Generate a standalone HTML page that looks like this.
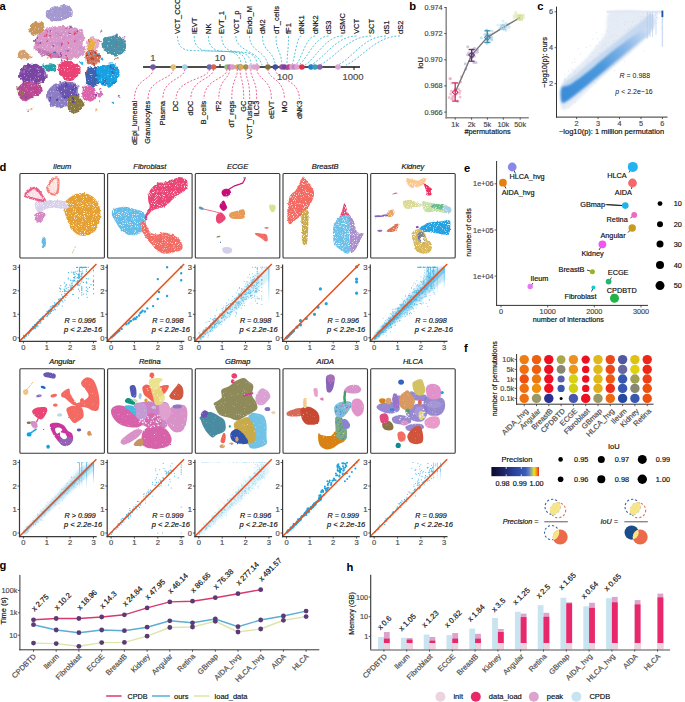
<!DOCTYPE html>
<html><head><meta charset="utf-8"><style>
html,body{margin:0;padding:0;background:#fff;}
svg{display:block;font-family:"Liberation Sans",sans-serif;}
</style></head><body>
<svg width="685" height="702" viewBox="0 0 685 702">
<rect width="685" height="702" fill="#fff"/>
<text x="-0.6" y="9.9" font-size="11.2" fill="#000" style="font-weight:bold;">a</text>
<text x="409.2" y="9.9" font-size="11.2" fill="#000" style="font-weight:bold;">b</text>
<text x="537.2" y="9.9" font-size="11.2" fill="#000" style="font-weight:bold;">c</text>
<text x="-0.4" y="170.5" font-size="11.2" fill="#000" style="font-weight:bold;">d</text>
<text x="463.9" y="171.6" font-size="11.2" fill="#000" style="font-weight:bold;">e</text>
<text x="464" y="351.8" font-size="11.2" fill="#000" style="font-weight:bold;">f</text>
<text x="-0.4" y="568.8" font-size="11.2" fill="#000" style="font-weight:bold;">g</text>
<text x="346.6" y="570.8" font-size="11.2" fill="#000" style="font-weight:bold;">h</text>
<g filter="url(#umapa)">
<path d="M46.1 12.3C47 10.4 50.8 8.9 53.6 7.6C56.5 6.3 60.3 4.7 63.1 4.7C66 4.7 69.1 6 70.7 7.6C72.3 9.2 73.3 12.3 72.6 14.2C72 16.1 69.5 17.8 66.9 19C64.4 20.1 60.6 21.3 57.4 21.3C54.3 21.3 49.9 20.5 48 19C46.1 17.5 45.1 14.2 46.1 12.3Z" fill="#a498d0"/>
<path d="M29.9 26.6C30.8 24.9 32.8 21.9 34.7 21.3C36.6 20.6 39.7 21.6 41.3 22.8C43 23.9 44.7 26.3 44.5 28.1C44.4 29.8 42.3 32 40.4 33.2C38.4 34.4 34.6 35.8 32.8 35.5C31 35.2 30 32.8 29.5 31.3C29.1 29.8 29.1 28.2 29.9 26.6Z" fill="#c8955a"/>
<path d="M18.5 52.2C19.3 51 21.4 49.4 23.3 49.7C25.2 50 28.7 52.7 29.9 54.1C31.2 55.4 32 57 30.9 57.9C29.8 58.7 25.3 59.4 23.3 59.2C21.2 59.1 19.3 58.1 18.5 56.9C17.7 55.8 17.7 53.4 18.5 52.2Z" fill="#d4a070"/>
<path d="M34.7 43.6C35.4 40.4 37.5 35 40.4 32.3C43.2 29.5 47.3 28 51.8 26.9C56.2 25.9 62.2 25.8 66.9 26.2C71.7 26.6 77.3 27.5 80.2 29.4C83.1 31.4 84 35.3 84.4 38C84.8 40.6 82.2 43.6 82.5 45.5C82.8 47.5 86.7 47.8 86.3 49.7C85.9 51.6 83.4 55.4 80.2 56.9C77 58.5 71 59.1 66.9 59.2C62.8 59.3 59.3 57.9 55.5 57.3C51.8 56.7 47.4 56.4 44.2 55.4C40.9 54.5 37.8 53.6 36.2 51.6C34.6 49.7 34 46.9 34.7 43.6Z" fill="#d898c8"/>
<path d="M36.6 48.4C38.2 47.9 44.5 50.5 48 51.2C51.4 52 55.5 52 57.4 53.1C59.3 54.2 60.9 57.3 59.3 57.9C57.8 58.5 51.4 57.6 48 56.9C44.5 56.3 40.4 55.5 38.5 54.1C36.6 52.7 35 48.9 36.6 48.4Z" fill="#c27cb6"/>
<path d="M87.8 38.9C89.2 37.6 92.6 36.9 94.5 37.6C96.4 38.2 98.7 40.7 99.2 42.7C99.7 44.7 98.9 48.4 97.3 49.7C95.7 51.1 91.6 51.6 89.7 50.9C87.8 50.2 86.2 47.5 85.9 45.5C85.6 43.6 86.4 40.2 87.8 38.9Z" fill="#e6a8cc"/>
<path d="M88.8 40.8C89.9 39 92.5 39.4 93.5 40.2C94.5 41 95.5 43.6 95 45.5C94.5 47.5 92 51.3 90.7 52.2C89.3 53.1 87.2 52.8 86.9 50.9C86.5 49 87.7 42.6 88.8 40.8Z" fill="#e8b040"/>
<path d="M85.5 53.1C86.3 51 89.3 49.7 91.6 49.7C93.9 49.7 97.8 51.3 99.2 53.1C100.6 55 101.1 58.8 100.1 60.7C99.2 62.7 95.7 64.6 93.5 64.9C91.3 65.2 88.2 64.6 86.9 62.6C85.5 60.7 84.7 55.3 85.5 53.1Z" fill="#cc7058"/>
<path d="M103 39.9C104.3 37.2 109.3 36.1 112.5 35.7C115.6 35.3 119.7 35.9 122 37.6C124.2 39.2 126.1 42.9 126.1 45.5C126.2 48.2 124.3 51.9 122.4 53.5C120.4 55.2 117.3 55.7 114.4 55.4C111.5 55.1 106.8 54.2 104.9 51.6C103 49 101.7 42.5 103 39.9Z" fill="#4a92a8"/>
<path d="M19.5 72.5C20.3 70.1 22.3 66.9 25.2 65.5C28 64.1 33.3 63.4 36.6 64.1C39.8 64.9 42.9 67.9 44.5 70.2C46.2 72.5 47.1 75.5 46.4 77.8C45.7 80.1 43.3 82.9 40.4 83.9C37.5 84.9 32.3 84.6 29 83.9C25.7 83.2 22 81.6 20.4 79.7C18.9 77.8 18.7 74.9 19.5 72.5Z" fill="#7a44a2"/>
<path d="M18 85.8C19 83.3 21.8 82 25.2 81.6C28.6 81.2 35.6 81.9 38.5 83.5C41.4 85.1 43.2 88.8 42.6 91.1C42.1 93.4 38 95.5 35.1 97.2C32.1 98.8 27.8 101 25.2 101C22.5 100.9 20.3 99.3 19.1 96.8C17.9 94.3 17 88.3 18 85.8Z" fill="#b44892"/>
<path d="M43.8 64.9C44.8 64 47.8 63.1 49.9 63.2C51.9 63.3 55 64.2 55.9 65.5C56.8 66.7 56.5 69.6 55.2 70.6C53.8 71.5 49.9 71.5 48 71.2C46.1 70.9 44.5 69.7 43.8 68.7C43.1 67.7 42.8 65.8 43.8 64.9Z" fill="#22a2a8"/>
<path d="M59 64.5C60.3 62.5 64 60.4 66.9 60.4C69.9 60.3 74.5 62.2 76.8 64.1C79.1 66.1 81.2 69.5 80.6 72.1C80 74.8 75.6 78.8 73 80.1C70.4 81.4 67.4 81.4 65 80.1C62.7 78.8 60 75.1 59 72.5C58 69.9 57.6 66.5 59 64.5Z" fill="#ea4274"/>
<path d="M85.5 70.6C86.9 69 90.8 66.5 93.5 66.4C96.2 66.4 100.1 68 101.5 70.2C102.8 72.4 102.4 77.1 101.5 79.7C100.5 82.3 98.1 85.1 95.8 85.8C93.5 86.5 89.5 85.5 87.8 83.9C86.1 82.3 85.9 78.5 85.5 76.3C85.2 74.1 84.2 72.2 85.5 70.6Z" fill="#3c62b2"/>
<path d="M96.9 68.7C98.2 66.7 101.9 65.3 104.9 64.5C107.9 63.8 112.3 62.9 114.8 64.1C117.2 65.4 119.4 69.1 119.7 72.1C120 75.1 118.5 79.5 116.7 82C114.8 84.4 111.3 86.4 108.7 86.7C106.1 87 103.1 85.6 101.1 83.9C99.1 82.1 97.6 78.8 96.9 76.3C96.2 73.8 95.6 70.7 96.9 68.7Z" fill="#12a2e2"/>
<path d="M47.6 89.6C49.1 87 52.3 84.8 55.5 83.5C58.8 82.2 63.4 81.3 66.9 81.6C70.5 81.9 74.8 83.2 76.8 85.4C78.8 87.6 79.3 92 78.7 94.9C78.1 97.8 75.6 100.9 73 102.9C70.4 104.8 66.4 106 63.1 106.7C59.9 107.3 56.4 107.9 53.6 106.7C50.9 105.4 47.6 101.9 46.6 99.1C45.6 96.2 46.1 92.2 47.6 89.6Z" fill="#8c7cc4"/>
<path d="M59.3 85.4C60.5 83.5 64.4 83.2 66.9 83.5C69.5 83.8 73.1 85.4 74.5 87.3C75.9 89.2 76.7 93 75.5 94.9C74.2 96.8 69.5 98.7 66.9 98.7C64.4 98.7 61.6 97.1 60.3 94.9C59 92.7 58.2 87.3 59.3 85.4Z" fill="#6a54b0"/>
<path d="M68.5 97.2C69.9 95.4 73.9 95 76.4 95.8C78.9 96.7 82.7 100 83.4 102.5C84.1 104.9 82.4 108.6 80.6 110.5C78.8 112.3 74.8 113.9 72.6 113.3C70.4 112.7 68.2 109.3 67.5 106.7C66.8 104 67 99 68.5 97.2Z" fill="#8a7a42"/>
<path d="M83.6 87.3C85.1 85.3 89.6 84.8 91.6 85.4C93.6 86 95.2 88.8 95.8 91.1C96.3 93.4 96.2 97.3 94.8 99.1C93.5 100.9 89.8 102.2 87.8 101.9C85.8 101.6 83.4 99.6 82.7 97.2C82 94.7 82.1 89.3 83.6 87.3Z" fill="#da64aa"/>
<path d="M97.3 92.6C97.9 91.9 100.5 91.5 101.5 91.9C102.5 92.2 103.4 93.9 103.4 94.9C103.3 95.8 102 97.3 101.1 97.5C100.1 97.8 98.3 97.2 97.7 96.4C97 95.6 96.7 93.4 97.3 92.6Z" fill="#d474b4"/>
<path d="M66.9 55.8h0M74.7 33.6h0M50.2 55h0M75.8 41.6h0M50.3 35.4h0M47.8 40.9h0M60.7 44.5h0M66.8 58.8h0M45.8 31.5h0M66.3 27.6h0M36.5 43.2h0M58.7 56.5h0M67.2 43.2h0M60.3 34.4h0" stroke="#e84070" stroke-width="2.2" stroke-linecap="round" stroke-opacity="0.95"/>
<path d="M70.4 32.8h0M77.5 31.3h0M48.5 55.3h0M61 54.2h0M67.7 50.7h0M39.4 44.1h0M60.9 55h0M53.3 45.9h0M37.7 39h0M51.3 31.1h0" stroke="#9a4aa8" stroke-width="2.2" stroke-linecap="round" stroke-opacity="0.9"/>
<path d="M76.8 38.7h0M65.9 47.3h0M69.6 31.2h0M57.4 34.1h0M55.4 29.4h0M69.3 36.1h0M79.8 48.1h0M41.5 54.1h0M64.1 31h0M63.2 32.2h0M80.3 47.4h0M64.1 38.6h0M55.9 34.1h0M58.8 44.3h0M51.3 51h0M84.6 47.9h0M56.8 43.5h0M79.7 37.6h0M65.1 48.8h0M53 43.3h0" stroke="#c890d0" stroke-width="2.8" stroke-linecap="round" stroke-opacity="0.9"/>
<path d="M40.1 82.1h0M30.8 80.2h0M40.9 74.3h0M39 68.6h0M24.8 71.3h0M24.3 71h0M45 75.5h0M28.7 69.5h0M45.1 72.9h0M33.5 81.8h0M39.5 75.6h0M31 81.5h0M30.6 82.4h0M21.3 72.6h0" stroke="#9a70c0" stroke-width="2.4" stroke-linecap="round" stroke-opacity="0.9"/>
<path d="M24.2 97.2h0M34.7 95.5h0M26.2 89.3h0M23.2 99.3h0M32.9 90.9h0M32.6 94.4h0M25.5 100.2h0M29.5 93.8h0M33.6 85.2h0M19.5 89.6h0M36 83.8h0M39.6 91.7h0" stroke="#d050a0" stroke-width="2.4" stroke-linecap="round" stroke-opacity="0.9"/>
<path d="M24.2 86.4h0M22.6 92.6h0M18.9 93h0M22.1 94.7h0M18.5 87.6h0" stroke="#8a7a40" stroke-width="2.2" stroke-linecap="round" stroke-opacity="0.9"/>
<path d="M76.7 95.1h0M72.7 98.1h0M66.2 86.4h0M65.1 82.6h0M57.5 89.6h0M50.2 97.3h0M72.2 89.5h0M50.8 100.8h0M74.9 86.5h0M65 97.6h0M66.2 84h0M67.8 97.4h0M73.1 101.7h0M57.1 99.7h0" stroke="#5040a0" stroke-width="2.4" stroke-linecap="round" stroke-opacity="0.9"/>
<path d="M95 53h0M93.8 64.1h0M91.1 53.6h0M92.2 59.7h0M87 55.5h0M87.5 59.8h0M97.7 55.4h0M91 57.9h0" stroke="#c83020" stroke-width="2.2" stroke-linecap="round" stroke-opacity="0.9"/>
<path d="M88.7 53.5h0M90.4 56.7h0M86.7 61.2h0M94 54.3h0M98.8 53.8h0" stroke="#70b8e0" stroke-width="2.2" stroke-linecap="round" stroke-opacity="0.9"/>
<path d="M103.9 83h0M111 68.4h0M106.8 84.1h0M105.5 80.2h0M114.6 82.8h0M112.3 72.5h0M98.4 75.9h0M114.2 68.5h0" stroke="#3c62b2" stroke-width="2.4" stroke-linecap="round" stroke-opacity="0.9"/>
<circle cx="49.4" cy="70.6" r="1.1" fill="#e83870" fill-opacity="0.85"/>
<circle cx="99.1" cy="101.2" r="1.1" fill="#c070b0" fill-opacity="0.85"/>
<circle cx="35" cy="40.7" r="1.1" fill="#7a44a2" fill-opacity="0.85"/>
<circle cx="104.4" cy="79.8" r="1.1" fill="#3c62b2" fill-opacity="0.85"/>
<circle cx="96.3" cy="109.7" r="1.1" fill="#e8a040" fill-opacity="0.85"/>
<circle cx="118.7" cy="96.7" r="1.1" fill="#6a54b0" fill-opacity="0.85"/>
<circle cx="102" cy="58.6" r="1.1" fill="#12a2e2" fill-opacity="0.85"/>
<circle cx="88" cy="40.7" r="1.1" fill="#e06030" fill-opacity="0.85"/>
<circle cx="100.2" cy="89.4" r="1.1" fill="#e83870" fill-opacity="0.85"/>
<circle cx="96.3" cy="62.8" r="1.1" fill="#c070b0" fill-opacity="0.85"/>
<circle cx="61" cy="60.7" r="1.1" fill="#7a44a2" fill-opacity="0.85"/>
<circle cx="25.4" cy="96.8" r="1.1" fill="#3c62b2" fill-opacity="0.85"/>
<circle cx="77.9" cy="57.9" r="1.1" fill="#e8a040" fill-opacity="0.85"/>
<circle cx="78.4" cy="86.3" r="1.1" fill="#6a54b0" fill-opacity="0.85"/>
<circle cx="61.3" cy="95.6" r="1.1" fill="#12a2e2" fill-opacity="0.85"/>
<circle cx="116.7" cy="57.9" r="1.1" fill="#e06030" fill-opacity="0.85"/>
<circle cx="36.2" cy="89.6" r="1.1" fill="#e83870" fill-opacity="0.85"/>
<circle cx="124.3" cy="37.6" r="1.1" fill="#c070b0" fill-opacity="0.85"/>
<circle cx="95.4" cy="95.2" r="1.1" fill="#7a44a2" fill-opacity="0.85"/>
<circle cx="116.8" cy="35.5" r="1.1" fill="#3c62b2" fill-opacity="0.85"/>
<circle cx="31.5" cy="109" r="1.1" fill="#e8a040" fill-opacity="0.85"/>
<circle cx="34" cy="40" r="1.1" fill="#6a54b0" fill-opacity="0.85"/>
<circle cx="81.2" cy="62.9" r="1.1" fill="#12a2e2" fill-opacity="0.85"/>
<circle cx="99.3" cy="41.2" r="1.1" fill="#e06030" fill-opacity="0.85"/>
<circle cx="116.2" cy="43.5" r="1.1" fill="#e83870" fill-opacity="0.85"/>
<circle cx="101.2" cy="30.7" r="1.1" fill="#c070b0" fill-opacity="0.85"/>
<circle cx="70.8" cy="27.8" r="1.1" fill="#7a44a2" fill-opacity="0.85"/>
<circle cx="54.3" cy="51.5" r="1.1" fill="#3c62b2" fill-opacity="0.85"/>
<circle cx="96.1" cy="63.7" r="1.1" fill="#e8a040" fill-opacity="0.85"/>
<circle cx="27.8" cy="109.6" r="1.1" fill="#6a54b0" fill-opacity="0.85"/>
<circle cx="113.5" cy="102.9" r="1.1" fill="#12a2e2" fill-opacity="0.85"/>
<circle cx="47.4" cy="58.5" r="1.1" fill="#e06030" fill-opacity="0.85"/>
<circle cx="45.4" cy="35.6" r="1.1" fill="#e83870" fill-opacity="0.85"/>
<circle cx="25.4" cy="67.8" r="1.1" fill="#c070b0" fill-opacity="0.85"/>
<circle cx="34.7" cy="40" r="1.1" fill="#7a44a2" fill-opacity="0.85"/>
<circle cx="110.6" cy="66.2" r="1.1" fill="#3c62b2" fill-opacity="0.85"/>
<circle cx="40.9" cy="81.9" r="1.1" fill="#e8a040" fill-opacity="0.85"/>
<circle cx="49.4" cy="69.8" r="1.1" fill="#6a54b0" fill-opacity="0.85"/>
<circle cx="51.1" cy="68.9" r="1.1" fill="#12a2e2" fill-opacity="0.85"/>
<circle cx="86.7" cy="70.6" r="1.1" fill="#e06030" fill-opacity="0.85"/>
</g>
<defs><filter id="umapa" x="-5%" y="-5%" width="110%" height="110%"><feTurbulence type="fractalNoise" baseFrequency="0.22" numOctaves="2" seed="4" result="n1"/><feDisplacementMap in="SourceGraphic" in2="n1" scale="5" xChannelSelector="R" yChannelSelector="G" result="d"/><feTurbulence type="fractalNoise" baseFrequency="0.7" numOctaves="1" seed="9" result="n2"/><feColorMatrix in="n2" type="matrix" values="0 0 0 0 0  0 0 0 0 0  0 0 0 0 0  5 0 0 0 -0.8" result="m"/><feComposite in="d" in2="m" operator="in"/></filter></defs>
<line x1="143" y1="67" x2="360" y2="67" stroke="#111" stroke-width="1.3"/>
<line x1="220" y1="67" x2="220" y2="64" stroke="#111" stroke-width="1"/>
<line x1="287" y1="67" x2="287" y2="70" stroke="#111" stroke-width="1"/>
<line x1="354" y1="67" x2="354" y2="70" stroke="#111" stroke-width="1"/>
<text x="153" y="61" font-size="9.5" fill="#4d4d4d" stroke="#4d4d4d" stroke-width="0.18" text-anchor="middle">1</text>
<text x="220" y="61" font-size="9.5" fill="#4d4d4d" stroke="#4d4d4d" stroke-width="0.18" text-anchor="middle">10</text>
<text x="285" y="80" font-size="9.5" fill="#4d4d4d" stroke="#4d4d4d" stroke-width="0.18" text-anchor="middle">100</text>
<text x="353" y="80" font-size="9.5" fill="#4d4d4d" stroke="#4d4d4d" stroke-width="0.18" text-anchor="middle">1000</text>
<path d="M177.5 36C177.5 46 182.5 50.5 191.5 50.5L227 51.5C236 51.5 241 57 241 65" fill="none" stroke="#2eb4d0" stroke-width="0.8" stroke-dasharray="2 1.6"/>
<path d="M194.2 36C194.2 46 199.2 50.8 208.2 50.8L232 51.8C241 51.8 246 57 246 65" fill="none" stroke="#2eb4d0" stroke-width="0.8" stroke-dasharray="2 1.6"/>
<path d="M208.4 36C208.4 46 213.4 51.1 222.4 51.1L237 52.1C246 52.1 251 57 251 65" fill="none" stroke="#2eb4d0" stroke-width="0.8" stroke-dasharray="2 1.6"/>
<path d="M221.7 36C221.7 46 226.7 51.4 235.7 51.4L243 52.4C252 52.4 257 57 257 65" fill="none" stroke="#2eb4d0" stroke-width="0.8" stroke-dasharray="2 1.6"/>
<path d="M235.9 36C235.9 52 258.1 50 262 65" fill="none" stroke="#2eb4d0" stroke-width="0.8" stroke-dasharray="2 1.6"/>
<path d="M249.6 36C249.6 52 265.2 50 268 65" fill="none" stroke="#2eb4d0" stroke-width="0.8" stroke-dasharray="2 1.6"/>
<path d="M262.5 36C262.5 52 273.4 50 275.3 65" fill="none" stroke="#2eb4d0" stroke-width="0.8" stroke-dasharray="2 1.6"/>
<path d="M276 36C276 52 281.1 50 282 65" fill="none" stroke="#2eb4d0" stroke-width="0.8" stroke-dasharray="2 1.6"/>
<path d="M288.5 36C288.5 52 287.2 50 287 65" fill="none" stroke="#2eb4d0" stroke-width="0.8" stroke-dasharray="2 1.6"/>
<path d="M301.2 36C297.1 36 294.8 58 292 65" fill="none" stroke="#2eb4d0" stroke-width="0.8" stroke-dasharray="2 1.6"/>
<path d="M315.2 36C306.6 36 301.8 58 296 65" fill="none" stroke="#2eb4d0" stroke-width="0.8" stroke-dasharray="2 1.6"/>
<path d="M328.5 36C315.2 36 307.9 58 299 65" fill="none" stroke="#2eb4d0" stroke-width="0.8" stroke-dasharray="2 1.6"/>
<path d="M342.5 36C325.6 36 316.2 58 305 65" fill="none" stroke="#2eb4d0" stroke-width="0.8" stroke-dasharray="2 1.6"/>
<path d="M356.5 36C336 36 324.6 58 311 65" fill="none" stroke="#2eb4d0" stroke-width="0.8" stroke-dasharray="2 1.6"/>
<path d="M371.3 36C348.1 36 335.2 58 319.7 65" fill="none" stroke="#2eb4d0" stroke-width="0.8" stroke-dasharray="2 1.6"/>
<path d="M386 36C364.4 36 352.4 58 338 65" fill="none" stroke="#2eb4d0" stroke-width="0.8" stroke-dasharray="2 1.6"/>
<path d="M400 36C375.7 36 362.2 58 346 65" fill="none" stroke="#2eb4d0" stroke-width="0.8" stroke-dasharray="2 1.6"/>
<text x="180.1" y="34" font-size="7.5" fill="#111" stroke="#111" stroke-width="0.18" transform="rotate(-90 180.1 34)">VCT_CCC</text>
<text x="196.8" y="34" font-size="7.5" fill="#111" stroke="#111" stroke-width="0.18" transform="rotate(-90 196.8 34)">lEVT</text>
<text x="211" y="34" font-size="7.5" fill="#111" stroke="#111" stroke-width="0.18" transform="rotate(-90 211 34)">NK</text>
<text x="224.3" y="34" font-size="7.5" fill="#111" stroke="#111" stroke-width="0.18" transform="rotate(-90 224.3 34)">EVT_1</text>
<text x="238.5" y="34" font-size="7.5" fill="#111" stroke="#111" stroke-width="0.18" transform="rotate(-90 238.5 34)">VCT_p</text>
<text x="252.2" y="34" font-size="7.5" fill="#111" stroke="#111" stroke-width="0.18" transform="rotate(-90 252.2 34)">Endo_M</text>
<text x="265.1" y="34" font-size="7.5" fill="#111" stroke="#111" stroke-width="0.18" transform="rotate(-90 265.1 34)">dM2</text>
<text x="278.6" y="34" font-size="7.5" fill="#111" stroke="#111" stroke-width="0.18" transform="rotate(-90 278.6 34)">dT_cells</text>
<text x="291.1" y="34" font-size="7.5" fill="#111" stroke="#111" stroke-width="0.18" transform="rotate(-90 291.1 34)">fF1</text>
<text x="303.8" y="34" font-size="7.5" fill="#111" stroke="#111" stroke-width="0.18" transform="rotate(-90 303.8 34)">dNK1</text>
<text x="317.8" y="34" font-size="7.5" fill="#111" stroke="#111" stroke-width="0.18" transform="rotate(-90 317.8 34)">dNK2</text>
<text x="331.1" y="34" font-size="7.5" fill="#111" stroke="#111" stroke-width="0.18" transform="rotate(-90 331.1 34)">dS3</text>
<text x="345.1" y="34" font-size="7.5" fill="#111" stroke="#111" stroke-width="0.18" transform="rotate(-90 345.1 34)">uSMC</text>
<text x="359.1" y="34" font-size="7.5" fill="#111" stroke="#111" stroke-width="0.18" transform="rotate(-90 359.1 34)">VCT</text>
<text x="373.9" y="34" font-size="7.5" fill="#111" stroke="#111" stroke-width="0.18" transform="rotate(-90 373.9 34)">SCT</text>
<text x="388.6" y="34" font-size="7.5" fill="#111" stroke="#111" stroke-width="0.18" transform="rotate(-90 388.6 34)">dS1</text>
<text x="402.6" y="34" font-size="7.5" fill="#111" stroke="#111" stroke-width="0.18" transform="rotate(-90 402.6 34)">dS2</text>
<path d="M153 69C153 80 134.5 78 134.5 99" fill="none" stroke="#e8407a" stroke-width="0.8" stroke-dasharray="2 1.6"/>
<path d="M173.3 69C173.3 80 148 78 148 99" fill="none" stroke="#e8407a" stroke-width="0.8" stroke-dasharray="2 1.6"/>
<path d="M184.8 69C184.8 80 162.8 78 162.8 99" fill="none" stroke="#e8407a" stroke-width="0.8" stroke-dasharray="2 1.6"/>
<path d="M209.4 69C209.4 80 176 78 176 99" fill="none" stroke="#e8407a" stroke-width="0.8" stroke-dasharray="2 1.6"/>
<path d="M213.6 69C213.6 80 190.8 78 190.8 99" fill="none" stroke="#e8407a" stroke-width="0.8" stroke-dasharray="2 1.6"/>
<path d="M227 69C227 80 204 78 204 99" fill="none" stroke="#e8407a" stroke-width="0.8" stroke-dasharray="2 1.6"/>
<path d="M229.7 69C229.7 80 218.8 78 218.8 99" fill="none" stroke="#e8407a" stroke-width="0.8" stroke-dasharray="2 1.6"/>
<path d="M237.4 69C237.4 80 231.8 78 231.8 99" fill="none" stroke="#e8407a" stroke-width="0.8" stroke-dasharray="2 1.6"/>
<path d="M240 69C240 80 243.7 78 243.7 99" fill="none" stroke="#e8407a" stroke-width="0.8" stroke-dasharray="2 1.6"/>
<path d="M245.8 69C245.8 80 249.7 78 249.7 99" fill="none" stroke="#e8407a" stroke-width="0.8" stroke-dasharray="2 1.6"/>
<path d="M250.7 69C250.7 80 256.7 78 256.7 99" fill="none" stroke="#e8407a" stroke-width="0.8" stroke-dasharray="2 1.6"/>
<path d="M257 69C257 80 271.4 78 271.4 99" fill="none" stroke="#e8407a" stroke-width="0.8" stroke-dasharray="2 1.6"/>
<path d="M267.9 69C267.9 80 284.4 78 284.4 99" fill="none" stroke="#e8407a" stroke-width="0.8" stroke-dasharray="2 1.6"/>
<path d="M275.3 69C275.3 80 299.4 78 299.4 99" fill="none" stroke="#e8407a" stroke-width="0.8" stroke-dasharray="2 1.6"/>
<text x="136.9" y="100.8" font-size="7.3" fill="#111" stroke="#111" stroke-width="0.18" text-anchor="end" transform="rotate(-90 136.9 100.8)">dEpi_lumenal</text>
<text x="150.4" y="100.8" font-size="7.3" fill="#111" stroke="#111" stroke-width="0.18" text-anchor="end" transform="rotate(-90 150.4 100.8)">Granulocytes</text>
<text x="165.2" y="100.8" font-size="7.3" fill="#111" stroke="#111" stroke-width="0.18" text-anchor="end" transform="rotate(-90 165.2 100.8)">Plasma</text>
<text x="178.4" y="100.8" font-size="7.3" fill="#111" stroke="#111" stroke-width="0.18" text-anchor="end" transform="rotate(-90 178.4 100.8)">DC</text>
<text x="193.2" y="100.8" font-size="7.3" fill="#111" stroke="#111" stroke-width="0.18" text-anchor="end" transform="rotate(-90 193.2 100.8)">dDC</text>
<text x="206.4" y="100.8" font-size="7.3" fill="#111" stroke="#111" stroke-width="0.18" text-anchor="end" transform="rotate(-90 206.4 100.8)">B_cells</text>
<text x="221.2" y="100.8" font-size="7.3" fill="#111" stroke="#111" stroke-width="0.18" text-anchor="end" transform="rotate(-90 221.2 100.8)">fF2</text>
<text x="234.2" y="100.8" font-size="7.3" fill="#111" stroke="#111" stroke-width="0.18" text-anchor="end" transform="rotate(-90 234.2 100.8)">dT_regs</text>
<text x="246.1" y="100.8" font-size="7.3" fill="#111" stroke="#111" stroke-width="0.18" text-anchor="end" transform="rotate(-90 246.1 100.8)">GC</text>
<text x="252.1" y="100.8" font-size="7.3" fill="#111" stroke="#111" stroke-width="0.18" text-anchor="end" transform="rotate(-90 252.1 100.8)">VCT_fusing</text>
<text x="259.1" y="100.8" font-size="7.3" fill="#111" stroke="#111" stroke-width="0.18" text-anchor="end" transform="rotate(-90 259.1 100.8)">ILC3</text>
<text x="273.8" y="100.8" font-size="7.3" fill="#111" stroke="#111" stroke-width="0.18" text-anchor="end" transform="rotate(-90 273.8 100.8)">eEVT</text>
<text x="286.8" y="100.8" font-size="7.3" fill="#111" stroke="#111" stroke-width="0.18" text-anchor="end" transform="rotate(-90 286.8 100.8)">MO</text>
<text x="301.8" y="100.8" font-size="7.3" fill="#111" stroke="#111" stroke-width="0.18" text-anchor="end" transform="rotate(-90 301.8 100.8)">dNK3</text>
<circle cx="153" cy="67" r="2.8" fill="#6a5aa6"/>
<circle cx="173.3" cy="67" r="2.8" fill="#e2c070"/>
<circle cx="184.8" cy="67" r="2.8" fill="#a8d2e4"/>
<circle cx="209.4" cy="67" r="2.8" fill="#6a68b2"/>
<circle cx="213.6" cy="67" r="2.8" fill="#e06050"/>
<circle cx="227" cy="67" r="2.8" fill="#90c080"/>
<circle cx="229.7" cy="67" r="2.8" fill="#c070b0"/>
<circle cx="232.5" cy="67" r="2.8" fill="#d89ac8"/>
<circle cx="237.4" cy="67" r="2.8" fill="#e0a850"/>
<circle cx="240" cy="67" r="2.8" fill="#4a90d0"/>
<circle cx="241" cy="67" r="2.8" fill="#e0a850"/>
<circle cx="245.8" cy="67" r="2.8" fill="#a09050"/>
<circle cx="250.7" cy="67" r="2.8" fill="#e0c0d8"/>
<circle cx="254" cy="67" r="2.8" fill="#d8a8d0"/>
<circle cx="257" cy="67" r="2.8" fill="#e0a0c8"/>
<circle cx="267.9" cy="67" r="2.8" fill="#807040"/>
<circle cx="275.3" cy="67" r="2.8" fill="#4050a0"/>
<circle cx="282" cy="67" r="2.8" fill="#a050a0"/>
<circle cx="284.4" cy="67" r="2.8" fill="#8040a0"/>
<circle cx="289" cy="67" r="2.8" fill="#c04090"/>
<circle cx="292" cy="67" r="2.8" fill="#d8a0d0"/>
<circle cx="294.5" cy="67" r="2.8" fill="#c880c0"/>
<circle cx="297" cy="67" r="2.8" fill="#e0a0d0"/>
<circle cx="301.9" cy="67" r="2.8" fill="#e03050"/>
<circle cx="311" cy="67" r="2.8" fill="#2080d0"/>
<circle cx="315" cy="67" r="2.8" fill="#3aa0b0"/>
<circle cx="319.7" cy="67" r="2.8" fill="#9060b0"/>
<circle cx="338" cy="67" r="2.8" fill="#d8a8d8"/>
<line x1="446.2" y1="7" x2="446.2" y2="118.4" stroke="#8a8a8a" stroke-width="1.5"/>
<line x1="445.5" y1="117.7" x2="528.8" y2="117.7" stroke="#8a8a8a" stroke-width="1.5"/>
<line x1="444.2" y1="112.1" x2="446.2" y2="112.1" stroke="#333" stroke-width="0.8"/>
<text x="442.7" y="114.6" font-size="7.3" fill="#4d4d4d" stroke="#4d4d4d" stroke-width="0.18" text-anchor="end">0.966</text>
<line x1="444.2" y1="85.9" x2="446.2" y2="85.9" stroke="#333" stroke-width="0.8"/>
<text x="442.7" y="88.4" font-size="7.3" fill="#4d4d4d" stroke="#4d4d4d" stroke-width="0.18" text-anchor="end">0.968</text>
<line x1="444.2" y1="59.8" x2="446.2" y2="59.8" stroke="#333" stroke-width="0.8"/>
<text x="442.7" y="62.3" font-size="7.3" fill="#4d4d4d" stroke="#4d4d4d" stroke-width="0.18" text-anchor="end">0.970</text>
<line x1="444.2" y1="33.6" x2="446.2" y2="33.6" stroke="#333" stroke-width="0.8"/>
<text x="442.7" y="36.1" font-size="7.3" fill="#4d4d4d" stroke="#4d4d4d" stroke-width="0.18" text-anchor="end">0.972</text>
<line x1="444.2" y1="7.5" x2="446.2" y2="7.5" stroke="#333" stroke-width="0.8"/>
<text x="442.7" y="10" font-size="7.3" fill="#4d4d4d" stroke="#4d4d4d" stroke-width="0.18" text-anchor="end">0.974</text>
<line x1="455.2" y1="117.7" x2="455.2" y2="119.7" stroke="#333" stroke-width="0.8"/>
<text x="455.2" y="127.2" font-size="7.3" fill="#4d4d4d" stroke="#4d4d4d" stroke-width="0.18" text-anchor="middle">1k</text>
<line x1="471.6" y1="117.7" x2="471.6" y2="119.7" stroke="#333" stroke-width="0.8"/>
<text x="471.6" y="127.2" font-size="7.3" fill="#4d4d4d" stroke="#4d4d4d" stroke-width="0.18" text-anchor="middle">2k</text>
<line x1="487.4" y1="117.7" x2="487.4" y2="119.7" stroke="#333" stroke-width="0.8"/>
<text x="487.4" y="127.2" font-size="7.3" fill="#4d4d4d" stroke="#4d4d4d" stroke-width="0.18" text-anchor="middle">5k</text>
<line x1="503.3" y1="117.7" x2="503.3" y2="119.7" stroke="#333" stroke-width="0.8"/>
<text x="503.3" y="127.2" font-size="7.3" fill="#4d4d4d" stroke="#4d4d4d" stroke-width="0.18" text-anchor="middle">10k</text>
<line x1="520.2" y1="117.7" x2="520.2" y2="119.7" stroke="#333" stroke-width="0.8"/>
<text x="520.2" y="127.2" font-size="7.3" fill="#4d4d4d" stroke="#4d4d4d" stroke-width="0.18" text-anchor="middle">50k</text>
<text x="487.5" y="134" font-size="7.3" fill="#111" stroke="#111" stroke-width="0.18" text-anchor="middle">#permutations</text>
<text x="422.5" y="63" font-size="7.5" fill="#111" stroke="#111" stroke-width="0.18" text-anchor="middle" transform="rotate(-90 422.5 63)">IoU</text>
<circle cx="453.8" cy="96.3" r="1.5" fill="#e8a0b8" fill-opacity="0.6"/>
<circle cx="460.1" cy="97" r="1.5" fill="#e8a0b8" fill-opacity="0.6"/>
<circle cx="450.5" cy="78.8" r="1.5" fill="#e8a0b8" fill-opacity="0.6"/>
<circle cx="461.4" cy="76.7" r="1.5" fill="#e8a0b8" fill-opacity="0.6"/>
<circle cx="451.7" cy="99.1" r="1.5" fill="#e8a0b8" fill-opacity="0.6"/>
<circle cx="451.4" cy="91.1" r="1.5" fill="#e8a0b8" fill-opacity="0.6"/>
<circle cx="455.2" cy="89.3" r="1.5" fill="#e8a0b8" fill-opacity="0.6"/>
<circle cx="449.2" cy="97.4" r="1.5" fill="#e8a0b8" fill-opacity="0.6"/>
<circle cx="456.5" cy="94" r="1.5" fill="#e8a0b8" fill-opacity="0.6"/>
<circle cx="451.8" cy="82.9" r="1.5" fill="#e8a0b8" fill-opacity="0.6"/>
<circle cx="460.2" cy="90.9" r="1.5" fill="#e8a0b8" fill-opacity="0.6"/>
<circle cx="459.5" cy="93.2" r="1.5" fill="#e8a0b8" fill-opacity="0.6"/>
<circle cx="457.9" cy="101.2" r="1.5" fill="#e8a0b8" fill-opacity="0.6"/>
<circle cx="457.6" cy="101" r="1.5" fill="#e8a0b8" fill-opacity="0.6"/>
<circle cx="452.6" cy="96.4" r="1.5" fill="#e8a0b8" fill-opacity="0.6"/>
<circle cx="458.5" cy="89.2" r="1.5" fill="#e8a0b8" fill-opacity="0.6"/>
<circle cx="460.7" cy="81.9" r="1.5" fill="#e8a0b8" fill-opacity="0.6"/>
<circle cx="453" cy="98.7" r="1.5" fill="#e8a0b8" fill-opacity="0.6"/>
<circle cx="450.7" cy="94" r="1.5" fill="#e8a0b8" fill-opacity="0.6"/>
<circle cx="449.9" cy="78.4" r="1.5" fill="#e8a0b8" fill-opacity="0.6"/>
<circle cx="472.6" cy="56.1" r="1.5" fill="#b8a0c8" fill-opacity="0.6"/>
<circle cx="468.8" cy="53" r="1.5" fill="#b8a0c8" fill-opacity="0.6"/>
<circle cx="474.2" cy="56.3" r="1.5" fill="#b8a0c8" fill-opacity="0.6"/>
<circle cx="477.5" cy="50" r="1.5" fill="#b8a0c8" fill-opacity="0.6"/>
<circle cx="470.5" cy="57.7" r="1.5" fill="#b8a0c8" fill-opacity="0.6"/>
<circle cx="476" cy="62.5" r="1.5" fill="#b8a0c8" fill-opacity="0.6"/>
<circle cx="473.8" cy="62.5" r="1.5" fill="#b8a0c8" fill-opacity="0.6"/>
<circle cx="472.3" cy="53.5" r="1.5" fill="#b8a0c8" fill-opacity="0.6"/>
<circle cx="465.9" cy="69.1" r="1.5" fill="#b8a0c8" fill-opacity="0.6"/>
<circle cx="465.3" cy="63.8" r="1.5" fill="#b8a0c8" fill-opacity="0.6"/>
<circle cx="471.2" cy="56" r="1.5" fill="#b8a0c8" fill-opacity="0.6"/>
<circle cx="474.5" cy="53" r="1.5" fill="#b8a0c8" fill-opacity="0.6"/>
<circle cx="474.6" cy="48.2" r="1.5" fill="#b8a0c8" fill-opacity="0.6"/>
<circle cx="472.4" cy="57" r="1.5" fill="#b8a0c8" fill-opacity="0.6"/>
<circle cx="477.2" cy="52.3" r="1.5" fill="#b8a0c8" fill-opacity="0.6"/>
<circle cx="471" cy="54.8" r="1.5" fill="#b8a0c8" fill-opacity="0.6"/>
<circle cx="472.3" cy="50.5" r="1.5" fill="#b8a0c8" fill-opacity="0.6"/>
<circle cx="472.8" cy="49.5" r="1.5" fill="#b8a0c8" fill-opacity="0.6"/>
<circle cx="467.6" cy="54.8" r="1.5" fill="#b8a0c8" fill-opacity="0.6"/>
<circle cx="467.7" cy="46.7" r="1.5" fill="#b8a0c8" fill-opacity="0.6"/>
<circle cx="490.7" cy="34.8" r="1.5" fill="#a8d0e0" fill-opacity="0.6"/>
<circle cx="488.1" cy="40.8" r="1.5" fill="#a8d0e0" fill-opacity="0.6"/>
<circle cx="487" cy="43.4" r="1.5" fill="#a8d0e0" fill-opacity="0.6"/>
<circle cx="491.5" cy="38.9" r="1.5" fill="#a8d0e0" fill-opacity="0.6"/>
<circle cx="489.2" cy="34.4" r="1.5" fill="#a8d0e0" fill-opacity="0.6"/>
<circle cx="488.2" cy="36.8" r="1.5" fill="#a8d0e0" fill-opacity="0.6"/>
<circle cx="490.6" cy="37.2" r="1.5" fill="#a8d0e0" fill-opacity="0.6"/>
<circle cx="487" cy="37" r="1.5" fill="#a8d0e0" fill-opacity="0.6"/>
<circle cx="487.4" cy="41.2" r="1.5" fill="#a8d0e0" fill-opacity="0.6"/>
<circle cx="491.6" cy="37.2" r="1.5" fill="#a8d0e0" fill-opacity="0.6"/>
<circle cx="491.9" cy="40" r="1.5" fill="#a8d0e0" fill-opacity="0.6"/>
<circle cx="486.7" cy="30.2" r="1.5" fill="#a8d0e0" fill-opacity="0.6"/>
<circle cx="481.3" cy="37.7" r="1.5" fill="#a8d0e0" fill-opacity="0.6"/>
<circle cx="492.1" cy="31.3" r="1.5" fill="#a8d0e0" fill-opacity="0.6"/>
<circle cx="488.2" cy="34.4" r="1.5" fill="#a8d0e0" fill-opacity="0.6"/>
<circle cx="489.7" cy="38.9" r="1.5" fill="#a8d0e0" fill-opacity="0.6"/>
<circle cx="486.4" cy="34.5" r="1.5" fill="#a8d0e0" fill-opacity="0.6"/>
<circle cx="484.7" cy="34.4" r="1.5" fill="#a8d0e0" fill-opacity="0.6"/>
<circle cx="486.5" cy="33.5" r="1.5" fill="#a8d0e0" fill-opacity="0.6"/>
<circle cx="486.7" cy="30.1" r="1.5" fill="#a8d0e0" fill-opacity="0.6"/>
<circle cx="504.4" cy="26.6" r="1.5" fill="#c8e6f2" fill-opacity="0.6"/>
<circle cx="508.4" cy="27.2" r="1.5" fill="#c8e6f2" fill-opacity="0.6"/>
<circle cx="500.3" cy="27.4" r="1.5" fill="#c8e6f2" fill-opacity="0.6"/>
<circle cx="503.2" cy="25" r="1.5" fill="#c8e6f2" fill-opacity="0.6"/>
<circle cx="497.8" cy="25.1" r="1.5" fill="#c8e6f2" fill-opacity="0.6"/>
<circle cx="499.4" cy="28.9" r="1.5" fill="#c8e6f2" fill-opacity="0.6"/>
<circle cx="507.6" cy="25.2" r="1.5" fill="#c8e6f2" fill-opacity="0.6"/>
<circle cx="503" cy="26.5" r="1.5" fill="#c8e6f2" fill-opacity="0.6"/>
<circle cx="502.8" cy="21.1" r="1.5" fill="#c8e6f2" fill-opacity="0.6"/>
<circle cx="503.9" cy="24.9" r="1.5" fill="#c8e6f2" fill-opacity="0.6"/>
<circle cx="500.9" cy="24.9" r="1.5" fill="#c8e6f2" fill-opacity="0.6"/>
<circle cx="506.8" cy="24" r="1.5" fill="#c8e6f2" fill-opacity="0.6"/>
<circle cx="506.3" cy="30.3" r="1.5" fill="#c8e6f2" fill-opacity="0.6"/>
<circle cx="502.6" cy="26.4" r="1.5" fill="#c8e6f2" fill-opacity="0.6"/>
<circle cx="505.7" cy="23.1" r="1.5" fill="#c8e6f2" fill-opacity="0.6"/>
<circle cx="505.2" cy="27.2" r="1.5" fill="#c8e6f2" fill-opacity="0.6"/>
<circle cx="505.1" cy="27.1" r="1.5" fill="#c8e6f2" fill-opacity="0.6"/>
<circle cx="503" cy="27.2" r="1.5" fill="#c8e6f2" fill-opacity="0.6"/>
<circle cx="505" cy="30.1" r="1.5" fill="#c8e6f2" fill-opacity="0.6"/>
<circle cx="509.3" cy="27" r="1.5" fill="#c8e6f2" fill-opacity="0.6"/>
<circle cx="517.7" cy="17.3" r="1.5" fill="#e4ecc4" fill-opacity="0.6"/>
<circle cx="514.6" cy="15.6" r="1.5" fill="#e4ecc4" fill-opacity="0.6"/>
<circle cx="523.7" cy="14.9" r="1.5" fill="#e4ecc4" fill-opacity="0.6"/>
<circle cx="516.2" cy="17.2" r="1.5" fill="#e4ecc4" fill-opacity="0.6"/>
<circle cx="517.9" cy="17" r="1.5" fill="#e4ecc4" fill-opacity="0.6"/>
<circle cx="520" cy="15.1" r="1.5" fill="#e4ecc4" fill-opacity="0.6"/>
<circle cx="522.2" cy="16.1" r="1.5" fill="#e4ecc4" fill-opacity="0.6"/>
<circle cx="523.7" cy="17.5" r="1.5" fill="#e4ecc4" fill-opacity="0.6"/>
<circle cx="518.2" cy="17.7" r="1.5" fill="#e4ecc4" fill-opacity="0.6"/>
<circle cx="519.4" cy="16" r="1.5" fill="#e4ecc4" fill-opacity="0.6"/>
<circle cx="515.5" cy="12.3" r="1.5" fill="#e4ecc4" fill-opacity="0.6"/>
<circle cx="522" cy="17.9" r="1.5" fill="#e4ecc4" fill-opacity="0.6"/>
<circle cx="515.5" cy="16.4" r="1.5" fill="#e4ecc4" fill-opacity="0.6"/>
<circle cx="517.4" cy="15.1" r="1.5" fill="#e4ecc4" fill-opacity="0.6"/>
<circle cx="514" cy="16.1" r="1.5" fill="#e4ecc4" fill-opacity="0.6"/>
<circle cx="515.8" cy="14.5" r="1.5" fill="#e4ecc4" fill-opacity="0.6"/>
<circle cx="513.9" cy="17.9" r="1.5" fill="#e4ecc4" fill-opacity="0.6"/>
<circle cx="517.2" cy="16.4" r="1.5" fill="#e4ecc4" fill-opacity="0.6"/>
<circle cx="516.1" cy="13.3" r="1.5" fill="#e4ecc4" fill-opacity="0.6"/>
<circle cx="519" cy="18.1" r="1.5" fill="#e4ecc4" fill-opacity="0.6"/>
<path d="M455.2 92.3 L471.6 55.1 L487.4 37.4 L503.3 27.3 L520.2 17.5" fill="none" stroke="#777" stroke-width="1.4"/>
<line x1="455.2" y1="82.9" x2="455.2" y2="101.1" stroke="#d02a64" stroke-width="1.3"/>
<line x1="452.2" y1="82.9" x2="458.2" y2="82.9" stroke="#d02a64" stroke-width="1.3"/>
<line x1="452.2" y1="101.1" x2="458.2" y2="101.1" stroke="#d02a64" stroke-width="1.3"/>
<rect x="453.2" y="90.3" width="4" height="4" transform="rotate(45 455.2 92.3)" fill="none" stroke="#d02a64" stroke-width="1"/>
<line x1="471.6" y1="49.5" x2="471.6" y2="61.2" stroke="#5c3474" stroke-width="1.3"/>
<line x1="468.6" y1="49.5" x2="474.6" y2="49.5" stroke="#5c3474" stroke-width="1.3"/>
<line x1="468.6" y1="61.2" x2="474.6" y2="61.2" stroke="#5c3474" stroke-width="1.3"/>
<rect x="469.6" y="53.1" width="4" height="4" transform="rotate(45 471.6 55.1)" fill="none" stroke="#5c3474" stroke-width="1"/>
<line x1="487.4" y1="30.8" x2="487.4" y2="42.5" stroke="#3a92b8" stroke-width="1.3"/>
<line x1="484.4" y1="30.8" x2="490.4" y2="30.8" stroke="#3a92b8" stroke-width="1.3"/>
<line x1="484.4" y1="42.5" x2="490.4" y2="42.5" stroke="#3a92b8" stroke-width="1.3"/>
<rect x="485.4" y="35.4" width="4" height="4" transform="rotate(45 487.4 37.4)" fill="none" stroke="#3a92b8" stroke-width="1"/>
<line x1="503.3" y1="25.2" x2="503.3" y2="29.2" stroke="#9ed4ea" stroke-width="1.3"/>
<line x1="500.3" y1="25.2" x2="506.3" y2="25.2" stroke="#9ed4ea" stroke-width="1.3"/>
<line x1="500.3" y1="29.2" x2="506.3" y2="29.2" stroke="#9ed4ea" stroke-width="1.3"/>
<rect x="501.3" y="25.3" width="4" height="4" transform="rotate(45 503.3 27.3)" fill="none" stroke="#9ed4ea" stroke-width="1"/>
<line x1="520.2" y1="15.2" x2="520.2" y2="19.9" stroke="#d4e0a0" stroke-width="1.3"/>
<line x1="517.2" y1="15.2" x2="523.2" y2="15.2" stroke="#d4e0a0" stroke-width="1.3"/>
<line x1="517.2" y1="19.9" x2="523.2" y2="19.9" stroke="#d4e0a0" stroke-width="1.3"/>
<rect x="518.2" y="15.5" width="4" height="4" transform="rotate(45 520.2 17.5)" fill="none" stroke="#d4e0a0" stroke-width="1"/>
<defs><filter id="bl1" x="-20%" y="-20%" width="140%" height="140%"><feGaussianBlur stdDeviation="1.2"/></filter><filter id="bl2" x="-20%" y="-20%" width="140%" height="140%"><feGaussianBlur stdDeviation="2.5"/></filter><filter id="bl05"><feGaussianBlur stdDeviation="0.5"/></filter><filter id="bl08" x="-10%" y="-10%" width="120%" height="120%"><feGaussianBlur stdDeviation="0.9"/></filter></defs>
<defs><linearGradient id="cg" gradientUnits="userSpaceOnUse" x1="561.6" y1="96.2" x2="649.5" y2="29.8"><stop offset="0" stop-color="#3a8cd8"/><stop offset="0.45" stop-color="#4c98dc"/><stop offset="0.75" stop-color="#8cb8e8"/><stop offset="1" stop-color="#d0e0f4"/></linearGradient></defs>
<path d="M561.6 108.7C559.8 105.4 559.9 91.5 561.6 85.4C563.3 79.3 567.4 77.1 571.9 72.1C576.4 67.1 583 61.9 588.6 55.4C594.2 49 601.7 40.8 605.3 33.5C609 26.2 603.5 15.4 610.5 11.8C617.5 8.2 640.2 10.6 647.4 11.8C654.6 13 653.1 15.7 653.8 19C654.5 22.3 655.6 25.9 651.7 31.5C647.7 37.2 637.4 46.5 630.2 53.1C623.1 59.7 615.9 64.8 608.8 71C601.6 77.3 593.4 85.1 587.3 90.8C581.2 96.5 576.6 102.1 572.3 105.1C568 108.1 563.4 112 561.6 108.7Z" fill="#e6ecf5" filter="url(#bl1)"/>
<path d="M643.9 16.8h0M654.7 14.7h0M629 28.9h0M628.5 50.2h0M639.4 12.1h0M657.7 11.8h0M573.1 70.1h0M653.8 28.8h0M623.3 45.1h0M630 36.6h0M657.6 11.8h0M595.4 62.7h0M563.5 101.9h0M631.5 26.8h0M647.4 16.9h0M595.5 69.8h0M574.9 70.9h0M592.2 52.7h0M655.1 14.9h0M652.2 24.9h0M647.6 11.8h0M561.9 86.3h0M586.3 73.1h0M642.2 31.7h0M583 75.6h0M656.3 11.8h0M632.4 30.8h0M643.8 50.9h0M613.6 40.5h0M617 25.2h0M570.1 79.4h0M638.7 16.9h0M593.1 63.9h0M607.4 30.4h0M591.1 65.7h0M625.7 21.8h0M599.7 42.1h0M632 33h0M564.3 79.2h0M633.5 45.9h0M635.3 24.6h0M608.9 66.7h0M606.8 46.8h0M592.4 69.2h0M583.7 73.9h0M579 85.1h0M608.5 48.4h0M636.1 20.3h0M589.1 76.8h0M612.7 50.9h0M574.2 77h0M609.4 56.7h0M568.3 71.2h0M648.8 11.8h0M562.2 87h0M598.8 60.1h0M569 82.4h0M643.5 30.3h0M607.3 67.1h0M593.8 71.1h0M601.1 54.5h0M569.8 86.6h0M657.7 19h0M626.8 46.3h0M619.2 42h0M621 44h0M617.1 35.9h0M620.3 51.9h0M578.3 48.6h0M643.9 22.2h0M616.5 21.7h0M602.2 59.8h0M599.1 53.2h0M630.8 37.4h0M572.4 62.4h0M654.7 11.8h0M586.7 76.6h0M647.2 20.3h0M566 78.8h0M581 91.8h0M654.5 20.1h0M578.9 81.9h0M614.4 70.5h0M605.7 50.2h0M597.2 38.7h0M637.3 46h0M643.1 34.7h0M640.4 23.1h0M649.4 12.7h0M607.5 48.2h0M612.8 50.4h0M575.6 84h0M566.9 103.6h0M574.7 59h0M597.5 45.6h0M589.9 73.5h0M595 62.6h0M587.4 71.4h0M637.7 30.9h0M651 26.7h0M592.9 39.1h0M587.1 71.1h0M605.7 45.3h0M655.9 13.2h0M633.4 26.9h0M574.9 62h0M631.7 30.3h0M652.9 11.8h0M570.9 89.3h0M656.1 11.8h0M654.2 11.8h0M568.3 76.1h0M607.8 58.3h0M635.9 37.6h0M662.1 11.8h0M643.5 28.3h0M640.6 20.4h0M661.6 11.8h0M607.2 59.8h0M656.9 23.2h0M656.4 17.5h0M599.4 58.8h0M609.1 42.6h0M600.5 53.5h0M575.7 71.3h0M637.6 13h0M629.3 29h0M584.8 86.2h0M589.6 69.2h0M638.3 40.3h0M594.2 61.5h0M580.4 92.5h0M631.9 32h0M591.5 63.9h0M565 81.1h0M619.9 41.5h0M596.7 32.8h0M621.1 45.1h0M632.8 21.8h0M659.3 13.3h0M587.1 79h0M661.5 11.8h0M622.6 54.4h0M657.4 11.8h0M614.1 65h0M632.4 22h0M594.6 63.1h0M565.1 80.1h0M569.2 96.1h0M595.2 46.2h0M564.7 74.8h0M605.5 43.1h0M633 31.8h0M586.3 60.9h0M652.1 15.1h0M571 69h0M564.4 106.3h0M564.1 87.6h0M625.4 22.3h0M577.3 68h0M595.4 52.2h0M570.3 74.3h0M629.8 31.2h0M623.9 47.7h0M587.8 63h0M657.6 14.3h0M626.2 38.8h0M563.1 90h0M568.3 84.5h0M631.5 41.8h0M640.9 16.4h0M579.4 73h0M647.4 11.8h0M586.2 47.5h0M602.2 48h0M612.5 46.2h0M606.2 66.7h0M633.4 30.3h0M649.2 14.6h0M593.5 60.2h0M656.3 11.8h0M571.3 87.4h0M661.4 11.8h0M567.1 83.7h0M612.4 36.2h0M657.5 17.2h0M574.2 76h0M602.7 42.7h0M624.5 24.4h0M619.7 53.1h0M644 21.9h0M632 34.8h0M609.1 37.3h0M615.9 40h0M604.8 60.7h0M567.3 85.4h0M563.4 93.6h0M600 57.4h0M591.4 69.5h0M579 73h0M658.4 11.8h0M608.5 26.2h0M590.8 56.7h0M590.5 45.7h0M595.3 82.8h0M654.9 11.8h0M643 13.8h0M599.8 53h0M568.6 84.9h0M624.4 61.6h0M629.1 44.5h0M660.5 11.8h0M642.9 17.8h0M659.4 17.9h0M649.2 16.9h0M624.3 39.1h0M581.8 74.5h0M590.9 65.2h0M574.5 72.9h0M654.6 15.7h0M562.9 90.5h0M575.1 88.2h0M620.4 45h0M604.9 62.6h0M628.6 29.6h0M601.8 34.4h0M652.8 11.8h0M634 36.4h0M651.8 11.8h0M612.5 46.7h0M629.4 52.6h0M575.4 102.2h0M564.5 95.2h0M658.3 11.8h0M577.9 91.7h0M570.3 94.1h0M621.3 50.3h0M572.5 92.1h0M642.7 36.8h0M575.5 81.7h0M625.1 30.6h0M648.7 14.9h0M613.1 57.3h0M618.4 45h0M635.3 28.7h0M661.6 27.6h0M604.3 44.6h0M640.2 32.7h0M626.1 50.8h0M613.6 20h0M608.8 62.3h0M590.3 70.2h0M593.5 72h0M602.9 45.8h0M657.2 13.9h0M661.8 22.7h0M569 107.7h0M566.6 92.5h0M580.3 54.1h0" stroke="#d0dcec" stroke-width="0.9" stroke-linecap="round"/>
<path d="M561.6 103.3C560.9 100.7 559.1 91.2 561.6 86.3C564.1 81.4 570.5 78.8 576.6 73.7C582.7 68.6 590.9 61.6 598.1 55.8C605.2 49.9 612.4 44.4 619.5 38.7C626.6 33 635.6 25.9 641 21.7C646.3 17.5 649.5 12.8 651.7 13.6C653.8 14.3 655.6 21.7 653.8 26.2C652 30.6 646.7 34.8 641 40.5C635.2 46.2 626.6 54 619.5 60.3C612.4 66.5 605.2 72.4 598.1 78.2C590.9 84 582 91.2 576.6 95.3C571.2 99.3 568.4 101.1 565.9 102.4C563.4 103.8 562.3 106 561.6 103.3Z" fill="#c6d9f0" filter="url(#bl1)"/>
<path d="M561.6 101.5C560.9 99.3 560.2 90.9 561.6 88.1C563 85.2 565.7 87.3 570.2 84.5C574.7 81.7 581.4 76.9 588.6 71.2C595.9 65.5 605.3 56.8 613.7 50.2C622.1 43.7 633.2 35.6 638.8 31.9C644.4 28.2 645.8 27.4 647.4 28C649 28.5 649.9 32.8 648.5 35.1C647 37.5 644.6 37.3 638.8 42C633 46.6 622.1 56 613.7 63C605.3 70 595.5 78.3 588.6 84C581.7 89.6 576.1 94.1 572.3 97.1C568.5 100 567.7 100.8 565.9 101.5C564.1 102.3 562.3 103.8 561.6 101.5Z" fill="url(#cg)" filter="url(#bl08)"/>
<rect x="606.6" y="10.6" width="55.8" height="2.4" fill="#e2e9f4"/>
<rect x="646.9" y="11.8" width="1" height="26.9" fill="#b4cbea" fill-opacity="0.6"/>
<rect x="649.5" y="11.8" width="1" height="25.1" fill="#b4cbea" fill-opacity="0.6"/>
<rect x="652" y="11.8" width="1" height="25.1" fill="#b4cbea" fill-opacity="0.6"/>
<rect x="655.5" y="11.8" width="1" height="23.3" fill="#b4cbea" fill-opacity="0.6"/>
<rect x="661.7" y="10.8" width="1.4" height="35.9" fill="#cddcf0"/>
<rect x="661.5" y="10.6" width="1.8" height="6.5" fill="#1a54a0"/>
<line x1="556.5" y1="6.6" x2="556.5" y2="117.6" stroke="#333" stroke-width="1"/>
<line x1="556" y1="117.1" x2="667.5" y2="117.1" stroke="#333" stroke-width="1"/>
<line x1="554.5" y1="83.6" x2="556.5" y2="83.6" stroke="#333" stroke-width="0.8"/>
<text x="553" y="86.2" font-size="7.3" fill="#4d4d4d" stroke="#4d4d4d" stroke-width="0.18" text-anchor="end">2</text>
<line x1="554.5" y1="47.7" x2="556.5" y2="47.7" stroke="#333" stroke-width="0.8"/>
<text x="553" y="50.3" font-size="7.3" fill="#4d4d4d" stroke="#4d4d4d" stroke-width="0.18" text-anchor="end">4</text>
<line x1="554.5" y1="11.8" x2="556.5" y2="11.8" stroke="#333" stroke-width="0.8"/>
<text x="553" y="14.4" font-size="7.3" fill="#4d4d4d" stroke="#4d4d4d" stroke-width="0.18" text-anchor="end">6</text>
<line x1="576.6" y1="117.1" x2="576.6" y2="119.1" stroke="#333" stroke-width="0.8"/>
<text x="576.6" y="126.4" font-size="7.3" fill="#4d4d4d" stroke="#4d4d4d" stroke-width="0.18" text-anchor="middle">2</text>
<line x1="598.1" y1="117.1" x2="598.1" y2="119.1" stroke="#333" stroke-width="0.8"/>
<text x="598.1" y="126.4" font-size="7.3" fill="#4d4d4d" stroke="#4d4d4d" stroke-width="0.18" text-anchor="middle">3</text>
<line x1="619.5" y1="117.1" x2="619.5" y2="119.1" stroke="#333" stroke-width="0.8"/>
<text x="619.5" y="126.4" font-size="7.3" fill="#4d4d4d" stroke="#4d4d4d" stroke-width="0.18" text-anchor="middle">4</text>
<line x1="641" y1="117.1" x2="641" y2="119.1" stroke="#333" stroke-width="0.8"/>
<text x="641" y="126.4" font-size="7.3" fill="#4d4d4d" stroke="#4d4d4d" stroke-width="0.18" text-anchor="middle">5</text>
<line x1="662.4" y1="117.1" x2="662.4" y2="119.1" stroke="#333" stroke-width="0.8"/>
<text x="662.4" y="126.4" font-size="7.3" fill="#4d4d4d" stroke="#4d4d4d" stroke-width="0.18" text-anchor="middle">6</text>
<text x="611.6" y="134" font-size="7.5" fill="#111" stroke="#111" stroke-width="0.18" text-anchor="middle">−log10(p): 1 million permutation</text>
<text x="547.5" y="62.4" font-size="7.5" fill="#111" stroke="#111" stroke-width="0.18" text-anchor="middle" transform="rotate(-90 547.5 62.4)">−log10(p): ours</text>
<text x="619.5" y="78" font-size="7" fill="#111"><tspan font-style="italic">R</tspan> = 0.988</text>
<text x="615.3" y="94" font-size="7" fill="#111"><tspan font-style="italic">p</tspan> &lt; 2.2e−16</text>
<defs><clipPath id="cb00"><rect x="19.9" y="173.5" width="84.5" height="84.5"/></clipPath><clipPath id="cb01"><rect x="107.6" y="173.5" width="84.5" height="84.5"/></clipPath><clipPath id="cb02"><rect x="195.3" y="173.5" width="84.5" height="84.5"/></clipPath><clipPath id="cb03"><rect x="283" y="173.5" width="84.5" height="84.5"/></clipPath><clipPath id="cb04"><rect x="370.7" y="173.5" width="84.5" height="84.5"/></clipPath><clipPath id="cb10"><rect x="19.9" y="368.7" width="84.5" height="84.5"/></clipPath><clipPath id="cb11"><rect x="107.6" y="368.7" width="84.5" height="84.5"/></clipPath><clipPath id="cb12"><rect x="195.3" y="368.7" width="84.5" height="84.5"/></clipPath><clipPath id="cb13"><rect x="283" y="368.7" width="84.5" height="84.5"/></clipPath><clipPath id="cb14"><rect x="370.7" y="368.7" width="84.5" height="84.5"/></clipPath></defs>
<defs><filter id="umapf" x="-5%" y="-5%" width="110%" height="110%"><feTurbulence type="fractalNoise" baseFrequency="0.3" numOctaves="2" seed="2" result="n1"/><feDisplacementMap in="SourceGraphic" in2="n1" scale="2.5" xChannelSelector="R" yChannelSelector="G" result="d"/><feTurbulence type="fractalNoise" baseFrequency="1.1" numOctaves="1" seed="5" result="n2"/><feColorMatrix in="n2" type="matrix" values="0 0 0 0 0  0 0 0 0 0  0 0 0 0 0  5 0 0 0 -1.2" result="m"/><feComposite in="d" in2="m" operator="in"/></filter><filter id="umapf2" x="-5%" y="-5%" width="110%" height="110%"><feTurbulence type="fractalNoise" baseFrequency="0.3" numOctaves="2" seed="2" result="n1"/><feDisplacementMap in="SourceGraphic" in2="n1" scale="1.6" xChannelSelector="R" yChannelSelector="G" result="d"/><feTurbulence type="fractalNoise" baseFrequency="1.1" numOctaves="1" seed="5" result="n2"/><feColorMatrix in="n2" type="matrix" values="0 0 0 0 0  0 0 0 0 0  0 0 0 0 0  5 0 0 0 -0.6" result="m"/><feComposite in="d" in2="m" operator="in"/></filter></defs>
<g clip-path="url(#cb00)"><g filter="url(#umapf)">
<path d="M66.2 200.2C68.2 198.5 72.2 195.4 75.4 194.3C78.7 193.2 82.6 192.6 85.9 193.4C89.3 194.2 93 196.2 95.4 198.9C97.8 201.6 99.5 205.5 100.1 209.4C100.8 213.4 100.4 218.8 99.4 222.6C98.3 226.3 96.8 229.8 94.1 232C91.4 234.2 86.6 236 83.3 236C80 236 76.5 234 74.1 232C71.7 230 70.4 227.2 68.9 224.1C67.3 221.1 65.8 216.9 64.9 213.6C64.1 210.3 63.4 206.7 63.6 204.4C63.8 202.2 64.3 201.9 66.2 200.2Z" fill="#e4a032"/>
<path d="M36 201.5C38.2 200 44.3 200.5 49.2 200.5C54 200.4 61.8 200 64.9 201.3C68 202.5 68.5 206.9 67.8 208.1C67.2 209.3 64.3 208.3 61 208.4C57.7 208.4 51.4 207.7 47.8 208.4C44.3 209 41.9 212.1 40 212.3C38 212.5 36.7 211.5 36 209.7C35.4 207.9 33.8 203.1 36 201.5Z" fill="#d8d0ea"/>
<path d="M34.4 214.7C35.6 213.3 39.4 211.8 41.3 211.8C43.1 211.8 45.2 213.3 45.5 214.7C45.7 216.1 44.2 218.8 42.9 220.2C41.5 221.5 38.7 222.8 37.3 222.8C35.9 222.8 34.9 221.5 34.4 220.2C34 218.8 33.3 216.1 34.4 214.7Z" fill="#d488c4"/>
<path d="M24.5 195.6C24 194.6 26.8 192.9 28.1 191.7C29.5 190.4 31.2 188.6 32.7 188.1C34.2 187.7 35.8 188.1 37.1 189.1C38.4 190 39.4 191.7 40.6 193.6C41.9 195.6 44.9 199.4 44.6 200.5C44.2 201.5 40.9 200.4 38.6 200C36.4 199.5 33.1 198.6 30.8 197.9C28.4 197.1 24.9 196.6 24.5 195.6Z" fill="#ea4474" fill-opacity="0.18" stroke="#ea4474" stroke-width="2.4" stroke-opacity="0.85"/>
<path d="M47.8 186.8C48.7 184.5 52.1 180 53.8 178.7C55.5 177.3 57.4 176.6 58.1 178.7C58.8 180.7 58.4 188.4 57.8 191C57.3 193.7 56.2 194.5 54.7 194.7C53.2 194.9 50 193.6 48.9 192.3C47.8 191 47 189.1 47.8 186.8Z" fill="#f26c64" fill-opacity="0.2" stroke="#f26c64" stroke-width="2.2" stroke-opacity="0.85"/>
<ellipse cx="43.8" cy="242.3" rx="2.2" ry="5.9" fill="#62bae8"/>
<path d="M72.4 253 L75.4 246.5" fill="none" stroke="#c8d484" stroke-width="1" stroke-linecap="round" stroke-linejoin="round"/>
</g></g>
<g clip-path="url(#cb01)"><g filter="url(#umapf)">
<path d="M149 193C149.5 191.8 149.6 190.7 151 189.1C152.4 187.4 155.4 184.2 157.6 183.1C159.7 182 161.5 183.1 164.1 182.5C166.8 181.8 170.7 180.1 173.3 179.2C175.9 178.3 177.9 177.3 179.9 177.2C181.9 177.1 183.8 177.3 185.1 178.5C186.5 179.7 187.7 182.6 187.8 184.5C187.9 186.3 186.9 188.3 185.8 189.7C184.7 191.1 182.8 191.9 181.2 193C179.6 194.1 177.7 194.9 175.9 196.3C174.2 197.7 172.7 199.8 170.7 201.5C168.7 203.3 166.3 205.6 164.1 206.8C161.9 208 159.5 208.1 157.6 208.8C155.6 209.4 153.8 209.7 152.3 210.7C150.8 211.7 149.5 213.4 148.4 214.7C147.3 215.9 146.4 218.1 145.7 218.4C145 218.6 143.9 217 144.2 216C144.4 214.9 146.1 213.6 147 212C148 210.5 149.5 208.5 149.7 206.8C149.9 205 148.6 203.3 148.4 201.5C148.1 199.8 148 197.7 148.1 196.3C148.2 194.9 148.5 194.2 149 193Z" fill="#ea4474"/>
<path d="M112.2 210.7C113 209.4 114.7 208.8 116.8 208.1C118.9 207.4 122.3 206.8 124.7 206.8C127.1 206.8 129.1 207.6 131.3 208.1C133.5 208.6 135.8 209.4 137.8 210.1C139.9 210.7 142 210.8 143.4 212C144.7 213.2 145.8 215.1 146 217.3C146.2 219.5 145.2 223 144.7 225.2C144.2 227.4 144.2 228.9 143.1 230.4C142 232 139.8 233.6 137.8 234.4C135.9 235.2 133.5 235.5 131.3 235.3C129.1 235.1 126.7 234.5 124.7 233.3C122.7 232.1 121 230 119.5 228.1C117.9 226.1 116.7 223.5 115.5 221.5C114.3 219.5 112.8 217.8 112.2 216C111.7 214.2 111.5 212 112.2 210.7Z" fill="#64bde8"/>
<path d="M141.8 222.6C142.3 221 144.1 220.6 145.1 221.5C146.1 222.4 146.7 225.9 147.7 227.8C148.7 229.7 149.3 232 151 233.1C152.6 234.2 155.4 234.5 157.6 234.4C159.7 234.3 161.7 232.4 164.1 232.4C166.5 232.4 169.6 233.4 172 234.4C174.4 235.4 176.8 236.6 178.6 238.3C180.3 240.1 182.1 242.9 182.5 244.9C183 246.9 182.5 248.9 181.2 250.1C179.9 251.4 177.3 251.5 174.6 252.1C172 252.7 168.3 254 165.4 253.7C162.6 253.4 160 252.1 157.6 250.4C155.1 248.8 153 246 151 243.8C149 241.6 147.3 239.5 145.7 237.3C144.2 235.1 142.4 233.2 141.8 230.7C141.1 228.2 141.2 224.1 141.8 222.6Z" fill="#f26c64"/>
<ellipse cx="146" cy="218" rx="1.3" ry="2.4" fill="#d84070"/>
</g></g>
<g clip-path="url(#cb02)"><g filter="url(#umapf2)">
<path d="M228.1 189.7 L234.7 185.8 L242.6 183.1 L244.1 180.5 L245.2 177.9" fill="none" stroke="#c8107a" stroke-width="1.3" stroke-linecap="round" stroke-linejoin="round"/>
<path d="M221.9 191C222.5 190.1 224.2 189 225.5 188.8C226.8 188.6 228.8 189 229.7 189.7C230.6 190.4 231.2 192 231 193C230.8 194 229.5 195.3 228.4 195.9C227.2 196.5 225.2 196.8 224.2 196.5C223.1 196.3 222.3 195.2 221.9 194.3C221.6 193.4 221.3 191.9 221.9 191Z" fill="#c8107a"/>
<path d="M223.5 200.6C224.6 200.6 225.8 204.2 226.4 205.5C227 206.7 227.5 207.2 227.1 208.1C226.6 209 224.9 210.9 223.8 211C222.7 211 221.2 209.3 220.5 208.4C219.8 207.4 219.1 206.8 219.6 205.5C220.1 204.2 222.4 200.6 223.5 200.6Z" fill="#c8107a"/>
<ellipse cx="244.5" cy="177.9" rx="1.3" ry="0.8" fill="#b080c0"/>
<ellipse cx="201.2" cy="208.2" rx="2.6" ry="1.4" fill="#40a2c0" transform="rotate(20 201.2 208.2)"/>
<path d="M203.1 208.9 L212.3 211 L221.5 213.4" fill="none" stroke="#ea4474" stroke-width="0.8" stroke-linecap="round" stroke-linejoin="round"/>
<path d="M216.9 214.7C217.9 213.5 220.1 212.2 221.5 212.7C223 213.2 225.7 216.3 225.7 218C225.8 219.6 223 221.6 221.8 222.6C220.5 223.5 219.2 223.9 218.2 223.5C217.3 223 216.2 221.4 216 219.9C215.8 218.5 216 215.9 216.9 214.7Z" fill="#ea4474"/>
<path d="M229.4 213.4C230.6 212.2 234.8 211.3 237.3 210.7C239.8 210.1 243 208.6 244.1 209.8C245.3 211 245.7 216.4 244.1 218C242.6 219.5 237 218.9 234.7 218.9C232.3 218.8 230.9 218.5 230.1 217.6C229.2 216.6 228.2 214.5 229.4 213.4Z" fill="#e89a58"/>
<path d="M269.5 204.8C270.3 204.1 274 204.4 275 205.2C276 206 275.8 208.2 275.4 209.4C275 210.6 273.7 212.3 272.8 212.3C271.9 212.3 270.4 210.7 269.9 209.4C269.3 208.2 268.6 205.5 269.5 204.8Z" fill="#d4e494"/>
<path d="M255.4 233.1C256.5 232.8 260.4 233.5 262.3 233.7C264.1 233.9 265.5 233.3 266.5 234.4C267.4 235.5 268 239.2 267.8 240.3C267.6 241.4 266.3 241.6 265.2 241.2C264 240.8 262.5 238.9 260.9 237.9C259.4 236.9 257 236.1 256.1 235.3C255.2 234.5 254.4 233.3 255.4 233.1Z" fill="#f26c64"/>
<ellipse cx="266.5" cy="227.8" rx="2.2" ry="0.9" fill="#f26c64"/>
<ellipse cx="218.5" cy="236.6" rx="2.1" ry="0.7" fill="#8a8050" transform="rotate(-15 218.5 236.6)"/>
<ellipse cx="220.5" cy="242.3" rx="0.5" ry="0.7" fill="#4060c0"/>
<path d="M222.2 248.8C222.5 247.9 224 247.1 225.5 247C226.9 246.9 229.9 247.3 231 248C232.1 248.8 232.5 250.5 232 251.5C231.6 252.4 229.5 253.5 228.1 253.7C226.7 253.8 224.5 253.2 223.5 252.4C222.5 251.6 221.9 249.7 222.2 248.8Z" fill="#d4ceea"/>
</g></g>
<g clip-path="url(#cb03)"><g filter="url(#umapf)">
<path d="M304.3 177.2C305.3 178.1 306.9 180.8 308.5 183.1C310.1 185.4 313 188.5 313.7 191C314.5 193.5 314.1 195.4 313.1 198.2C312.1 201.1 309.7 205.3 307.8 208.1C306 210.9 304 212.9 301.9 214.9C299.8 216.9 297.2 218.7 295.1 220.2C293 221.7 290.5 225.3 289.2 224.1C287.9 223 287.1 218 287.2 213.4C287.3 208.7 288.5 200 289.8 196.3C291.1 192.6 293.5 193 295.1 191C296.6 189.1 297.8 186.7 299 184.5C300.2 182.2 301.4 178.8 302.3 177.6C303.2 176.4 303.2 176.3 304.3 177.2Z" fill="#f46a62"/>
<path d="M302.3 211.8C303.4 210.2 306.8 209.1 307.8 210.5C308.9 211.8 308.5 215.7 308.5 219.9C308.5 224.1 308.1 231.7 307.8 235.7C307.6 239.7 307.5 242.3 306.9 243.8C306.3 245.4 305.1 245.6 304.3 245.2C303.5 244.7 302.4 243.8 302 240.9C301.7 238.1 302.2 231.3 302 227.8C301.9 224.3 301.2 222.6 301.3 219.9C301.3 217.3 301.2 213.4 302.3 211.8Z" fill="#c8aa4c"/>
<path d="M344.1 203.5C344.7 202.6 345.1 204.1 345.7 205.5C346.3 206.9 346.9 210.2 347.6 212C348.4 213.9 351.3 215.7 350 216.6C348.7 217.6 341.3 218.9 340 218C338.7 217 341.4 213.1 342.1 210.7C342.8 208.3 343.5 204.4 344.1 203.5Z" fill="#ea4474"/>
<path d="M339.8 217C342.2 215.7 347.5 214.6 349.2 216C350.9 217.3 349.9 221.9 349.9 225.2C349.9 228.5 349.1 231.8 349.2 235.7C349.3 239.6 350.8 245.8 350.5 248.8C350.3 251.8 349.2 253.4 347.6 253.7C346.1 254 343.3 252.1 341.1 250.4C338.8 248.8 335.6 246.7 334.2 243.8C332.9 240.9 332.9 236.4 332.9 233.1C332.9 229.7 333.1 226.5 334.2 223.9C335.4 221.2 337.3 218.4 339.8 217Z" fill="#6ac2ea"/>
<path d="M348.9 215.3C349.5 214.5 351.8 217.2 353.2 219.9C354.5 222.7 355.3 229.5 357.1 231.8C358.8 234.1 363.2 232.1 363.7 233.7C364.1 235.3 361 238.6 359.7 241.2C358.4 243.8 357.2 247.2 355.8 249.1C354.3 251 351.9 254.2 350.9 252.4C349.9 250.6 350 242.9 349.9 238.3C349.7 233.8 350 229 349.9 225.2C349.7 221.4 348.4 216.2 348.9 215.3Z" fill="#aa8ecc"/>
</g></g>
<g clip-path="url(#cb04)"><g filter="url(#umapf)">
<path d="M406.1 178.3C406.8 177.4 409.9 178.8 412 179.2C414.1 179.6 416.5 180.8 418.6 180.5C420.6 180.2 422.8 177.6 424.1 177.6C425.3 177.6 426.3 179.3 426 180.5C425.8 181.7 424.2 183.6 422.8 184.7C421.3 185.9 419 186.8 417.2 187.3C415.4 187.9 413.6 188.4 412 188C410.4 187.6 408.8 186.3 407.8 184.7C406.8 183.1 405.4 179.2 406.1 178.3Z" fill="#f8c992"/>
<path d="M423.8 183.1C424.4 182.7 428 185.7 429.3 186.8C430.7 187.9 431.7 188.3 432 189.7C432.2 191.1 431.5 194.4 430.6 195.2C429.8 196 427.9 195.5 427.1 194.6C426.3 193.6 426.3 191.6 425.8 189.7C425.2 187.8 423.2 183.6 423.8 183.1Z" fill="#e83262"/>
<path d="M403.2 200.9C404.1 199.8 407.2 199.8 409.4 200C411.5 200.1 413.9 201.3 415.9 201.9C417.9 202.6 420.5 203.2 421.4 203.9C422.4 204.6 422.6 205.9 421.4 206.4C420.3 206.9 416.8 206.6 414.6 207.1C412.4 207.5 409.8 209.1 408 209C406.2 208.9 404.6 207.8 403.8 206.4C403 205 402.3 201.9 403.2 200.9Z" fill="#dada94"/>
<path d="M422.5 201.3C423.4 200.1 426.4 202.1 429.1 202.6C431.7 203 435.6 203.6 438.3 203.9C440.9 204.2 442.8 204 444.8 204.6C446.8 205.1 449.4 206.2 450.4 207.4C451.3 208.7 451.5 211.4 450.4 212.3C449.2 213.2 446 213.2 443.5 213C441.1 212.7 438.3 211.1 435.6 211C433 210.9 429.8 212.6 427.8 212.3C425.7 212 424.4 211.3 423.5 209.4C422.7 207.6 421.6 202.4 422.5 201.3Z" fill="#c6e0a2"/>
<path d="M431.7 204.4C433 203.9 437.4 204.1 439.6 204.4C441.8 204.7 444.2 205.3 444.8 206.1C445.5 207 444.8 209 443.5 209.4C442.2 209.9 438.9 209.1 436.9 208.8C435 208.4 432.6 208.2 431.7 207.4C430.8 206.7 430.4 204.9 431.7 204.4Z" fill="#4cb484" fill-opacity="0.8"/>
<path d="M443.5 205.7C444.5 204.9 449.1 206.4 450.4 207.4C451.6 208.5 451.8 211.5 450.7 212.3C449.7 213.1 445.4 213.4 444.2 212.3C443 211.2 442.5 206.5 443.5 205.7Z" fill="#a4d2e4"/>
<path d="M387.4 212.3C388.3 211.4 391.1 209.4 392.3 209.4C393.5 209.4 394.5 211.2 394.5 212.3C394.6 213.4 393.6 215.5 392.5 216.2C391.5 217 389.3 217.2 388.3 216.9C387.4 216.6 386.9 215.4 386.8 214.7C386.6 213.9 386.5 213.2 387.4 212.3Z" fill="#e8a260"/>
<path d="M375.5 216.2 L380.5 216 L387 215.3" fill="none" stroke="#8a60c0" stroke-width="2" stroke-linecap="round" stroke-linejoin="round"/>
<path d="M386.8 230.7C387.4 229.8 390.4 227.9 392.3 226.8C394.1 225.6 396.9 223.4 397.8 223.6C398.7 223.8 398.5 226.8 397.8 228.1C397.1 229.4 395.4 230.7 393.9 231.4C392.3 232 389.5 232.1 388.3 232C387.2 231.9 386.1 231.6 386.8 230.7Z" fill="#e07250"/>
<ellipse cx="379.8" cy="230.8" rx="2.6" ry="1.1" fill="#a060c0"/>
<path d="M392.9 194.3 L397.5 192.6" fill="none" stroke="#d060a0" stroke-width="1.2" stroke-linecap="round" stroke-linejoin="round"/>
<path d="M420.9 226.8C422.5 225.6 426 223.4 429.1 222.6C432.2 221.7 436.2 222 439.6 221.6C442.9 221.3 447.2 219.7 449 220.3C450.8 220.9 450.4 223 450.4 225.2C450.4 227.4 450.2 231.8 449 233.3C447.9 234.9 445.5 234.6 443.5 234.6C441.5 234.6 439.6 233.8 436.9 233.3C434.3 232.9 430.2 232.2 427.8 232C425.3 231.8 423.9 232.5 422.5 232C421.1 231.6 419.9 230.3 419.6 229.4C419.3 228.5 419.3 227.9 420.9 226.8Z" fill="#20a2e2"/>
<path d="M413 231.8C414.2 230.7 416.8 229.1 418.6 229.1C420.4 229.1 422.5 230.2 423.8 231.8C425.2 233.3 425.6 236.6 426.7 238.3C427.8 240.1 429.8 240.7 430.6 242.3C431.5 243.8 432.2 245.8 432 247.5C431.7 249.2 430.9 251.4 429.3 252.4C427.8 253.4 424.7 253.9 422.5 253.7C420.3 253.5 417.8 252.8 416.3 251.1C414.9 249.4 414.5 246.1 413.7 243.6C412.9 241 411.8 237.7 411.7 235.7C411.6 233.7 411.9 232.8 413 231.8Z" fill="#d8b85a"/>
<path d="M417.9 233.1C418.7 232 421.4 231.1 422.5 231.8C423.6 232.4 424.7 235.5 424.5 237C424.2 238.5 422.3 240.7 421.2 240.9C420.1 241.2 418.4 239.6 417.9 238.3C417.4 237 417.1 234.2 417.9 233.1Z" fill="#3a58b0" fill-opacity="0.55"/>
<ellipse cx="422.2" cy="239.6" rx="2.1" ry="2.9" fill="#ffffff"/>
<path d="M420.6 240.4h0M424 243.1h0M420.7 240.2h0M418.6 238.6h0M424.9 236.6h0M424.3 240.8h0M420.5 241.8h0M420.5 242.7h0M419.1 236.6h0M423.5 239.2h0" stroke="#3a58b0" stroke-width="1.0" stroke-linecap="round" stroke-opacity="0.8"/>
<ellipse cx="417.2" cy="227.2" rx="1.6" ry="1.1" fill="#8a50b0"/>
</g></g>
<g clip-path="url(#cb10)"><g filter="url(#umapf2)">
<path d="M82 380.8C83 379.5 85.3 377.3 87.3 377.2C89.2 377.2 92 378.2 93.8 380.5C95.6 382.8 97.1 387.7 98 391.3C99 394.8 99.4 398.7 99.4 401.8C99.4 404.9 99.2 408.5 98 409.9C96.9 411.4 94.1 410.9 92.5 410.6C90.9 410.3 90.1 408.9 88.6 408.4C87 407.8 85.1 407 83.3 407C81.6 407.1 79.4 409.1 78.1 408.6C76.7 408.2 74.7 405.6 75.2 404.4C75.6 403.3 78.9 402.7 80.7 401.8C82.5 400.9 84.6 400.3 85.9 399.2C87.3 398.1 88.8 397 88.6 395.2C88.4 393.5 85.8 390.4 84.6 388.6C83.4 386.9 81.8 386 81.4 384.7C80.9 383.4 81 382 82 380.8Z" fill="#f46a62"/>
<path d="M62 392.6C63.3 391.2 67.5 388.2 68.9 388.4C70.3 388.6 69.5 391.9 70.4 393.9C71.4 395.9 73.3 398.7 74.4 400.5C75.5 402.3 77.3 404 77 404.7C76.8 405.4 74.8 405.8 72.8 404.7C70.8 403.6 66.8 399.5 64.9 398.1C63 396.8 61.9 397.5 61.4 396.5C60.9 395.6 60.8 393.9 62 392.6Z" fill="#f46a62"/>
<path d="M66.6 408.4C67.5 407 70.9 405.9 72.8 405.7C74.7 405.5 76.5 406.6 78.1 407C79.6 407.5 81.4 406.8 82.3 408.4C83.2 409.9 84.1 414.5 83.6 416.5C83.1 418.5 81 419.4 79.4 420.4C77.8 421.5 75.7 423.3 74.1 423.1C72.6 422.9 71.3 420.7 70.2 419.1C69.1 417.6 68.1 415.7 67.6 413.9C67 412.1 65.8 409.7 66.6 408.4Z" fill="#f46a62"/>
<path d="M80 399.8C80.3 398.4 82.5 397.7 83.3 398.5C84.1 399.3 85.1 403 84.9 404.4C84.7 405.8 82.8 407.5 82 406.8C81.2 406 79.8 401.2 80 399.8Z" fill="#f46a62"/>
<ellipse cx="53.8" cy="395.6" rx="3.3" ry="1.6" fill="#f46a62" transform="rotate(-15 53.8 395.6)"/>
<ellipse cx="55.3" cy="405.1" rx="2.4" ry="1.6" fill="#f46a62"/>
<path d="M43.6 373.5C44.5 372.9 47.2 372.2 49.2 372.4C51.1 372.5 54.4 373.2 55.3 374.2C56.3 375.2 55.7 377.8 54.7 378.4C53.6 379 50.9 378.1 49.2 377.7C47.4 377.4 45.2 377.1 44.3 376.4C43.4 375.7 42.8 374.2 43.6 373.5Z" fill="#6858b2"/>
<ellipse cx="43.2" cy="387.3" rx="2.6" ry="1.3" fill="#2462c2" transform="rotate(20 43.2 387.3)"/>
<ellipse cx="38.9" cy="395.9" rx="2.9" ry="1.3" fill="#8a70c8" transform="rotate(-10 38.9 395.9)"/>
<path d="M25.5 391.3 L28.8 387.3 L32.7 382.3" fill="none" stroke="#f2c282" stroke-width="1" stroke-linecap="round" stroke-linejoin="round"/>
<path d="M23.3 390.6C23.8 389.8 26 388.8 26.8 389C27.7 389.3 28.4 391 28.4 391.9C28.4 392.9 27.4 394.5 26.6 394.8C25.8 395.2 24.2 394.6 23.7 393.9C23.1 393.2 22.8 391.4 23.3 390.6Z" fill="#f2c282"/>
<path d="M32.5 410.3C33.2 409.3 35.1 407.9 37.3 407.4C39.6 407 44.6 406.6 46.1 407.4C47.7 408.2 47.5 410.4 46.8 412.3C46.1 414.2 43.8 418.2 42.2 419.1C40.6 420.1 38.8 418.7 37.3 417.8C35.8 416.9 33.9 415.1 33.1 413.9C32.3 412.6 31.8 411.4 32.5 410.3Z" fill="#ea4474"/>
<path d="M38.6 417.6 L36.7 421.8" fill="none" stroke="#ea4474" stroke-width="1.3" stroke-linecap="round" stroke-linejoin="round"/>
<path d="M30.8 421.5C31.5 420.9 34.9 420.9 36 421.8C37.2 422.6 37.8 425.6 37.6 426.8C37.4 427.9 35.7 428.9 34.7 428.7C33.7 428.5 32.1 426.6 31.4 425.4C30.8 424.2 30 422.1 30.8 421.5Z" fill="#d490c8"/>
<ellipse cx="28.8" cy="422.8" rx="2.1" ry="1.2" fill="#807040"/>
<ellipse cx="29.1" cy="434.4" rx="2.4" ry="2.2" fill="#10a2e2"/>
<path d="M30.1 433.3 L36 429.4" fill="none" stroke="#10a2e2" stroke-width="1.6" stroke-linecap="round" stroke-linejoin="round"/>
<ellipse cx="48.1" cy="446.7" rx="1.8" ry="2" fill="#10a2e2"/>
<ellipse cx="59.7" cy="414.9" rx="2.6" ry="1.7" fill="#aadaee"/>
<path d="M50.2 424.1C51.2 423 54.8 422.6 57 422.8C59.3 423 62.1 424.1 63.9 425.4C65.7 426.8 66.5 429.4 67.8 430.7C69.1 432 70.9 432 71.8 433.3C72.6 434.6 73.3 436.8 73.1 438.6C72.9 440.4 71.8 442.8 70.4 444.1C69.1 445.3 66.7 446.3 64.9 446.1C63.1 445.8 61.4 444.4 59.7 442.8C57.9 441.1 55.9 438.4 54.4 436.2C52.9 434 51.6 431.7 50.9 429.6C50.2 427.6 49.2 425.3 50.2 424.1Z" fill="#c8349c"/>
<path d="M59.7 438.6C60.7 437.4 64.1 436.6 66.2 436.6C68.4 436.6 72.1 437.3 72.8 438.6C73.5 439.8 71.8 442.8 70.4 444.1C69.1 445.3 66.6 446.1 64.9 446.1C63.2 446 61.2 445.1 60.3 443.8C59.5 442.6 58.7 439.8 59.7 438.6Z" fill="#9462b4"/>
<path d="M55.1 428.7C55.4 427.7 57.8 427.3 59 427.4C60.2 427.6 62 428.8 62.3 429.6C62.6 430.5 60.3 431.6 60.7 432.3C61.2 432.9 63.9 432.7 64.9 433.6C66 434.5 67.1 436.6 66.9 437.5C66.7 438.5 65 439.4 63.9 439.2C62.8 439.1 61 437.7 60.3 436.6C59.7 435.5 60.5 433.2 59.9 432.7C59.3 432.2 57.6 434.2 56.8 433.6C56 432.9 54.7 429.8 55.1 428.7Z" fill="#ffffff"/>
<ellipse cx="79" cy="430" rx="2.2" ry="1.4" fill="#6050b2"/>
<ellipse cx="89.2" cy="433.3" rx="2" ry="2.6" fill="#d89252"/>
<ellipse cx="43.6" cy="429.4" rx="0.8" ry="0.5" fill="#40a040"/>
</g></g>
<g clip-path="url(#cb11)"><g filter="url(#umapf2)">
<path d="M134.5 404.4C136.5 402.2 142.2 402.2 146.4 401.8C150.5 401.4 155.8 401.4 159.5 401.8C163.2 402.2 167.2 401.4 168.7 404.4C170.2 407.5 169.4 416.2 168.7 420.2C168 424.1 166.9 426.8 164.8 428.1C162.6 429.4 158.6 428.3 155.6 428.1C152.5 427.8 149.2 427.6 146.4 426.8C143.5 425.9 140.4 424.8 138.5 422.8C136.5 420.8 135.2 418 134.5 414.9C133.9 411.9 132.6 406.6 134.5 404.4Z" fill="#cc84c4"/>
<path d="M170 408.4C171.8 407.1 174.1 405.3 176.6 404.8C179 404.3 182.9 404.2 184.7 405.5C186.5 406.7 187.1 409.2 187.4 412.3C187.6 415.4 186.9 421 186 424.1C185.2 427.2 183.9 429.6 182.1 431C180.3 432.3 177.3 432.7 175.3 432.3C173.2 431.8 171.8 430.3 170 428.3C168.3 426.3 165.4 422.9 164.8 420.2C164.1 417.5 165.2 414.3 166.1 412.3C166.9 410.3 168.3 409.6 170 408.4Z" fill="#d992c8"/>
<path d="M121.1 440.2C122.4 438.4 126.8 435.1 129.3 433.3C131.7 431.5 133.7 429.8 135.8 429.4C138 428.9 142.2 429.3 142.4 430.7C142.7 432.1 140.1 435.3 137.4 437.5C134.8 439.8 129.3 443 126.6 444.1C124 445.2 122.7 444.8 121.8 444.1C120.9 443.4 119.9 441.9 121.1 440.2Z" fill="#d992c8"/>
<path d="M111.7 408.4C112.8 406.6 116 405.3 118.8 405.2C121.5 405.1 125.6 406.6 128.2 407.8C130.9 409 132.8 410.7 134.5 412.3C136.2 413.9 137.2 415.6 138.5 417.6C139.8 419.5 142.6 422.5 142.4 424.1C142.2 425.8 139.8 427 137.2 427.4C134.5 427.8 129.9 427.5 126.6 426.8C123.4 426 119.9 424.7 117.5 422.8C115 420.9 112.9 418 111.9 415.6C111 413.2 110.5 410.1 111.7 408.4Z" fill="#d862aa"/>
<path d="M142.2 433.3C142.9 430.6 145 429.2 146.4 428.1C147.7 427 147.9 427 150.3 426.8C152.7 426.5 157.9 425.8 160.8 426.5C163.7 427.1 165.8 428.7 167.6 430.7C169.4 432.7 171.4 436.1 171.6 438.6C171.8 441 171.2 443.7 169 445.4C166.7 447.1 161.7 448.3 158.2 448.7C154.6 449.1 150.3 448.8 147.7 448C145 447.3 143.1 446.5 142.2 444.1C141.2 441.6 141.5 436 142.2 433.3Z" fill="#d862aa"/>
<path d="M144.8 414.9C146.5 414 150.4 412.9 152.9 413.4C155.4 413.8 158.4 415.5 159.8 417.6C161.1 419.6 162.6 423.9 161.1 425.7C159.5 427.5 153 428.5 150.3 428.3C147.6 428.1 146.1 426 144.8 424.4C143.5 422.8 142.4 420.4 142.4 418.9C142.4 417.3 143 415.8 144.8 414.9Z" fill="#d46ab0"/>
<path d="M135.6 404.4C136.9 403.1 140.6 402.7 142.4 403.1C144.3 403.5 146 404.6 146.6 407C147.3 409.5 147.3 415.4 146.4 417.6C145.4 419.7 142.7 420.2 141.1 420.2C139.5 420.2 137.6 419.1 136.5 417.6C135.4 416 134.7 413.2 134.5 411C134.4 408.8 134.3 405.7 135.6 404.4Z" fill="#c49ad4"/>
<path d="M159.5 404.4C160.6 402.1 165.4 402.4 167.4 403.8C169.4 405.1 171.5 409.6 171.3 412.3C171.1 415 167.8 419.3 166.1 420.2C164.3 421.1 161.9 420.2 160.8 417.6C159.7 414.9 158.4 406.7 159.5 404.4Z" fill="#e0a0d0"/>
<path d="M142.4 387.3C142.9 385.8 144.8 384.6 146.4 384.4C147.9 384.3 150.1 385.8 151.6 386.7C153.1 387.6 154 390.1 155.6 390C157.1 389.9 158.6 386.8 160.8 386C163 385.3 167.8 384.4 168.7 385.4C169.6 386.4 167.4 390.1 166.1 391.9C164.8 393.8 162.1 394.7 160.8 396.5C159.5 398.4 159.5 402.2 158.2 403.1C156.9 404 154.7 402.7 152.9 401.8C151.2 400.9 149.2 399.2 147.7 397.8C146.1 396.5 144.6 395.7 143.7 393.9C142.9 392.2 142 388.9 142.4 387.3Z" fill="#f26452"/>
<ellipse cx="151.9" cy="375.5" rx="2.4" ry="2.9" fill="#f26452"/>
<path d="M149 380.5C150 378.8 154.6 378.3 156.9 378.1C159.2 378 162.3 378.4 162.8 379.5C163.2 380.5 159.2 381.9 159.5 384.7C159.8 387.6 164.3 393.4 164.8 396.5C165.2 399.7 163.7 402.4 162.1 403.8C160.6 405.1 157.1 405.9 155.6 404.7C154 403.5 153.8 399.2 152.9 396.5C152.1 393.9 151.2 391.3 150.6 388.6C149.9 386 147.9 382.3 149 380.5Z" fill="#e8e084" fill-opacity="0.9"/>
<path d="M170.7 393.2C171.9 391.5 175.3 387.7 176.6 386C177.9 384.4 177.6 383.2 178.5 383.4C179.5 383.6 181.7 385.5 182.5 387.3C183.3 389.2 183.7 392.5 183.4 394.6C183.1 396.6 182.3 398.6 180.5 399.4C178.7 400.2 174.5 399.9 172.6 399.4C170.8 398.9 169.7 397.6 169.4 396.5C169 395.5 169.5 395 170.7 393.2Z" fill="#d05840"/>
<path d="M129.9 386.4C130.5 385.4 132.8 384.7 133.9 385.1C134.9 385.5 135.7 386.7 136.1 388.6C136.5 390.6 136.8 395.4 136.1 396.8C135.4 398.2 132.9 397.7 131.9 396.8C130.9 395.9 130.7 393 130.3 391.3C130 389.5 129.3 387.4 129.9 386.4Z" fill="#5058b2"/>
<ellipse cx="140.2" cy="396.1" rx="1.6" ry="3.2" fill="#a4cae2"/>
<path d="M125.7 399.2C126.4 398.6 127.8 397.8 129.3 398.2C130.8 398.7 134 400.7 134.8 401.8C135.6 402.9 135.3 404.4 134.1 404.7C133 404.9 129.5 403.8 128 403.4C126.5 402.9 125.4 402.5 125.1 401.8C124.7 401.1 125 399.8 125.7 399.2Z" fill="#109482"/>
<ellipse cx="135.2" cy="400.7" rx="2.9" ry="1.6" fill="#c8e4b4" transform="rotate(30 135.2 400.7)"/>
<path d="M125.7 405.5C127.1 405.2 131.5 405.2 133.2 406.1C134.9 407 135.8 409.5 136.1 411C136.4 412.5 135.9 415.3 134.8 415.2C133.7 415.1 130.9 411.8 129.3 410.6C127.7 409.3 125.7 408.6 125.1 407.7C124.5 406.8 124.4 405.7 125.7 405.5Z" fill="#44bae2"/>
<ellipse cx="146" cy="400.5" rx="1.6" ry="2.1" fill="#d8a020"/>
<path d="M133.6 444.8C133.7 443.7 136.3 440.6 137.8 439.6C139.3 438.7 141.9 438 142.7 439C143.5 439.9 143.6 444.2 142.7 445.4C141.8 446.6 138.7 446.2 137.2 446.1C135.6 446 133.5 445.8 133.6 444.8Z" fill="#c89262"/>
<ellipse cx="153.6" cy="407.3" rx="2.1" ry="1.6" fill="#c8c0e4"/>
<ellipse cx="177.2" cy="406.4" rx="4.6" ry="2" fill="#8a78c4"/>
<path d="M139.5 421.7h0M143.3 422.1h0M154.4 426.2h0M160.4 421h0M155.1 416.2h0M157.7 422.6h0M158 425.3h0M157.5 415.7h0M153.7 417.5h0M142.5 419.2h0M150.6 423.2h0M159.1 415.1h0M140.7 419.7h0M156.3 422.2h0M148.6 424.9h0M152.2 418.7h0M157.8 422.8h0M145.4 422.6h0M150.5 427.4h0M144.3 420.3h0M151.2 426.6h0M153.5 421.1h0M156.2 421.3h0M159.9 418.6h0M143.3 426.1h0M151.1 421.6h0M157.7 418.9h0M147.8 416.6h0M148.3 418.2h0M146 423.3h0M158.7 425.5h0M139.9 421.2h0M158.7 420.2h0M142.4 422.2h0M143.8 427.1h0" stroke="#ffffff" stroke-width="1.4" stroke-linecap="round" stroke-opacity="0.9"/>
<path d="M148 390.3h0M151.4 387.3h0M161.4 388.2h0M160.2 400.6h0M153.4 388.8h0M160.7 389.3h0M157.4 394.9h0M153.5 392.1h0M150 387.5h0M159.6 397.9h0M147.2 388.7h0M156.2 388.1h0" stroke="#ffffff" stroke-width="1.2" stroke-linecap="round" stroke-opacity="0.8"/>
</g></g>
<g clip-path="url(#cb12)"><g filter="url(#umapf2)">
<path d="M214 403.1C215.2 401.8 220.3 400 221.5 397.8C222.8 395.7 220.2 391.9 221.5 390C222.8 388 227 387.6 229.4 386C231.8 384.5 233.6 382.1 236 380.8C238.4 379.4 241.6 377.7 243.9 377.9C246.1 378.1 247.8 380.7 249.4 382.1C251 383.4 252.9 383.8 253.3 386C253.8 388.2 251.6 392.6 252 395.2C252.5 397.8 255.1 399.6 256 401.8C256.8 404 257.9 406.6 257.3 408.4C256.6 410.2 254 411.2 252 412.6C250 413.9 247.6 415.2 245.2 416.5C242.7 417.8 239.9 420.2 237.3 420.4C234.7 420.7 232.3 418.7 229.4 417.8C226.6 416.9 222.4 416.5 220.2 415.2C218 413.9 217.2 411.5 216.3 409.9C215.4 408.4 215.1 406.9 214.7 405.7C214.3 404.6 212.9 404.4 214 403.1Z" fill="#8e8a5a"/>
<path d="M199.6 417.6C200.2 416.4 202.5 414.3 204.5 413.4C206.4 412.4 208.6 411.6 211 412C213.5 412.5 216.9 414.9 219.2 416.2C221.4 417.6 223.3 418.2 224.4 420.2C225.5 422.2 226 426.3 225.7 428.3C225.5 430.3 224.7 431.2 223.1 432.3C221.5 433.4 218.1 434 216.3 434.9C214.5 435.8 213.9 438 212.3 437.5C210.8 437.1 208.4 434.2 206.8 432.3C205.2 430.3 203.9 427.7 202.9 425.7C201.9 423.7 201.5 421.8 200.9 420.4C200.4 419.1 199 418.7 199.6 417.6Z" fill="#4a8ca2"/>
<path d="M200.9 413.9C201.2 412.7 203.2 410.6 204.5 410.3C205.7 410.1 207.7 411.3 208.1 412.3C208.6 413.3 208 415.6 207.1 416.5C206.1 417.4 203.5 418 202.5 417.6C201.5 417.1 200.6 415.1 200.9 413.9Z" fill="#6a52b2"/>
<path d="M256.7 393.9C257.8 392.1 259.8 388.9 261.6 388.4C263.4 387.9 266.3 389.7 267.8 391C269.2 392.4 270.4 394.9 270.4 396.5C270.4 398.2 268.9 399.4 267.8 400.7C266.6 402.1 265.2 404 263.6 404.7C262 405.3 259.4 405.6 258.1 404.7C256.7 403.8 255.6 401 255.4 399.2C255.2 397.4 255.7 395.7 256.7 393.9Z" fill="#daa2d2"/>
<path d="M249.1 414.7C250.9 411.3 254.6 413.1 257 413.4C259.5 413.6 262.3 414.2 263.8 416C265.4 417.8 266 420.8 266.5 424.1C266.9 427.5 266.5 432.6 266.5 435.9C266.5 439.3 267.8 442.1 266.5 444.1C265.1 446.1 261 447.4 258.3 448C255.6 448.7 252.2 449.2 250.4 448C248.6 446.9 248.2 443.7 247.5 441.2C246.8 438.8 246 437.7 246.2 433.3C246.5 428.9 247.3 418 249.1 414.7Z" fill="#72c2e6"/>
<path d="M234.4 422.8C235.8 421.2 240.3 419.5 242.6 418.6C244.8 417.7 246 416.4 247.8 417.3C249.6 418.2 252 420.6 253.3 424.1C254.7 427.7 256.2 435.5 256 438.6C255.7 441.7 253.6 441.9 252 442.8C250.4 443.7 248.3 444.8 246.5 444.1C244.7 443.4 243 440.6 241.2 438.8C239.4 437.1 236.9 435.4 235.7 433.6C234.6 431.8 234.6 429.9 234.4 428.1C234.2 426.3 233.1 424.4 234.4 422.8Z" fill="#c8aa4c"/>
<path d="M230.5 433.3C231.2 431.5 234 429.2 236 429.1C238 429.1 240.5 431 242.6 433.1C244.6 435.1 247.6 439.4 248.1 441.2C248.6 443 247 443.7 245.4 444.1C243.9 444.5 240.9 444.1 238.6 443.4C236.3 442.8 233.1 441.8 231.8 440.2C230.4 438.5 229.8 435.2 230.5 433.3Z" fill="#3252aa"/>
<ellipse cx="234.3" cy="375.8" rx="2.9" ry="2.6" fill="#ea3a6c"/>
<ellipse cx="232.7" cy="381.4" rx="1.8" ry="2.1" fill="#ea3a6c"/>
<path d="M220.6 441.5C220.5 439.8 222.6 434 223.5 433.1C224.4 432.1 225.6 434.3 225.7 435.9C225.9 437.6 225.3 441.9 224.4 442.8C223.6 443.7 220.8 443.1 220.6 441.5Z" fill="#f26452"/>
<ellipse cx="222.2" cy="446.2" rx="2.6" ry="2" fill="#d4a272"/>
<ellipse cx="231.4" cy="443.6" rx="2.1" ry="1.2" fill="#d4a272"/>
<ellipse cx="236.9" cy="439.2" rx="1.6" ry="2.6" fill="#d4a272"/>
<ellipse cx="267.5" cy="409" rx="2.9" ry="2" fill="#8070c2"/>
<ellipse cx="273.4" cy="412.6" rx="2.1" ry="1.6" fill="#f2d4a2"/>
<path d="M244.1 395.5 L252.4 393.2" fill="none" stroke="#d04090" stroke-width="2" stroke-linecap="round" stroke-linejoin="round"/>
<ellipse cx="229.8" cy="426.4" rx="1.1" ry="1.1" fill="#10a080"/>
</g></g>
<g clip-path="url(#cb13)"><g filter="url(#umapf2)">
<path d="M286.9 412.6C287.7 411.5 290.1 410.4 292.5 409.7C294.8 409 299.4 407.4 301 408.4C302.6 409.3 303.1 413.8 301.9 415.2C300.7 416.5 296.2 416.4 293.8 416.5C291.4 416.6 288.7 416.5 287.6 415.8C286.5 415.2 286.1 413.6 286.9 412.6Z" fill="#da6a58"/>
<path d="M301 408.4C302.2 407 305.9 406.6 308.2 406.8C310.6 407 313.3 408.3 315.1 409.7C316.8 411 318.3 412.9 319 414.9C319.6 416.9 319.6 420.2 319 421.8C318.3 423.3 317.1 423.9 315.1 424.4C313 424.8 309 425 306.9 424.4C304.8 423.7 303.7 422 302.7 420.4C301.7 418.9 301.3 416.9 301 414.9C300.7 412.9 299.8 409.7 301 408.4Z" fill="#c84a32"/>
<path d="M303.4 399.4C303.8 398 305.7 397.6 306.2 398.9C306.8 400.2 306.9 405.9 306.5 407.3C306.1 408.7 304.1 408.6 303.6 407.3C303.1 406 302.9 400.8 303.4 399.4Z" fill="#f2ca92"/>
<path d="M318.5 433.3C318.9 432.2 319.3 434.6 321.4 435C323.4 435.5 328.3 436.5 330.6 435.9C332.8 435.4 333.2 432.2 334.8 431.7C336.3 431.3 338 432.4 340 433.1C342 433.8 345.9 434.5 346.6 435.9C347.2 437.4 345.3 440.1 344 441.5C342.6 442.8 340.5 443 338.7 444.1C336.9 445.2 335.2 447.2 333.2 448C331.2 448.9 328.6 449.6 326.6 449.4C324.6 449.1 322.5 448 321.1 446.7C319.7 445.4 318.9 443.7 318.5 441.5C318 439.2 318 434.4 318.5 433.3Z" fill="#d88212"/>
<path d="M335.5 417.3C336.5 415.5 339.7 416.6 341.1 417.3C342.5 418 343 419.7 344 421.5C344.9 423.3 346.1 425.2 346.6 428.1C347 430.9 347.5 436.6 346.6 438.6C345.7 440.6 343.1 440.5 341.3 440.2C339.6 439.8 337.2 438.2 336.2 436.2C335.2 434.2 335.7 431.2 335.5 428.1C335.4 424.9 334.6 419.1 335.5 417.3Z" fill="#78aa88"/>
<path d="M341.1 434.1h0M342.8 431.4h0M336.1 422.7h0M341.4 418.4h0M340.1 429.8h0M343.5 438.7h0M343.7 425.2h0M336.4 433.5h0M340.6 429.2h0M343.1 426.3h0M343.4 428h0M340.1 425.7h0M341 423.7h0M338.2 420.7h0M340.4 424h0M344.8 436.7h0M339.3 431.4h0M345.5 425.5h0M341.7 427.4h0M342.7 439.2h0" stroke="#3a78c0" stroke-width="1.2" stroke-linecap="round" stroke-opacity="0.8"/>
<path d="M342.9 435.5h0M342.6 437.2h0M339.1 433.5h0M338.5 428.9h0M343.1 421.9h0M336.2 435.4h0M344.5 432.5h0M339.1 432.3h0M336.5 432.4h0M341.9 431.4h0M340.5 422.4h0M343.6 427.9h0" stroke="#c0b050" stroke-width="1.2" stroke-linecap="round" stroke-opacity="0.8"/>
<path d="M342.1 420.2C342.6 418.8 345 418.9 346.3 419.5C347.6 420.2 349.4 422.7 349.9 424.1C350.3 425.6 350 427.7 348.9 428.3C347.9 429 344.8 429.4 343.7 428.1C342.6 426.7 341.7 421.6 342.1 420.2Z" fill="#8a84cc"/>
<path d="M334.2 407C334.9 404.9 337.3 403.1 339.8 402.2C342.2 401.3 347.2 401.2 349.2 401.5C351.2 401.9 351.8 403 351.8 404.4C351.8 405.8 350.5 407.9 349.2 409.9C347.9 411.9 345.5 415.2 344 416.5C342.4 417.8 341.2 418 339.8 417.8C338.4 417.6 336.5 417 335.5 415.2C334.6 413.4 333.5 409.2 334.2 407Z" fill="#80bcd8"/>
<path d="M347.4 407.5h0M335.8 410.4h0M349.9 402.5h0M347.8 405.8h0M346.5 407.7h0M339.9 409.5h0M343.6 412.8h0M345.5 412.6h0M341 412.6h0M340.3 411.4h0M342.3 410.7h0M338.1 407.8h0M335.5 412.2h0M350 407.3h0M336.1 411.6h0M336.4 407.4h0M342.9 403.4h0M339.8 406h0M340.6 414.4h0M336.7 411h0M341.9 406.2h0M336.6 406.3h0M345.6 405.1h0M340.8 411.7h0M350.5 406.4h0" stroke="#3a8ad0" stroke-width="1.2" stroke-linecap="round" stroke-opacity="0.8"/>
<path d="M346.5 408.8h0M348.3 405.3h0M345.8 412.5h0M342.4 404.6h0M341.3 413.7h0M342.4 405.3h0M345.6 404.6h0M348.8 406.4h0M346.1 410h0M340.2 406.9h0" stroke="#e080b0" stroke-width="1.2" stroke-linecap="round" stroke-opacity="0.8"/>
<path d="M352.6 400.2C354 398.6 357.6 398.2 359.5 398.9C361.3 399.6 363.1 402.1 363.7 404.4C364.3 406.7 363.9 410.5 363 412.6C362.1 414.6 359.7 416.3 358.1 416.5C356.6 416.7 355.1 415.2 353.9 413.9C352.8 412.5 351.5 410.6 351.3 408.4C351.1 406.1 351.3 401.8 352.6 400.2Z" fill="#e294ca"/>
<path d="M344.1 390C344.8 388.9 346.8 386.6 348.9 385.8C351.1 384.9 354.8 384.6 356.8 385.1C358.8 385.6 360.6 387.5 361 388.6C361.5 389.8 360.9 391.4 359.7 392.2C358.6 393 356 393.4 354.2 393.5C352.4 393.6 350.5 393.1 348.9 392.9C347.4 392.6 345.6 392.7 344.7 392.2C343.9 391.7 343.4 391 344.1 390Z" fill="#d894c8"/>
<path d="M345 392.3 L344.4 397.8 L345 402.4" fill="none" stroke="#40a060" stroke-width="2.5" stroke-linecap="round" stroke-linejoin="round"/>
<path d="M326.4 376.2C327.3 374.5 330.5 374.3 331.9 374.6C333.3 374.9 334.5 376 334.8 378.1C335 380.3 334.1 385.3 333.4 387.6C332.7 389.9 331.6 391.5 330.6 392.2C329.5 392.9 327.8 392.8 327 391.5C326.3 390.3 326.2 387.3 326.1 384.7C326 382.1 325.4 377.9 326.4 376.2Z" fill="#8a64bc"/>
<path d="M327.3 376.2C327.8 375 330.7 374.5 331.9 374.9C333 375.2 334 376.9 334.2 378.1C334.5 379.3 334.1 381.4 333.2 382.1C332.2 382.7 329.6 383.1 328.6 382.1C327.6 381.1 326.7 377.4 327.3 376.2Z" fill="#b070b0" fill-opacity="0.8"/>
<path d="M313.5 389C313.9 387.8 316.5 387.5 317.2 388.6C317.9 389.8 318.1 394.6 317.7 395.9C317.3 397.1 315.5 397.4 314.8 396.3C314.1 395.1 313.1 390.3 313.5 389Z" fill="#e8a2d2"/>
<path d="M319.8 398.9C319.7 398.4 322.3 397.3 322.9 397.6C323.5 397.9 323.9 400.5 323.3 400.7C322.8 401 319.8 399.4 319.8 398.9Z" fill="#e07ab8"/>
</g></g>
<g clip-path="url(#cb14)"><g filter="url(#umapf2)">
<path d="M376.5 407C376.7 405.7 379.1 404 381.8 403.1C384.4 402.2 389.4 401.6 392.3 401.8C395.1 402 397.8 402.9 398.8 404.4C399.9 405.9 400.4 409.5 398.8 411C397.3 412.5 392.7 413.6 389.6 413.6C386.6 413.6 382.6 412.1 380.5 411C378.3 409.9 376.3 408.4 376.5 407Z" fill="#8c7cca" fill-opacity="0.9"/>
<path d="M392.3 417.6C393.4 416.2 397.3 414.9 400.2 414.9C403 414.9 407.6 416.2 409.4 417.6C411.1 418.9 412 421.7 410.7 422.8C409.4 423.9 404.3 424.4 401.5 424.4C398.6 424.4 395.1 423.9 393.6 422.8C392.1 421.7 391.2 418.9 392.3 417.6Z" fill="#8c7cca" fill-opacity="0.9"/>
<path d="M405.4 408.4C406.3 406.2 410.2 405.1 413.3 404.4C416.4 403.8 421.4 403.3 423.8 404.4C426.2 405.5 427.8 408.4 427.8 411C427.8 413.6 425.8 418.4 423.8 420.2C421.8 421.9 418.6 421.9 415.9 421.5C413.3 421.1 409.8 419.7 408 417.6C406.3 415.4 404.5 410.5 405.4 408.4Z" fill="#8c7cca" fill-opacity="0.9"/>
<path d="M425.1 397.8C426.9 396.1 431.3 396.3 434.3 396.5C437.4 396.8 441.8 397.2 443.5 399.2C445.3 401.1 445.5 405.7 444.8 408.4C444.2 411 442.2 413.8 439.6 414.9C436.9 416 431.7 416.2 429.1 414.9C426.4 413.6 424.5 409.9 423.8 407C423.2 404.2 423.4 399.6 425.1 397.8Z" fill="#8c7cca" fill-opacity="0.9"/>
<path d="M405.4 426.8C406.1 425.7 409.4 424.6 412 424.1C414.6 423.7 419.2 423.5 421.2 424.1C423.2 424.8 424.7 427 423.8 428.1C422.9 429.2 418.6 430.3 415.9 430.7C413.3 431.1 409.8 431.4 408 430.7C406.3 430 404.8 427.8 405.4 426.8Z" fill="#8c7cca" fill-opacity="0.9"/>
<path d="M410.7 391.3C412 390.6 415.9 393.2 418.6 393.9C421.2 394.6 425.3 394.1 426.4 395.2C427.5 396.3 426.9 399.6 425.1 400.5C423.4 401.4 418.3 400.9 415.9 400.5C413.5 400 411.5 399.4 410.7 397.8C409.8 396.3 409.4 391.9 410.7 391.3Z" fill="#8c7cca" fill-opacity="0.9"/>
<path d="M392.3 397.8C393.2 396.4 398.4 394.8 400.2 395.9C401.9 397 403.7 403 402.8 404.4C401.9 405.8 396.7 405.5 394.9 404.4C393.2 403.3 391.4 399.3 392.3 397.8Z" fill="#8c7cca" fill-opacity="0.9"/>
<path d="M415.9 408.4C417.2 407.3 421 405.9 422.5 407C424 408.1 425.8 413.2 425.1 414.9C424.5 416.7 420.3 417.8 418.6 417.6C416.8 417.3 415.1 415.1 414.6 413.6C414.2 412.1 414.6 409.5 415.9 408.4Z" fill="#a898d8" fill-opacity="0.9"/>
<path d="M399.9 396.5C401 393.9 404.9 390.8 406.7 390.4C408.6 389.9 409.6 392.2 410.9 393.9C412.3 395.6 414.7 398 414.9 400.5C415.1 402.9 413.8 407 412.2 408.6C410.7 410.2 407.5 410.4 405.4 409.9C403.4 409.5 400.8 408.2 399.9 406C399 403.8 398.8 399.1 399.9 396.5Z" fill="#d89a62"/>
<path d="M413 382.1C414.4 380.5 419.3 378.8 421.2 379.2C423 379.6 423.4 382.7 424.1 384.7C424.8 386.7 425.8 389.5 425.4 391.3C424.9 393.1 423 395 421.4 395.5C419.9 396 417.3 395.3 415.9 394.2C414.5 393 413.5 390.7 413 388.6C412.6 386.6 411.7 383.7 413 382.1Z" fill="#d2c262"/>
<path d="M426.2 387.3C426.9 385.2 429.6 384.1 431.7 383.8C433.8 383.5 436.9 384.5 438.5 385.8C440.1 387 440.9 389.2 441.2 391.3C441.4 393.3 441.2 396.8 439.8 398.1C438.5 399.5 435.1 399.6 433 399.4C430.9 399.2 428.6 398.8 427.5 396.8C426.4 394.8 425.5 389.5 426.2 387.3Z" fill="#e292ca"/>
<path d="M424.9 420.2C425.9 418.7 429.4 417.1 431.7 416.6C434 416.2 437.2 416 438.5 417.3C439.9 418.5 440.3 422.3 439.8 424.1C439.4 426 437.5 427.6 435.9 428.3C434.3 429 432.1 428.8 430.4 428.3C428.6 427.9 426.4 427.1 425.5 425.7C424.6 424.3 423.8 421.7 424.9 420.2Z" fill="#ea9ac8"/>
<path d="M407.8 434.6C408.7 432.8 411.2 429.2 413.3 427.8C415.4 426.4 418.6 425.6 420.1 426.5C421.7 427.4 422.3 430.8 422.8 433.3C423.2 435.8 423.7 439.7 422.8 441.5C421.8 443.3 419.3 443.9 417.2 444.1C415.2 444.3 412.2 443.7 410.7 442.8C409.1 441.9 408.3 440.2 407.8 438.8C407.3 437.5 406.9 436.5 407.8 434.6Z" fill="#d2523a"/>
<path d="M397.9 432.7C398.7 431.6 401.5 431.2 402.8 431.7C404.1 432.3 405.4 434.4 405.7 435.9C405.9 437.5 405.3 439.9 404.4 440.8C403.4 441.7 401.2 441.9 400.2 441.5C399.1 441 398.3 439.4 397.9 437.9C397.6 436.5 397.1 433.7 397.9 432.7Z" fill="#f26c64"/>
<ellipse cx="401.1" cy="382.1" rx="2.9" ry="2.6" fill="#3262c2"/>
<ellipse cx="398.2" cy="445.4" rx="2.6" ry="2.6" fill="#108a92"/>
<path d="M382.8 422.8C384 421.7 387.9 420.8 389.6 421.2C391.4 421.7 392.7 424 393.2 425.4C393.7 426.8 393.6 428.8 392.5 429.6C391.5 430.5 388.6 430.6 387 430.3C385.4 430 383.5 428.9 382.8 427.7C382.1 426.4 381.7 423.9 382.8 422.8Z" fill="#8a7244"/>
<path d="M380.2 414.9C381.2 414 384.3 412.9 385.7 413.4C387.1 413.8 388.3 415.9 388.6 417.6C388.9 419.2 388.4 422.2 387.3 423.1C386.1 424 383 423.8 381.8 423.1C380.5 422.4 380.2 420.2 379.9 418.9C379.7 417.5 379.2 415.8 380.2 414.9Z" fill="#e2467e"/>
<ellipse cx="382.4" cy="400.7" rx="3.3" ry="2.4" fill="#d88212"/>
<ellipse cx="388.6" cy="401.1" rx="2.9" ry="3.3" fill="#d8a272"/>
<ellipse cx="404.4" cy="422.8" rx="3.7" ry="2.6" fill="#d892c8"/>
<path d="M392.9 395.2C393.5 393.1 395.8 392.6 396.9 394.6C397.9 396.5 399.7 405 399.1 407C398.6 409.1 394.6 409 393.6 407C392.6 405.1 392.4 397.3 392.9 395.2Z" fill="#9a72ca"/>
<ellipse cx="407.8" cy="411" rx="2" ry="2.6" fill="#40a060" fill-opacity="0.8"/>
<ellipse cx="421.2" cy="415.6" rx="2.6" ry="4.6" fill="#e0d872"/>
<ellipse cx="419.9" cy="402.4" rx="2" ry="2.6" fill="#e26452"/>
<ellipse cx="434.3" cy="404.4" rx="7.2" ry="3.9" fill="#a898d4" fill-opacity="0.8"/>
<ellipse cx="392.3" cy="409.7" rx="2.6" ry="1.8" fill="#3a80d0" fill-opacity="0.8"/>
<ellipse cx="442.2" cy="392.6" rx="1.6" ry="1.6" fill="#20a2e2"/>
<path d="M397.4 414.2h0M404.4 413.3h0M420.3 416.4h0M399.4 414.4h0M395.3 413h0M423.5 409.4h0M409 417.8h0M406.8 412.5h0M424.7 412.3h0M399.8 419.5h0M420.3 416h0M403.7 413.2h0M422.6 414.7h0M424.8 416.9h0M397.1 414.9h0M423.3 412.4h0M413.7 413.8h0M400.7 417.6h0M408.3 414.7h0M407.3 416.4h0M423.8 417.2h0M420.3 416.6h0M402.6 413h0M406.1 417.5h0M394.8 411.6h0" stroke="#ffffff" stroke-width="1.4" stroke-linecap="round" stroke-opacity="0.9"/>
</g></g>
<rect x="19.9" y="173.5" width="84.5" height="84.5" fill="none" stroke="#3a3a3a" stroke-width="1.1" rx="1"/>
<text x="62.1" y="168.5" font-size="7.5" fill="#111" stroke="#111" stroke-width="0.18" text-anchor="middle" style="font-style:italic;">Ileum</text>
<rect x="107.6" y="173.5" width="84.5" height="84.5" fill="none" stroke="#3a3a3a" stroke-width="1.1" rx="1"/>
<text x="149.8" y="168.5" font-size="7.5" fill="#111" stroke="#111" stroke-width="0.18" text-anchor="middle" style="font-style:italic;">Fibroblast</text>
<rect x="195.3" y="173.5" width="84.5" height="84.5" fill="none" stroke="#3a3a3a" stroke-width="1.1" rx="1"/>
<text x="237.6" y="168.5" font-size="7.5" fill="#111" stroke="#111" stroke-width="0.18" text-anchor="middle" style="font-style:italic;">ECGE</text>
<rect x="283" y="173.5" width="84.5" height="84.5" fill="none" stroke="#3a3a3a" stroke-width="1.1" rx="1"/>
<text x="325.2" y="168.5" font-size="7.5" fill="#111" stroke="#111" stroke-width="0.18" text-anchor="middle" style="font-style:italic;">BreastB</text>
<rect x="370.7" y="173.5" width="84.5" height="84.5" fill="none" stroke="#3a3a3a" stroke-width="1.1" rx="1"/>
<text x="412.9" y="168.5" font-size="7.5" fill="#111" stroke="#111" stroke-width="0.18" text-anchor="middle" style="font-style:italic;">Kidney</text>
<rect x="19.9" y="368.7" width="84.5" height="84.5" fill="none" stroke="#3a3a3a" stroke-width="1.1" rx="1"/>
<text x="62.1" y="363.7" font-size="7.5" fill="#111" stroke="#111" stroke-width="0.18" text-anchor="middle" style="font-style:italic;">Angular</text>
<rect x="107.6" y="368.7" width="84.5" height="84.5" fill="none" stroke="#3a3a3a" stroke-width="1.1" rx="1"/>
<text x="149.8" y="363.7" font-size="7.5" fill="#111" stroke="#111" stroke-width="0.18" text-anchor="middle" style="font-style:italic;">Retina</text>
<rect x="195.3" y="368.7" width="84.5" height="84.5" fill="none" stroke="#3a3a3a" stroke-width="1.1" rx="1"/>
<text x="237.6" y="363.7" font-size="7.5" fill="#111" stroke="#111" stroke-width="0.18" text-anchor="middle" style="font-style:italic;">GBmap</text>
<rect x="283" y="368.7" width="84.5" height="84.5" fill="none" stroke="#3a3a3a" stroke-width="1.1" rx="1"/>
<text x="325.2" y="363.7" font-size="7.5" fill="#111" stroke="#111" stroke-width="0.18" text-anchor="middle" style="font-style:italic;">AIDA</text>
<rect x="370.7" y="368.7" width="84.5" height="84.5" fill="none" stroke="#3a3a3a" stroke-width="1.1" rx="1"/>
<text x="412.9" y="363.7" font-size="7.5" fill="#111" stroke="#111" stroke-width="0.18" text-anchor="middle" style="font-style:italic;">HLCA</text>
<defs><linearGradient id="sg" x1="0" x2="0" y1="0" y2="1"><stop offset="0" stop-color="#3cb2e4" stop-opacity="0.95"/><stop offset="0.6" stop-color="#5cc0ea" stop-opacity="0.6"/><stop offset="1" stop-color="#8cd2f0" stop-opacity="0.1"/></linearGradient></defs>
<path d="M41.3 320.1h0M48.7 311.7h0M47.5 315.5h0M50.5 312.1h0M27.3 333.5h0M30.2 330.8h0M34.9 326.7h0M33.9 327.9h0M51.6 310.8h0M60.5 300.6h0M48.9 310.2h0M24.6 337.6h0M34.5 324.7h0M53.4 306.1h0M57.9 303.9h0M45.6 314.2h0M36.4 326.6h0M36.7 326.7h0M47.1 316h0M55.7 306h0M36.1 325.4h0M30.5 331.2h0M23.5 337.6h0M28.5 334.9h0M55.2 304.9h0M46.7 316.5h0M60.4 301.8h0M26 335.6h0M37.1 325.5h0M53.1 310.3h0M48.1 314.6h0M25.9 335.3h0M38.4 321.9h0M47.2 312.9h0M49.1 313.6h0M40.3 321.9h0M30.4 331.8h0M59.5 300.6h0M40.8 323.1h0M50.2 308.8h0M43.4 318.4h0M26.4 335.6h0M32.2 328.5h0M25.8 334.4h0M30.5 330.2h0M30.9 329.1h0M38.9 322h0M35.4 324.2h0M36.9 322.5h0M53.9 307.3h0M24.2 335.6h0M27.3 333.7h0M53.6 307.3h0M43.3 319.1h0M39.8 321.7h0M33.4 326.8h0M43.7 319.4h0M31.7 328.7h0M55.5 304.9h0M54.2 306.3h0M35.4 328.5h0M24.3 337h0M56.6 303.2h0M34.6 327.5h0M47.9 313h0M55.5 309.8h0M53.2 306.6h0M55.6 306.6h0M41.7 318.2h0M54.9 309.4h0M40.6 319.5h0M33.3 328.2h0M41.4 318.6h0M35.9 326.4h0M52.1 310h0M54.5 302.5h0M28.7 333.4h0M29.5 332.4h0M37.7 323.7h0M40.7 321.8h0M59.1 299.6h0M58.6 299.1h0M59.5 302.8h0M50.7 313.2h0M48.7 310.4h0M33.5 326.3h0M37.3 322.7h0M23.5 336.6h0M54.5 308h0M33.7 327.6h0M26.4 336.2h0M35.2 327.7h0M35.5 324.4h0M50.4 311.7h0M23.6 335.4h0M32 329.1h0M56.9 305.3h0M55.3 304.2h0M46.9 311.3h0M44.3 316.1h0M31.7 330.8h0M56.1 304.2h0M51.8 306.9h0M42.6 319.2h0M29.4 332.6h0M31.5 328.5h0M37.6 323.4h0M35.8 326.8h0M25.7 335.9h0M38.6 323.5h0M40.2 320.5h0M34.1 326.9h0M37.8 321.8h0M35.8 324.4h0M37.5 325.7h0M46.5 313.9h0M42 317.8h0M30.8 329.9h0M53.1 306.1h0M42.6 319.3h0M40.5 321.9h0M50.1 309.4h0M51.5 311.3h0M55.1 309.7h0M53.7 305.5h0M48.4 313.8h0M50.3 311.2h0M29.3 333.4h0M49.5 313.7h0M32.9 329.6h0M33 328.5h0M27.9 332.9h0M38.2 326h0M24.1 336.3h0M47.9 315h0M51.3 311.5h0M52.4 307.5h0M28.2 333h0M47.4 316.1h0M54.7 303h0M24.7 337.3h0M30.6 330.2h0M33.4 327.5h0M40.7 318.4h0M29.8 331.8h0M43.5 316h0M36.3 325.8h0M47.9 311.4h0M43.3 318.9h0M49 312.6h0M32.6 326.3h0M49.8 310.7h0M50.8 310h0M50.4 306.9h0M26 334.9h0M58.7 303.8h0M45 315h0M33.6 329h0M39.6 319.9h0M42.7 316.6h0M42.7 319.2h0M32.7 329.2h0M33.3 327.6h0M37 324.1h0M52.6 310.1h0M39.7 320.6h0M24.8 338.3h0M40.3 321.4h0M30.9 330.7h0M23.9 337.6h0M59.9 300.5h0M34.4 328.3h0M43.5 316.7h0M36.8 324.6h0M25.4 336.4h0M57.1 306.4h0M58.4 304.8h0M30.4 330.4h0M39 323.4h0M37.4 323.7h0M29.6 330.3h0M48.1 311.3h0M52.6 305.7h0M51.8 309.7h0M48.6 314.2h0M24.1 336.2h0M32 328.8h0M42.6 316.8h0M49.7 311.4h0M37.8 321.7h0M40.2 319.7h0M54.8 304.9h0M24.3 336.4h0M33.4 327.2h0M34.2 326.6h0M60.5 300h0M31.9 328.1h0M25.2 336.5h0M39 319.8h0M47.7 313.5h0" stroke="#3cb4e6" stroke-width="1.2" stroke-linecap="round"/>
<path d="M79.4 270.5h0M74.6 277.5h0M82 267.3h0M60.7 289.2h0M72 286.2h0M77.5 277.5h0M82 280h0M74.9 278.5h0M73.9 280.2h0M68.4 272.7h0M73.1 281.4h0M72.7 294.3h0M81.7 276.5h0M79.7 273.9h0M77.4 284.7h0M82.2 277.2h0M60.1 298.3h0M78.2 274.2h0M70.3 286h0M77.7 282.1h0M66 285.8h0M70.4 287.9h0M79.6 277.7h0M59.3 304h0M65.9 294.1h0M71 280.7h0M80.3 283.8h0M65.4 291h0M79.6 270.3h0M64.7 293.3h0M66.2 288.4h0M72.6 288.8h0M75.2 271.9h0M81 267.3h0M81 271.6h0M64.9 300.2h0M77.6 283.2h0M74.7 274.4h0M68.3 278.1h0M78.4 274.2h0M81.5 267.3h0M70.7 288h0M82 273.2h0M61.7 294.7h0M62.7 291.5h0M78.1 285.6h0M66.3 284.7h0M73.5 274h0M71.2 290.5h0M62.2 300.9h0M77.8 274.6h0M77.5 280.9h0M62.2 306h0M65.1 286.8h0M79 274.4h0M81.9 275.1h0M80.8 267.3h0M71.3 283.2h0M67.9 291.9h0M69.9 285h0M63 298.6h0M71.2 288.4h0M64.4 289.8h0M62.6 296.5h0M68.2 289.9h0M60.1 288.6h0M70.5 280.1h0M76.3 273.6h0M75.2 276.6h0M83.5 267.3h0M81.2 267.3h0M74.7 280.3h0M81.5 267.3h0M69.8 290.8h0M78.9 276.9h0M65.7 297.4h0M72 285.2h0M83.6 267.3h0M73.8 272.8h0M71.4 287.5h0M78.6 275.7h0M66.4 291.3h0M79.8 279h0M58.9 303.5h0M64.5 291.3h0M63 302h0M65 290.4h0M82.7 271h0M59 300.9h0M66.1 295.1h0M73.2 289.7h0M76.5 267.3h0M78.3 284.2h0M68.3 279h0M64.1 289h0M80.3 276.1h0M61.6 300.6h0M60.1 291.5h0M64.4 282.9h0M71.1 289.4h0M82.6 273.1h0M77.1 271.1h0M72.9 280.3h0M71.8 272.2h0M76.2 281.8h0M74.5 277.2h0M67.1 295.3h0M60.8 285.6h0M63.6 296.3h0M78.5 289.2h0M74.7 280.9h0M78.9 276.3h0M59.6 288h0M81.6 274.6h0M68.2 287.5h0M82.2 268h0M73.7 272.2h0M72.5 283h0M79.4 268.5h0M74.5 277.4h0" stroke="#3cb4e6" stroke-width="1.2" stroke-linecap="round"/>
<path d="M83.5 294.1h0M87.7 291.4h0M81.3 278.4h0M86.9 282.9h0M78 280.5h0M79.1 277h0M91 284.7h0M89.5 287.4h0M87.2 297.3h0M93.2 281.4h0M73.4 294.5h0M83.5 282.3h0M73.6 277.6h0M78.2 276.8h0M87.7 288.8h0M78.6 297.9h0M72.2 285.4h0M88.2 278.9h0M78.6 278.2h0M77 278.1h0" stroke="#3cb4e6" stroke-width="1.2" stroke-linecap="round"/>
<path d="M79.4 269.6h0M79.4 291.1h0M79.4 271.2h0M79.4 275.7h0M79.4 275.7h0M79.4 271.8h0M79.4 280.4h0M79.4 281.2h0M79.4 285.1h0M79.4 271.1h0M79.4 270.1h0M79.4 291h0M81.8 273.7h0M81.8 287.7h0M81.8 290.3h0M81.8 289.9h0M81.8 279.3h0M81.8 287.6h0M81.8 288.7h0M81.8 292.7h0M81.8 286.3h0M81.8 273.7h0M81.8 294.9h0M81.8 281.9h0M86.4 278.5h0M86.4 294.1h0M86.4 287.2h0M86.4 269.9h0M86.4 267.5h0M86.4 271.5h0M86.4 290.7h0M86.4 274h0M86.4 282.8h0M86.4 290.7h0M86.4 281.9h0M86.4 269.5h0M93.5 270.8h0M93.5 284.5h0M93.5 293.7h0M93.5 270.1h0M93.5 267.7h0M93.5 281.1h0M93.5 289.1h0M93.5 280.2h0M93.5 275.9h0M93.5 281.9h0M93.5 285.6h0M93.5 288.5h0M80.6 267.3h0M77.7 267.3h0M80.1 267.3h0M88.2 267.3h0M77.2 267.3h0M85.6 267.3h0M86.3 267.3h0M81.8 267.3h0M84.1 267.3h0M79.7 267.3h0M84.9 267.3h0M85.4 267.3h0M85.7 267.3h0M82.8 267.3h0" stroke="#3cb4e6" stroke-width="1.2" stroke-linecap="round"/>
<line x1="20.1" y1="340.6" x2="96.4" y2="264" stroke="#e8521c" stroke-width="1.5"/>
<line x1="19.5" y1="264.5" x2="19.5" y2="342" stroke="#3a3a3a" stroke-width="1.2"/>
<line x1="18.9" y1="341.4" x2="96.7" y2="341.4" stroke="#3a3a3a" stroke-width="1.2"/>
<line x1="17.5" y1="337.8" x2="19.9" y2="337.8" stroke="#333" stroke-width="0.8"/>
<text x="16.7" y="340.5" font-size="7.6" fill="#4d4d4d" stroke="#4d4d4d" stroke-width="0.18" text-anchor="end">0</text>
<line x1="23.4" y1="341.4" x2="23.4" y2="343.4" stroke="#333" stroke-width="0.8"/>
<text x="23.4" y="349.7" font-size="7.6" fill="#4d4d4d" stroke="#4d4d4d" stroke-width="0.18" text-anchor="middle">0</text>
<line x1="17.5" y1="314.3" x2="19.9" y2="314.3" stroke="#333" stroke-width="0.8"/>
<text x="16.7" y="317" font-size="7.6" fill="#4d4d4d" stroke="#4d4d4d" stroke-width="0.18" text-anchor="end">1</text>
<line x1="46.8" y1="341.4" x2="46.8" y2="343.4" stroke="#333" stroke-width="0.8"/>
<text x="46.8" y="349.7" font-size="7.6" fill="#4d4d4d" stroke="#4d4d4d" stroke-width="0.18" text-anchor="middle">1</text>
<line x1="17.5" y1="290.8" x2="19.9" y2="290.8" stroke="#333" stroke-width="0.8"/>
<text x="16.7" y="293.5" font-size="7.6" fill="#4d4d4d" stroke="#4d4d4d" stroke-width="0.18" text-anchor="end">2</text>
<line x1="70.1" y1="341.4" x2="70.1" y2="343.4" stroke="#333" stroke-width="0.8"/>
<text x="70.1" y="349.7" font-size="7.6" fill="#4d4d4d" stroke="#4d4d4d" stroke-width="0.18" text-anchor="middle">2</text>
<line x1="17.5" y1="267.3" x2="19.9" y2="267.3" stroke="#333" stroke-width="0.8"/>
<text x="16.7" y="270" font-size="7.6" fill="#4d4d4d" stroke="#4d4d4d" stroke-width="0.18" text-anchor="end">3</text>
<line x1="93.5" y1="341.4" x2="93.5" y2="343.4" stroke="#333" stroke-width="0.8"/>
<text x="93.5" y="349.7" font-size="7.6" fill="#4d4d4d" stroke="#4d4d4d" stroke-width="0.18" text-anchor="middle">3</text>
<text x="64.5" y="323.2" font-size="7.2" fill="#111" stroke="#111" stroke-width="0.18" style="font-style:italic;">R = 0.996</text>
<text x="64" y="332" font-size="7.5" fill="#111" stroke="#111" stroke-width="0.18" style="font-style:italic;">p &lt; 2.2e-16</text>
<path d="M111.6 337.3h0M112.3 336.6h0M113.4 335.7h0M114.6 334.7h0M115.8 333.6h0M116.9 332.6h0M118.1 331.5h0M119.3 330.8h0M121.6 328.9h0M126.3 324.2h0M128.6 323.2h0M129.8 321.4h0M130.9 320.9h0M133.3 319.5h0M134.4 318.5h0M135.6 319h0M136.8 317.1h0M139.1 315.5h0M140.3 313.1h0M141.5 311.9h0M142.6 310.8h0M145 311.5h0M147.3 308.4h0M153.1 306.1h0M157.8 299h0M159 292h0M157.8 279.1h0M167.1 296h0M167.1 267.3h0M181.2 267.3h0M181.2 273.2h0M181.2 280.2h0" stroke="#1ea4de" stroke-width="2.4" stroke-linecap="round"/>
<line x1="107.8" y1="340.6" x2="184.1" y2="264" stroke="#e8521c" stroke-width="1.5"/>
<line x1="107.2" y1="264.5" x2="107.2" y2="342" stroke="#3a3a3a" stroke-width="1.2"/>
<line x1="106.6" y1="341.4" x2="184.4" y2="341.4" stroke="#3a3a3a" stroke-width="1.2"/>
<line x1="105.2" y1="337.8" x2="107.6" y2="337.8" stroke="#333" stroke-width="0.8"/>
<text x="104.4" y="340.5" font-size="7.6" fill="#4d4d4d" stroke="#4d4d4d" stroke-width="0.18" text-anchor="end">0</text>
<line x1="111.1" y1="341.4" x2="111.1" y2="343.4" stroke="#333" stroke-width="0.8"/>
<text x="111.1" y="349.7" font-size="7.6" fill="#4d4d4d" stroke="#4d4d4d" stroke-width="0.18" text-anchor="middle">0</text>
<line x1="105.2" y1="314.3" x2="107.6" y2="314.3" stroke="#333" stroke-width="0.8"/>
<text x="104.4" y="317" font-size="7.6" fill="#4d4d4d" stroke="#4d4d4d" stroke-width="0.18" text-anchor="end">1</text>
<line x1="134.4" y1="341.4" x2="134.4" y2="343.4" stroke="#333" stroke-width="0.8"/>
<text x="134.4" y="349.7" font-size="7.6" fill="#4d4d4d" stroke="#4d4d4d" stroke-width="0.18" text-anchor="middle">1</text>
<line x1="105.2" y1="290.8" x2="107.6" y2="290.8" stroke="#333" stroke-width="0.8"/>
<text x="104.4" y="293.5" font-size="7.6" fill="#4d4d4d" stroke="#4d4d4d" stroke-width="0.18" text-anchor="end">2</text>
<line x1="157.8" y1="341.4" x2="157.8" y2="343.4" stroke="#333" stroke-width="0.8"/>
<text x="157.8" y="349.7" font-size="7.6" fill="#4d4d4d" stroke="#4d4d4d" stroke-width="0.18" text-anchor="middle">2</text>
<line x1="105.2" y1="267.3" x2="107.6" y2="267.3" stroke="#333" stroke-width="0.8"/>
<text x="104.4" y="270" font-size="7.6" fill="#4d4d4d" stroke="#4d4d4d" stroke-width="0.18" text-anchor="end">3</text>
<line x1="181.2" y1="341.4" x2="181.2" y2="343.4" stroke="#333" stroke-width="0.8"/>
<text x="181.2" y="349.7" font-size="7.6" fill="#4d4d4d" stroke="#4d4d4d" stroke-width="0.18" text-anchor="middle">3</text>
<text x="152.2" y="323.2" font-size="7.2" fill="#111" stroke="#111" stroke-width="0.18" style="font-style:italic;">R = 0.998</text>
<text x="151.7" y="332" font-size="7.5" fill="#111" stroke="#111" stroke-width="0.18" style="font-style:italic;">p &lt; 2.2e-16</text>
<path d="M198.8 337.8 L210.5 325 L222.2 312.1 L233.8 299.3 L245.5 286.4 L257.2 273.6 L268.9 266.1 L268.9 279.5 L257.2 290.2 L245.5 300.8 L233.8 311.5 L222.2 322.1 L210.5 332.8 L198.8 340.2Z" fill="#d8f0fa" fill-opacity="1.0" filter="url(#bl1)"/>
<path d="M257.7 277.8h0M251.4 298.3h0M233.6 302.5h0M240.2 305.1h0M215.5 324.9h0M256.1 279.9h0M238 302.3h0M253.1 281.1h0M216.3 310.1h0M258.4 276h0M205.2 329.8h0M231 311.6h0M205.5 333.2h0M210.3 330.1h0M245.2 297h0M202.8 336.7h0M222 318.4h0M210.4 327.4h0M250.4 295.2h0M203.8 336.6h0M219.2 323.6h0M250.8 285.8h0M240.5 298h0M241.5 291.7h0M259 273.6h0M200.2 337.2h0M239.2 296h0M244 303.3h0M244.2 281.7h0M242.1 290.1h0M203.2 334.2h0M203.9 335.9h0M245.7 291.2h0M235.9 312.2h0M214.7 325.4h0M199.4 335.6h0M231.2 306.8h0M204.3 333.9h0M244.2 289.3h0M219.5 322.2h0M247.8 289.7h0M204.6 333.6h0M228.8 313.3h0M204.9 330.9h0M246.2 298.9h0M232.8 296.4h0M213 326.2h0M257.3 268.9h0M240.2 304.6h0M219.2 316.2h0M250.7 296.2h0M221.9 321.3h0M256 282.6h0M216.8 318.3h0M258.6 290.1h0M202.6 331.3h0M243.4 300.2h0M216.5 320.6h0M224.5 311.9h0M237.4 298.2h0M201.6 339h0M212.4 319.8h0M205.1 330.4h0M243.7 297.8h0M212.2 328.4h0M229.1 316.9h0M218.7 324h0M213.1 322.5h0M255.6 286.4h0M229.6 313.9h0M238.3 303.2h0M241.6 288.7h0M248.7 292.7h0M214.8 324.7h0M203.6 329.9h0M227.2 308.9h0M209.1 327.9h0M200 338h0M254.6 295.2h0M236.8 307.9h0M224 316h0M207.1 330.6h0M245 292h0M231.2 304.6h0M209.4 327.1h0M258.4 279.9h0M256.5 290h0M255.1 298.9h0M249 293.5h0M231.1 311.8h0M217 322.9h0M238.4 301.8h0M208 332.7h0M236.2 308.1h0M202.8 334.3h0M199.6 336.8h0M242.2 300.4h0M219.6 316.2h0M241.1 299h0M246.2 299h0M249.5 289.6h0M236.2 292.8h0M250.2 293.4h0M238.8 293.7h0M255.1 275.4h0M253.2 276.6h0M201.4 337.2h0M215 315.5h0M222.4 315h0M214.1 324.2h0M209.5 328.3h0M251.8 283.8h0M200.3 336.2h0M209.8 327.9h0M245 286.7h0M212.4 327.3h0M214.5 326.5h0M257.5 276.8h0M245.1 289.9h0M226 307.3h0M207.1 333h0M215.1 318.6h0M258.4 278.1h0M246.8 281.8h0M203 336.9h0M241.7 296h0M221.6 317.3h0M242.5 305.4h0M216.7 323.4h0M206.7 327.2h0M200 337.7h0M216.8 323.4h0M251 282.9h0M252.9 280.2h0M240.3 293.2h0M244.2 299.4h0M210.6 326.8h0M220.3 313.5h0M253.4 290.4h0M258.7 286.4h0M225.7 308.8h0M245.9 284h0M255.5 291.9h0M259.3 298.7h0M216.8 326h0M238.5 305.6h0M222.5 316h0M227 308.4h0M226.8 311.9h0M215.7 324.2h0M200 336.4h0M245.3 299.4h0M241.1 298.1h0M249.8 293.5h0M208.1 321.3h0M213.2 321.5h0M235 307.8h0M255.7 290.7h0M227.4 312.6h0M211 331.4h0M234.9 307.3h0M256.9 287.8h0M251.5 282.3h0M253.4 288.9h0M223.7 317.5h0M214.7 327.3h0M251.7 295.3h0M246.6 292.9h0M250.5 290.3h0M222.6 310.8h0M216.2 323.6h0M213.4 320.5h0M251.7 286.2h0M254.6 285h0M221.1 324.6h0M251.9 295.8h0M222 312.9h0M226 306.1h0M233.2 304.3h0M212.2 322.7h0M215 323.8h0M215 323.8h0M214.6 325.1h0M230.1 303.7h0M204.9 331.1h0M246.2 294.4h0M209.4 328.7h0M225.8 309.9h0M237.8 299.2h0M207.2 332.2h0M223.6 307.2h0M233 304.2h0M232.2 306.1h0M253 277h0M246.5 286.6h0M206.1 331.1h0M249.4 286.6h0M232.2 311.4h0M240 302.3h0M208.5 335.2h0M227.5 305.3h0M241.3 308.1h0M247.2 287.9h0M247.7 296.5h0M212 328.4h0M249.4 291.2h0M233.3 303.8h0M239.4 296.1h0M250.5 277.8h0M223.4 313h0M254.6 279.2h0M252.3 291h0M247.8 287.1h0M221.9 315.4h0M230.9 309.6h0M209.3 328.1h0M244.9 294.5h0M252.9 285.4h0M208.6 327.4h0M244 298h0M240.9 302h0M201 334h0M254.5 296.3h0M227.9 313h0M215.1 317h0M200.6 339h0M246.3 297h0M219.3 315.8h0M230 315.9h0M210.6 318.6h0M235.7 316.1h0M222.9 309.2h0M247.8 282h0M239.3 294.6h0M242.6 297.6h0M214 322.2h0M202.7 336.3h0M252.2 282.1h0M255.6 291.6h0M237.9 302.3h0M254.8 278.3h0M241.7 303.4h0M235.6 304.9h0M224.2 313h0M220.4 322.5h0M228.5 304.4h0M212.3 323.9h0M224.8 319.6h0M229.6 308.9h0M200.7 337.8h0M222.7 317.8h0M216.1 321.2h0M237.3 305.1h0M248.1 285.3h0M236.1 306.1h0M239.1 294.4h0M236.1 302.8h0M214.4 320.2h0M221.6 318.3h0M250.1 292.5h0M256.2 291.2h0M209.8 325.7h0M199.4 335.2h0M257.2 268.1h0M251 280.3h0M235.7 301.6h0M248.4 292.2h0M234.9 301.7h0M253.7 286h0M213.6 319h0M225.8 308.2h0M239.5 303.8h0M211.9 327.6h0M242.2 289.1h0M214.7 321.7h0M241.9 298.3h0M247.6 284.4h0M224.6 315.1h0M258.9 282.9h0M237.1 303.9h0M244.7 305.7h0M200.1 334.7h0M205.6 334.5h0M242 300.1h0M256.1 288.6h0M236.9 297.9h0M254.2 285.8h0M202.4 334.4h0M252.9 297.5h0M252.1 288h0M237 309.3h0M224.9 311.8h0M241.6 295.3h0M213.6 323.8h0M239.3 288.5h0M240.9 295h0M231.6 304h0M214.6 322.4h0M198.9 338.1h0M210.7 323.6h0M249.4 283.1h0M211.7 329.7h0M203.3 330.9h0M213.8 321.9h0M230.3 303.5h0M234.4 301.8h0M252.1 295.4h0M250.7 296.1h0M257.6 269.7h0M252.5 285.4h0M226.1 318.1h0M207.4 328.7h0M256.8 285.4h0M212.7 330.6h0M236.6 313.9h0M214.9 328.1h0M248.4 289.2h0M211 326.4h0M224.3 314.7h0M212.1 324.3h0M251 284.6h0M236.4 313h0M237.1 303.1h0M217.9 322.8h0M209.5 331.3h0M250.8 292h0M245.2 294.6h0M243.4 297.1h0M259.3 290.7h0M232.8 308h0M209.6 321.5h0M235.8 308.2h0M216.2 327.2h0M229.9 307.1h0M226.7 308.8h0M233 303.2h0M254.7 292.3h0M248 285.2h0M224 317.2h0M248.4 297.8h0M251 292.2h0M245.8 294h0M232.3 302.7h0M253.4 282.1h0M228.7 309.6h0M205.2 329.3h0M215.3 321.9h0M238.7 295.3h0M221.8 321.6h0M224.5 320.1h0M223.2 311.5h0M210.5 331h0M204.5 333.2h0M201.8 335.2h0M239.6 301.8h0M218.5 320.9h0M226.5 305.5h0M255.6 301h0M236.8 297.2h0M248 277.3h0M245.1 293.9h0M256.7 283.2h0M202.9 332.2h0M222.1 308.4h0M256.5 291.3h0M227 310.7h0M256.3 284.6h0M210 325.5h0M202.5 334h0M253.2 282.1h0M223.8 315.9h0M229.7 308.4h0M255.6 288.5h0M212.1 327.3h0M257.6 283.2h0M222.9 315.6h0M213.8 327.5h0M213 319.3h0M230.3 308.7h0M227.1 317.1h0M252.6 279.8h0M201.9 336.7h0M201.5 334.1h0M208.1 329.1h0M235.6 301.7h0M246.2 291.9h0M227.9 312.8h0M236.1 302.3h0M237.8 290.2h0M200 339h0M213.8 323.4h0M259.4 277.5h0M218.9 322.7h0M256.3 292.7h0M228.7 299.8h0M212.3 326.2h0M198.9 333.2h0M212 323.6h0M218.3 319.1h0M225.5 310.5h0M225.9 309.4h0M232.1 300.6h0M227.6 308.6h0M200.8 335.6h0M215 321.9h0M257.2 273.3h0M200.5 334.4h0M243.4 301.4h0M227.7 313.3h0M241.7 295.4h0M219 321h0M221.3 318h0M230.2 312.6h0M254 287.3h0M218.7 317.4h0M204 330.3h0M201.1 335.6h0M252.3 273.8h0M217.8 320.1h0M206.1 322.3h0M235 298.5h0M250.1 286.2h0M235.2 305.9h0M208 337.2h0M223.4 315.1h0M215 321.9h0M199.8 332.6h0M257.4 291.8h0M226.7 303.1h0M207 330.8h0M252.5 282.3h0M258.6 298.8h0M248.3 290.1h0M214.2 324.4h0M210.4 324.8h0M230.7 307.2h0M234.2 310h0M252.1 281.3h0M257.5 277.5h0M254.1 281.6h0M219.6 314.3h0M234.4 298.7h0M206.3 330.7h0M230.3 314.3h0M203.1 337.1h0M205.6 327.8h0M206.2 328.9h0M217.1 320.1h0M217.6 321.6h0M241.6 297.1h0M203.4 333.4h0M205.5 332.3h0M238.6 303.8h0M239.6 287.5h0M241.9 295.7h0M242.5 299.9h0M239 306.7h0M232.3 309.6h0M243.8 291.1h0M203.7 331.2h0M211.7 326.3h0M243.8 294.9h0M210.5 327.7h0M231 312.5h0M214.6 318.4h0M225 311.5h0M249.4 274.6h0M238.9 303.9h0M225.8 312.8h0M215.4 319h0M247.7 293h0M238.7 307.5h0M225.5 316.6h0M251.6 287.2h0M240.8 296.1h0M258.3 282.1h0M239.1 294.3h0M253.4 279.6h0M232.2 304.6h0M241.9 296.9h0" stroke="#40b4e6" stroke-width="1" stroke-linecap="round" stroke-opacity="0.85"/>
<path d="M257.2 280.2h0M257.2 303.3h0M257.2 268.6h0M257.2 271.8h0M257.2 298.7h0M257.2 276h0M257.2 273.9h0M257.2 303.3h0M257.2 283.6h0M257.2 289.1h0M257.2 281.6h0M257.2 271.6h0M257.2 277.7h0M257.2 297h0M261.8 284h0M261.8 283.8h0M261.8 304.5h0M261.8 299.9h0M261.8 291.4h0M261.8 298.2h0M261.8 296h0M261.8 279.5h0M261.8 268.8h0M261.8 287.7h0M261.8 280.6h0M261.8 276.3h0M261.8 279.6h0M261.8 280.2h0M252.5 267.3h0M266.7 267.3h0M255.1 267.3h0M255.5 267.3h0M260.8 267.3h0M262.1 267.3h0M264.9 267.3h0M257.3 267.3h0M268 267.3h0M262.8 267.3h0" stroke="#4cb8e6" stroke-width="0.9" stroke-linecap="round"/>
<rect x="268.4" y="267.3" width="0.9" height="35.2" fill="url(#sg)"/>
<line x1="195.5" y1="340.6" x2="271.8" y2="264" stroke="#e8521c" stroke-width="1.5"/>
<line x1="194.9" y1="264.5" x2="194.9" y2="342" stroke="#3a3a3a" stroke-width="1.2"/>
<line x1="194.3" y1="341.4" x2="272.1" y2="341.4" stroke="#3a3a3a" stroke-width="1.2"/>
<line x1="192.9" y1="337.8" x2="195.3" y2="337.8" stroke="#333" stroke-width="0.8"/>
<text x="192.1" y="340.5" font-size="7.6" fill="#4d4d4d" stroke="#4d4d4d" stroke-width="0.18" text-anchor="end">0</text>
<line x1="198.8" y1="341.4" x2="198.8" y2="343.4" stroke="#333" stroke-width="0.8"/>
<text x="198.8" y="349.7" font-size="7.6" fill="#4d4d4d" stroke="#4d4d4d" stroke-width="0.18" text-anchor="middle">0</text>
<line x1="192.9" y1="314.3" x2="195.3" y2="314.3" stroke="#333" stroke-width="0.8"/>
<text x="192.1" y="317" font-size="7.6" fill="#4d4d4d" stroke="#4d4d4d" stroke-width="0.18" text-anchor="end">1</text>
<line x1="222.2" y1="341.4" x2="222.2" y2="343.4" stroke="#333" stroke-width="0.8"/>
<text x="222.2" y="349.7" font-size="7.6" fill="#4d4d4d" stroke="#4d4d4d" stroke-width="0.18" text-anchor="middle">1</text>
<line x1="192.9" y1="290.8" x2="195.3" y2="290.8" stroke="#333" stroke-width="0.8"/>
<text x="192.1" y="293.5" font-size="7.6" fill="#4d4d4d" stroke="#4d4d4d" stroke-width="0.18" text-anchor="end">2</text>
<line x1="245.5" y1="341.4" x2="245.5" y2="343.4" stroke="#333" stroke-width="0.8"/>
<text x="245.5" y="349.7" font-size="7.6" fill="#4d4d4d" stroke="#4d4d4d" stroke-width="0.18" text-anchor="middle">2</text>
<line x1="192.9" y1="267.3" x2="195.3" y2="267.3" stroke="#333" stroke-width="0.8"/>
<text x="192.1" y="270" font-size="7.6" fill="#4d4d4d" stroke="#4d4d4d" stroke-width="0.18" text-anchor="end">3</text>
<line x1="268.9" y1="341.4" x2="268.9" y2="343.4" stroke="#333" stroke-width="0.8"/>
<text x="268.9" y="349.7" font-size="7.6" fill="#4d4d4d" stroke="#4d4d4d" stroke-width="0.18" text-anchor="middle">3</text>
<text x="239.9" y="323.2" font-size="7.2" fill="#111" stroke="#111" stroke-width="0.18" style="font-style:italic;">R = 0.998</text>
<text x="239.4" y="332" font-size="7.5" fill="#111" stroke="#111" stroke-width="0.18" style="font-style:italic;">p &lt; 2.2e-16</text>
<path d="M286.5 337.8h0M287.9 336.4h0M289.3 335h0M290.7 333.6h0M292.1 332.2h0M293.5 330.8h0M297 327.2h0M300.5 324.9h0M300.5 320.6h0M306.3 318.5h0M314.5 314.3h0M318 307.2h0M320.4 288.9h0M326.2 303.7h0M356.6 266.8h0M356.6 279.1h0M356.6 281.9h0M356.6 293.2h0" stroke="#1ea4de" stroke-width="3.2" stroke-linecap="round"/>
<line x1="283.2" y1="340.6" x2="359.5" y2="264" stroke="#e8521c" stroke-width="1.5"/>
<line x1="282.6" y1="264.5" x2="282.6" y2="342" stroke="#3a3a3a" stroke-width="1.2"/>
<line x1="282" y1="341.4" x2="359.8" y2="341.4" stroke="#3a3a3a" stroke-width="1.2"/>
<line x1="280.6" y1="337.8" x2="283" y2="337.8" stroke="#333" stroke-width="0.8"/>
<text x="279.8" y="340.5" font-size="7.6" fill="#4d4d4d" stroke="#4d4d4d" stroke-width="0.18" text-anchor="end">0</text>
<line x1="286.5" y1="341.4" x2="286.5" y2="343.4" stroke="#333" stroke-width="0.8"/>
<text x="286.5" y="349.7" font-size="7.6" fill="#4d4d4d" stroke="#4d4d4d" stroke-width="0.18" text-anchor="middle">0</text>
<line x1="280.6" y1="314.3" x2="283" y2="314.3" stroke="#333" stroke-width="0.8"/>
<text x="279.8" y="317" font-size="7.6" fill="#4d4d4d" stroke="#4d4d4d" stroke-width="0.18" text-anchor="end">1</text>
<line x1="309.9" y1="341.4" x2="309.9" y2="343.4" stroke="#333" stroke-width="0.8"/>
<text x="309.9" y="349.7" font-size="7.6" fill="#4d4d4d" stroke="#4d4d4d" stroke-width="0.18" text-anchor="middle">1</text>
<line x1="280.6" y1="290.8" x2="283" y2="290.8" stroke="#333" stroke-width="0.8"/>
<text x="279.8" y="293.5" font-size="7.6" fill="#4d4d4d" stroke="#4d4d4d" stroke-width="0.18" text-anchor="end">2</text>
<line x1="333.2" y1="341.4" x2="333.2" y2="343.4" stroke="#333" stroke-width="0.8"/>
<text x="333.2" y="349.7" font-size="7.6" fill="#4d4d4d" stroke="#4d4d4d" stroke-width="0.18" text-anchor="middle">2</text>
<line x1="280.6" y1="267.3" x2="283" y2="267.3" stroke="#333" stroke-width="0.8"/>
<text x="279.8" y="270" font-size="7.6" fill="#4d4d4d" stroke="#4d4d4d" stroke-width="0.18" text-anchor="end">3</text>
<line x1="356.6" y1="341.4" x2="356.6" y2="343.4" stroke="#333" stroke-width="0.8"/>
<text x="356.6" y="349.7" font-size="7.6" fill="#4d4d4d" stroke="#4d4d4d" stroke-width="0.18" text-anchor="middle">3</text>
<text x="327.6" y="323.2" font-size="7.2" fill="#111" stroke="#111" stroke-width="0.18" style="font-style:italic;">R = 0.996</text>
<text x="327.1" y="332" font-size="7.5" fill="#111" stroke="#111" stroke-width="0.18" style="font-style:italic;">p &lt; 2.2e-16</text>
<path d="M374.2 334.7 L385.9 321.6 L397.6 308.5 L409.2 295.4 L420.9 282.3 L432.6 269.1 L444.2 266.1 L444.2 279.5 L432.6 289.9 L420.9 300.3 L409.2 310.7 L397.6 321 L385.9 331.4 L374.2 340.2Z" fill="#bfe4f6" fill-opacity="1.0" filter="url(#bl1)"/>
<path d="M374.2 337.1 L385.9 324.8 L397.6 312.5 L409.2 300.2 L420.9 287.9 L432.6 275.6 L444.2 266.1 L444.2 272.7 L432.6 283.9 L420.9 295.1 L409.2 306.3 L397.6 317.5 L385.9 328.7 L374.2 339.9Z" fill="#7cc8ee" fill-opacity="1.0" filter="url(#bl05)"/>
<path d="M425.4 289.2h0M403.2 308.2h0M378.5 331.6h0M374.9 336.5h0M413.1 294.8h0M400.1 320.5h0M400.9 305.6h0M394 309.2h0M385 323.2h0M403 310.3h0M389.7 325h0M428.4 281.2h0M385.1 329.6h0M432.9 273h0M426.4 289h0M397.5 310.5h0M421.1 281.7h0M409.5 313.1h0M402.5 308h0M423.5 292.9h0M424.6 296.8h0M386.4 327.3h0M429.2 284.1h0M376.1 333.9h0M374.5 339h0M403.6 303.3h0M392.5 312.2h0M399.9 309.4h0M403.3 306h0M402.6 309.2h0M429.3 291h0M429.9 277.7h0M395.2 315.2h0M391.7 317.7h0M413.9 283h0M386.2 323.6h0M398.5 311.6h0M417.8 284.3h0M374.5 339h0M421.1 298.1h0M418.8 295.3h0M397.7 316.8h0M389.2 320.4h0M407 306.4h0M392.1 313.6h0M424 277.2h0M410.1 297.6h0M392.8 320.4h0M423.2 284.3h0M411.1 296.2h0M382.2 332.4h0M399.3 311h0M403.9 304.5h0M431.6 278.4h0M393.7 312.4h0M401.4 305h0M433.5 284.6h0M400.1 311.2h0M424.4 293h0M380.1 330.6h0M398.1 317.3h0M385.4 324h0M427.9 281h0M407.7 299.1h0M387.5 324.9h0M379.8 335.4h0M399.8 304.5h0M380.1 332.3h0M403.7 301.7h0M418.4 290.6h0M393 316.4h0M384.4 322.6h0M396.1 314.4h0M384.3 323.9h0M425.4 296.6h0M380 330h0M419.2 294.1h0M394.5 317.9h0M418.4 293.2h0M421 288.4h0M382.4 325.4h0M420.1 303.5h0M431.6 279.7h0M408.6 306.9h0M413.4 291.7h0M393.8 319.6h0M384.8 325.9h0M419.4 294.8h0M424 283.1h0M386.7 322.2h0M381.1 331.8h0M395.6 316.1h0M412.2 307.5h0M396.4 314.3h0M432.7 272.3h0M422.3 293.1h0M429.8 273.5h0M410.6 312.4h0M420.1 303.5h0M431.9 290.3h0M376.4 336.5h0M409.1 302.6h0M385.6 326.6h0M422.5 289.7h0M388.3 321.3h0M419.2 295.5h0M394.4 322.2h0M413.8 305.2h0M415.4 283.8h0M429.4 299.6h0M427.2 285.8h0M400.8 304.6h0M416 292.8h0M385.3 329h0M380.2 331.8h0M417.6 288.9h0M429.3 273.5h0M419.5 297.9h0M405.6 302.5h0M412.4 297.9h0M418.5 286.3h0M408.8 295.7h0M396.2 317h0M425.8 296h0M396.6 313.7h0M429.1 269.5h0M422.7 284.4h0M422.3 287.8h0M424.8 270.3h0M434.1 285.7h0M434.3 270.2h0M404.6 309.9h0M397.1 314.5h0M418.7 292.4h0M433 267.3h0M412.5 304.6h0M375.8 337.2h0M376.5 338.5h0M402.4 307.2h0M422 292.7h0M428.1 280.5h0M397 319.2h0M405.6 308h0M405.3 301.4h0M379.9 332.4h0M374.3 336.7h0M406 303.2h0M404.8 308.7h0M426.6 296.1h0M385.2 323.9h0M426 284.5h0M390.7 317.9h0M406.9 315h0M417.1 304.7h0M383 334.4h0M431.7 286.7h0M432.4 271.3h0M433.1 274.1h0M374.3 337.7h0M413.3 297.7h0M414.9 292.3h0M427.6 286.2h0M386.4 324.3h0M381.7 329.9h0M423.3 303.1h0M390.1 323.1h0M378.2 331h0M379.8 333.1h0M413.4 299.2h0M406.7 308.1h0M419.6 295.2h0M423.2 280.9h0M374.4 338.1h0M430.8 288.5h0M427.6 306.5h0M430.8 285.1h0M420.9 303.6h0M397.5 321.8h0M389.3 320.1h0M429.6 276.8h0M399.7 320.4h0M403.8 304h0M416.6 292.3h0M416 300.4h0M416.3 291h0M412.1 308.8h0M405.1 312.6h0M420.8 300.3h0M398.2 318.2h0M390.1 318.9h0M429.4 292.1h0M425.6 294.2h0M417.8 299.8h0M384.4 327h0M377 335.7h0M430.2 275h0M431.4 285.6h0M390.7 325.5h0M412.4 302.2h0M375.3 336.6h0M398.1 317.6h0M416.9 293.1h0M396.1 308.6h0M423.2 292.5h0M429.6 281.8h0M382.5 326h0M416 299.7h0M397 318.3h0M384.8 330.2h0M395.4 315h0M403.5 306h0M428.6 284.3h0M420.7 290.9h0M374.5 335.4h0M377.6 332.7h0M434.5 288.3h0M408 303.9h0M411.2 300.1h0M395.6 313.5h0M424.7 288.7h0M408 307.2h0M410.2 304.2h0M389.3 328.4h0M421.4 290.7h0M387.2 326.6h0M382.5 328.3h0M410.5 307h0M424.7 290.2h0M392 323.4h0M392.5 323.2h0M383.3 326.9h0M410.8 303.7h0M421 288h0M381.8 332.9h0M406.7 304.8h0M407 313.5h0M380.7 332.5h0M406.4 308.1h0M390.7 319.4h0M386.3 325.2h0M434 279.3h0M379.7 330.5h0M395 316.2h0M411.8 297.2h0M398.8 310h0M375.3 336.9h0M426.8 287.3h0M388.7 322.3h0M399.2 314.6h0M429.4 279.8h0M433.1 270.3h0M429.7 275.9h0M399.2 314.5h0M419.4 300.8h0M425.7 286.7h0M386.2 326.2h0M433.1 270.3h0M380.4 332.6h0M414.1 299.1h0M388.7 321h0M387.3 326.2h0M382.5 329.9h0M431.4 267.6h0M382 326.4h0M429.6 277.7h0M384.3 327.1h0M394.2 321.5h0M387 323.4h0M434.2 277.4h0M379.8 331.7h0M426.5 289.2h0M392.4 319.7h0M432 281.4h0M419.8 290.2h0M390.2 317.1h0M405.2 305.1h0M384 332.5h0M398.9 317.2h0M375.8 339h0M415.6 301.1h0M410.2 298.8h0M390.7 320h0M375 338.1h0M431.2 278.8h0M381.8 332.1h0M394.1 323.2h0M375.7 338.9h0M397.5 318.1h0M398.6 307.5h0M406.6 312.2h0M393.8 313.6h0M389.4 318.4h0M421.9 291.3h0M391.1 321.1h0M394.4 320h0M404 308.1h0M390.8 319h0M418.3 293.7h0M379.3 330.6h0M393.8 313.9h0M399.8 310.8h0M389.9 321.1h0M425.2 287.3h0M395.7 315h0M399.7 317.1h0M402.7 307.5h0M424.6 286h0M387.5 327.2h0M424.5 272.7h0M431.8 287.7h0M390.4 324.6h0M384.5 326.8h0M422.1 302.8h0M393.2 321.7h0M388 328.8h0M378.9 335.2h0M411.5 301.3h0M431.1 278.5h0M427.7 276.4h0M409.9 297.8h0M400.8 306h0M433.5 274h0M414.3 300.5h0M432.3 271.2h0M416 299h0M416.5 299.3h0M416.8 286h0M381.8 328.3h0M389.5 321.8h0M378.2 332.3h0M430.8 274.6h0M434.6 288.2h0M410.9 301.6h0M383.7 331.5h0M381.7 330h0M401.3 313.8h0M397.9 308.6h0M386.1 324.5h0M379.6 334.3h0M413.5 298.7h0M422.3 297.8h0M378 334h0M393 317.1h0M392.4 318.7h0M407.1 314.7h0M410.9 303h0M399.1 310.8h0M426.8 283.1h0M397.9 309.4h0M392.6 324h0M420.7 287.9h0M425.3 291.3h0M427.5 283.2h0M384.5 326.5h0M386.2 323.9h0M402.3 312.4h0M432.9 277.7h0M411.9 306.7h0M412 307.9h0M394 316h0M434.3 278.2h0M385.3 331.3h0M408.2 308.3h0M415.2 296.8h0M423.4 278.2h0M423.6 281.4h0M397.7 311.2h0M390.7 327.4h0M433.7 279.2h0M407.8 301.9h0M391.3 319.4h0M382.6 328.4h0M423 290.7h0M425.7 274.1h0M408.8 295.6h0M397.5 315h0M414.3 303.5h0M433.7 267.3h0M409.3 305.7h0M422 282.2h0M427.7 270.6h0M420.1 298h0M403.7 307h0M385 328h0M416.5 292.5h0M424.7 285.2h0M432.7 267.3h0M383.4 327.1h0M381.1 331h0M412.8 292.9h0M424.4 289.5h0M378.8 334h0M411.5 288.2h0M390.4 324.4h0M434.9 281.1h0M396.1 315.8h0M379.2 335.2h0M421.7 304.3h0M392.5 315.9h0M399.6 315.8h0M382.1 331.3h0M394.3 319.2h0M382.3 332.2h0M389.8 325.8h0M409.3 301.9h0M392.4 311.3h0M414.7 293h0M428.9 277.7h0M409.2 310.8h0M375.9 336.2h0M432.5 288.7h0M386.2 323.6h0M395.2 317.7h0M406.2 305.7h0M411.8 300.8h0M395 319.3h0M400.9 317.9h0M412.3 296.6h0M402 316.4h0M391.4 324.7h0M399.1 314.2h0M397.6 317.4h0M391.9 319.3h0M410.7 295.9h0M405.3 305.6h0M399.2 312.1h0M417.3 294.7h0M423.5 282.7h0M413.6 309.1h0M394.9 315.8h0M431.1 288.1h0M380.5 334.4h0M423.1 288.9h0M399.8 314h0M398.3 311.4h0M425.4 279h0M414 311.6h0M433.3 279.3h0M427.5 270.5h0M381.3 328.8h0M404.7 300.4h0M420.8 290.6h0M379.2 336h0M407.1 310.7h0M434.5 272h0M388.7 320.4h0M381.3 332.5h0M391.8 321.3h0M395.1 316h0M391.5 326.6h0M400.4 313.2h0M424.8 276.1h0M405.6 295.7h0M410 302.7h0M380.8 327h0M378.1 335h0M431.9 286.3h0M395.3 325.4h0M431.7 273.1h0M394.6 318.9h0M413 285.8h0M414.4 295.8h0M379.7 332h0M378.5 337.4h0M401 304.4h0M381.9 331.1h0M392.2 320.5h0M386.1 332.4h0M393.2 315.5h0M401.9 305.7h0M393.1 321.2h0M394.6 317.2h0M403.7 306.5h0M415.6 290.7h0M376.7 335.1h0M434.8 267.3h0M400.4 312.8h0M430.2 286.4h0M374.6 338.2h0M377.7 339h0M380.2 333.7h0M429.6 275h0M399.2 311.7h0M425.6 292.2h0M416.4 293.6h0M379.5 337h0M396.2 317h0M394.3 315.8h0M401.7 307.2h0M420 297.1h0M379.3 330.8h0M430.4 267.6h0M403.1 310.9h0M396.4 312.7h0M416.6 304.9h0M391 327.7h0M417.5 290.8h0M399.5 312.4h0M403.2 307.9h0M385.7 328.1h0M386.5 326.4h0M426.5 279.8h0M409.2 293.8h0M399.8 313.2h0M421.2 301.6h0M429.6 273h0M383.8 326.6h0M434.8 271.8h0M375.1 336.7h0M411.5 287.7h0M390.2 321.6h0M389.5 320.9h0M404.2 316.7h0M410.9 304.3h0M400.7 314.4h0M417.5 294.7h0M431.9 277.5h0M384.5 329.7h0M388.6 318h0M411.2 306.7h0M399.1 314.9h0M393.3 317.8h0M404.8 313.3h0M416.5 292.1h0M429.4 278h0M431.3 282.9h0M424 275.1h0M395.2 316.5h0M427.9 282.1h0M417.3 300.6h0M384.8 331.9h0M432.1 284.8h0M389.2 323.9h0M415.6 299.1h0M416.4 291h0M429.3 300.3h0M414.7 304h0M433.9 292.5h0M377.8 331.5h0M376.5 336.7h0M386.1 327.5h0M409.1 308.7h0M399.9 308.2h0M379.2 333.8h0M386.5 325h0M409.4 313.5h0M398.6 308.5h0M420.5 288.9h0M402.5 307h0M427.5 275.6h0M420.3 293h0M404.2 308.6h0M395.9 313.3h0M387.2 323.6h0M391.9 321h0M395.8 316.1h0M396.1 317.9h0M385.1 325h0M402.9 304.8h0M381 331.1h0M426.9 271.7h0M407.6 312.3h0M380 332.6h0M394.1 311.6h0M389.7 323.7h0M383.7 332.6h0M403.4 302.1h0M385.3 325.2h0M383.4 331.8h0M416.8 290.5h0M400.3 316.2h0M415 304.9h0M402.7 310h0M404.8 309.6h0M393.1 323h0M400.1 313.5h0M403.4 313.4h0M395 316.8h0M424.4 287.8h0M389.2 320.5h0M387.6 325.9h0M395.1 322h0M421.9 298.9h0M425.7 288.1h0M408.5 295.5h0M396.1 312.6h0M413.6 302.1h0M424.4 281.1h0M388.9 326.8h0M414.7 291.3h0M417.3 297.1h0M397.9 311h0M383 327.5h0M411.1 302.5h0M387 324.1h0M396.5 319.7h0M407.3 305.1h0M432.6 271h0M383.1 318.4h0M378.7 331.9h0M406.9 304.7h0M431.5 288.2h0M377 333h0M413.2 308.3h0M375.9 337.7h0M407.7 302.5h0M381.4 333.5h0M414.2 288.8h0M396.1 311.6h0M413.9 301.4h0M389.9 324h0M378.7 336.1h0M385.2 330.7h0M390.8 319.7h0M384.2 326.2h0M386.2 324.8h0M407.2 303.4h0M400.8 313.7h0M424.3 285.2h0M404.4 314.7h0M407 305h0M417.3 285.6h0M426 276.6h0M409.7 304.8h0M376.4 336.3h0M402.1 303.7h0M376.2 332.6h0M410.9 309.3h0M378.1 334.8h0M407 303.9h0M383.3 325.6h0M426.1 291.8h0M379.9 330.7h0M414.2 299.5h0M416.9 280.6h0M390.9 319.7h0M410.2 302.6h0M394.2 319.1h0M389.9 318.7h0M390 319.8h0M375.2 338.8h0M415.1 295.7h0M378.6 336.3h0M386.2 328.1h0M379.5 335.4h0M423 297.9h0M406.3 309.1h0M402.6 314h0M409.6 299.6h0M423.3 283.3h0M412.1 301.3h0M405.4 312.1h0M393.2 315.9h0M405.6 316.4h0M434.1 293.1h0M408.8 299.4h0M403.2 305.8h0M428.1 276.8h0M377.5 335h0M378 336.6h0M422.1 293.3h0M431.4 276.3h0M377.3 336.3h0M375.7 337.7h0M374.8 339h0M409.2 309h0M382.6 327.4h0M408.3 301.4h0M414.5 304.3h0M375.1 338.8h0M427 289h0M389.5 320.7h0M407.8 310.2h0M395.7 317h0M395 325.2h0M398.7 318.6h0M374.4 336.9h0M400.2 307.9h0M390.3 325.6h0M395.9 319.2h0M384.1 325.8h0M394.5 319h0M416.7 298.6h0M433.9 273.9h0M386.2 325.3h0M426.8 277.2h0M411.5 296.1h0M380.3 333h0M375.1 337.2h0M427.9 284.5h0M388.4 327.9h0M380.7 333.7h0M414 292.4h0M417.1 304.6h0M428.5 276.1h0M404.6 306.1h0M393.1 319.4h0M393.5 316.5h0M386.6 324h0M412.8 292.4h0M431.4 283.6h0M379.3 333.2h0M397.7 315.4h0M395.6 309.2h0M379.1 330.9h0M410.3 306.7h0M433.9 280.7h0M391 323.4h0M418.3 293.5h0M428.9 281.5h0M390.6 313.7h0M430 295.6h0M419.6 285.8h0M413.4 296.1h0M386 328.1h0M391 321.5h0M380.4 332.8h0M428.6 283h0M423.3 281.8h0M379.5 335.9h0M406.4 299h0M387.1 326h0M420.7 281.5h0M409 300.8h0M431.6 270.9h0M418.3 290.1h0M380.3 329.3h0M396.8 314.9h0M409.2 307.2h0M429.6 277.4h0M396.7 312.4h0M385.6 320.5h0M391.4 327.5h0M389.3 323.4h0M383.6 325.7h0M395.1 321.7h0M389.3 323.4h0M405.2 296.4h0M428.5 273.1h0M432.1 286.5h0M383.9 324.4h0M408.8 297h0M415.1 292.2h0M383.5 327.6h0M406.5 304.3h0M386.3 328.2h0M396.3 317.7h0M393.9 315.4h0M423.7 287.3h0M388.4 317.8h0M407 306.6h0M409.8 315h0M394.2 319h0M430.6 279.1h0M394.4 316.2h0M394 317.7h0M416.2 300.6h0M403.8 301.1h0M418.2 297.8h0M383.5 326.7h0M383.2 329.6h0M418.9 300.5h0M397.8 308.4h0M426.2 303.4h0M388.4 326.3h0M388.8 321.8h0M426.6 287.8h0M396.2 312.8h0M380.9 331.4h0M387.6 325.8h0M420.9 276.9h0M390.3 322.4h0M407.9 304.8h0M424.9 294.5h0M411.3 304.7h0M419.9 287.8h0M433.5 273.9h0M392.4 319.6h0M427.4 289.4h0M407.7 300.7h0M386.4 330.5h0M382.2 330.6h0M394.1 318.8h0M382.6 331.6h0M421.1 289.8h0M408 307.3h0M376.9 336.7h0M427.5 271.3h0M410.4 297.5h0M401.1 305.5h0M382.8 329.1h0M402.7 304.7h0M429.9 276h0M409.7 295.7h0M402.1 299h0M411.1 302h0M407.6 302.9h0M412.1 300h0M386.3 335.9h0M383.2 332.4h0M375 337h0M424.7 282.7h0M374.4 338.6h0M389.8 318.5h0M409.7 295.2h0M404.5 309.3h0M428.9 272.3h0M387.1 319.6h0M381.1 329.7h0M383.9 330.6h0M404.4 300.4h0M391.9 320.6h0M401.8 311.7h0M416 295.1h0M393.7 320.1h0M414.6 290.9h0M375.4 335.2h0M407.4 298.2h0M429.3 278.1h0M430.9 286.7h0M408.9 303.7h0M433.9 270.9h0M388.5 324.7h0M392.3 309.3h0M401.4 311.5h0M405.1 309.6h0M424 279.9h0M401.4 307.1h0M377.1 334.9h0M416.7 296.4h0M387.7 322.9h0M427.8 277.9h0M387.1 322.6h0M392.2 320.8h0M382.5 328.3h0M392.6 316.3h0M410.7 296.9h0M390.4 331.8h0M377.1 336.6h0M409.8 306.1h0M418.8 294.3h0M380.8 330.7h0M400 307.9h0M378.3 332.3h0M375.2 337h0M396.9 314.8h0M391.6 314.2h0M427.3 288.7h0M375 336.4h0M413.4 289.3h0M418.7 290.8h0M399.5 321.1h0M404.6 305.4h0M389.2 323.9h0M389.5 322.7h0M377.4 332.5h0M429.2 279h0M375.9 336.5h0M382.5 327.2h0M418.2 290.8h0M402 309.4h0M405.3 305h0M392.1 318.9h0M384 328.9h0M422.7 292h0M381.7 330.2h0M392.2 323.1h0M419.8 299.9h0M392.3 315h0M432 281.5h0M384.8 327.2h0M406.2 306.2h0M406.9 304.8h0M404.6 307.1h0M421.2 290.1h0M377 336.5h0M407.3 299.7h0M422.1 294.1h0M377.3 332.7h0M407.4 314.2h0M401 315.6h0M398.8 308.9h0M406.8 305.7h0M412.1 303.4h0M416.9 292.5h0M428.7 290.6h0M414.1 297.2h0M434.8 294.4h0M414.6 299.8h0M390.5 323.5h0M383.1 327.4h0M378.5 331.6h0M390.5 324.3h0M381.4 326.7h0M415.7 299.6h0M416.1 308h0M411.4 313.5h0M397.4 308.2h0M402.4 309.9h0M390 324.1h0" stroke="#3ab2e6" stroke-width="0.9" stroke-linecap="round" stroke-opacity="0.75"/>
<rect x="426.6" y="267.3" width="0.8" height="25.9" fill="url(#sg)"/>
<rect x="428" y="267.3" width="0.8" height="25.9" fill="url(#sg)"/>
<rect x="430.1" y="267.3" width="0.8" height="25.9" fill="url(#sg)"/>
<rect x="432.9" y="267.3" width="0.8" height="25.9" fill="url(#sg)"/>
<rect x="436.8" y="267.3" width="0.8" height="25.9" fill="url(#sg)"/>
<rect x="443.7" y="267.3" width="1.1" height="21.1" fill="url(#sg)"/>
<path d="M420.8 267.3h0M434.7 267.3h0M429.2 267.3h0M420.1 267.3h0M434.3 267.3h0M427.8 267.3h0M427 267.3h0M419 267.3h0M435.4 267.3h0M427.6 267.3h0M434.6 267.3h0M418.9 267.3h0M430.9 267.3h0M424.8 267.3h0M428 267.3h0M429.8 267.3h0M433.8 267.3h0M435.7 267.3h0M420.7 267.3h0M434.5 267.3h0M419.7 267.3h0M417.6 267.3h0M423.4 267.3h0M423 267.3h0M432.7 267.3h0M428.5 267.3h0M425.1 267.3h0M433.1 267.3h0M436 267.3h0M430.1 267.3h0M430.4 267.3h0M434.5 267.3h0M423.2 267.3h0M437.2 267.3h0M420.9 267.3h0M418.3 267.3h0M433.7 267.3h0M420.9 267.3h0M424.1 267.3h0M427.6 267.3h0" stroke="#3ab2e6" stroke-width="1" stroke-linecap="round"/>
<line x1="370.9" y1="340.6" x2="447.2" y2="264" stroke="#e8521c" stroke-width="1.5"/>
<line x1="370.3" y1="264.5" x2="370.3" y2="342" stroke="#3a3a3a" stroke-width="1.2"/>
<line x1="369.7" y1="341.4" x2="447.5" y2="341.4" stroke="#3a3a3a" stroke-width="1.2"/>
<line x1="368.3" y1="337.8" x2="370.7" y2="337.8" stroke="#333" stroke-width="0.8"/>
<text x="367.5" y="340.5" font-size="7.6" fill="#4d4d4d" stroke="#4d4d4d" stroke-width="0.18" text-anchor="end">0</text>
<line x1="374.2" y1="341.4" x2="374.2" y2="343.4" stroke="#333" stroke-width="0.8"/>
<text x="374.2" y="349.7" font-size="7.6" fill="#4d4d4d" stroke="#4d4d4d" stroke-width="0.18" text-anchor="middle">0</text>
<line x1="368.3" y1="314.3" x2="370.7" y2="314.3" stroke="#333" stroke-width="0.8"/>
<text x="367.5" y="317" font-size="7.6" fill="#4d4d4d" stroke="#4d4d4d" stroke-width="0.18" text-anchor="end">1</text>
<line x1="397.6" y1="341.4" x2="397.6" y2="343.4" stroke="#333" stroke-width="0.8"/>
<text x="397.6" y="349.7" font-size="7.6" fill="#4d4d4d" stroke="#4d4d4d" stroke-width="0.18" text-anchor="middle">1</text>
<line x1="368.3" y1="290.8" x2="370.7" y2="290.8" stroke="#333" stroke-width="0.8"/>
<text x="367.5" y="293.5" font-size="7.6" fill="#4d4d4d" stroke="#4d4d4d" stroke-width="0.18" text-anchor="end">2</text>
<line x1="420.9" y1="341.4" x2="420.9" y2="343.4" stroke="#333" stroke-width="0.8"/>
<text x="420.9" y="349.7" font-size="7.6" fill="#4d4d4d" stroke="#4d4d4d" stroke-width="0.18" text-anchor="middle">2</text>
<line x1="368.3" y1="267.3" x2="370.7" y2="267.3" stroke="#333" stroke-width="0.8"/>
<text x="367.5" y="270" font-size="7.6" fill="#4d4d4d" stroke="#4d4d4d" stroke-width="0.18" text-anchor="end">3</text>
<line x1="444.2" y1="341.4" x2="444.2" y2="343.4" stroke="#333" stroke-width="0.8"/>
<text x="444.2" y="349.7" font-size="7.6" fill="#4d4d4d" stroke="#4d4d4d" stroke-width="0.18" text-anchor="middle">3</text>
<text x="415.3" y="323.2" font-size="7.2" fill="#111" stroke="#111" stroke-width="0.18" style="font-style:italic;">R = 0.998</text>
<text x="414.8" y="332" font-size="7.5" fill="#111" stroke="#111" stroke-width="0.18" style="font-style:italic;">p &lt; 2.2e-16</text>
<path d="M23.4 530.6 L35.1 517.9 L46.8 505.2 L58.4 492.5 L70.1 479.7 L81.8 467 L93.5 461.3 L93.5 470.7 L81.8 481.5 L70.1 492.3 L58.4 503 L46.8 513.8 L35.1 524.6 L23.4 535.4Z" fill="#c4e6f6" fill-opacity="1.0" filter="url(#bl1)"/>
<path d="M23.4 532.1 L35.1 520 L46.8 507.9 L58.4 495.9 L70.1 483.8 L81.8 471.7 L93.5 461.3 L93.5 465.3 L81.8 476.8 L70.1 488.2 L58.4 499.6 L46.8 511.1 L35.1 522.5 L23.4 533.9Z" fill="#80caee" fill-opacity="1.0" filter="url(#bl05)"/>
<path d="M30.1 526.9h0M49.1 510.5h0M44.9 510.4h0M28.6 531.4h0M60 495.6h0M50.8 501.8h0M33.1 522.6h0M71.2 481.4h0M48.3 506.5h0M25 530.3h0M76.8 478.6h0M48.2 510.5h0M29 527.8h0M40.9 515.5h0M38.9 514.4h0M26.1 527.7h0M43.5 511.6h0M33.6 524.2h0M36.4 521.6h0M64.3 492.6h0M33 520.5h0M24.7 531.2h0M34.2 522.2h0M41.3 516.9h0M33.4 521.1h0M59.7 495.4h0M76.8 479.5h0M73.8 481.8h0M52 498.8h0M71.1 485.7h0M71.4 477.2h0M61.9 489.4h0M72.1 483.7h0M46.4 507.3h0M68.8 487.8h0M55.1 503.9h0M68.2 489h0M68.3 491.7h0M27.4 528.1h0M74 482h0M25.6 529.9h0M49.3 504.4h0M59.3 508.4h0M73.4 481.3h0M26.9 532.4h0M64.2 491.3h0M44.3 514.3h0M25.9 530.3h0M43.6 509h0M62.3 500.5h0M28.4 527.6h0M74.9 481.5h0M26 533.4h0M37.9 516.9h0M43.4 512.8h0M27.3 529.9h0M79.6 480.1h0M82.1 462.5h0M78.3 479.6h0M35.5 524.8h0M74 486.4h0M43.9 513.4h0M40.9 516.3h0M65.3 491.2h0M28.6 529.6h0M23.7 531.9h0M79.9 478.5h0M44.9 515.2h0M71.7 488.1h0M49.2 508.2h0M29 525.8h0M52.2 502.4h0M33.8 523.3h0M28.3 528h0M24.6 531.5h0M47.7 502.5h0M39.1 518.7h0M43.8 511.2h0M81.8 470.5h0M73.7 486.7h0M66.3 489.1h0M38.2 517.7h0M68.9 489.2h0M65.8 488h0M55.5 497.2h0M37.9 515.8h0M36 520.7h0M48.9 506.8h0M40.2 510.3h0M77.1 484.3h0M51.7 503.8h0M64.5 488h0M77.9 477.5h0M61.1 492.6h0M33.2 522.8h0M42.8 511.5h0M79.4 470.2h0M26.2 530.5h0M36.9 519h0M60.9 495.4h0M75.3 482.7h0M73.2 483h0M67.8 493.1h0M66 487h0M46.1 505.3h0M27.1 526.4h0M62 489.2h0M27.8 530.2h0M71.9 477.4h0M31.4 526.4h0M24.9 531.6h0M84.1 462.5h0M33.6 525h0M58.7 494.4h0M27.1 528.8h0M82.9 473.9h0M24.4 533.3h0M65.2 489.2h0M74.6 483.6h0M41.4 512.2h0M23.9 530.8h0M25.6 532.9h0M27.1 530.1h0M69.2 488.3h0M55.5 504.8h0M77.8 483.7h0M61.8 494h0M59.5 497.5h0M35.7 524.3h0M37 520.6h0M82.8 470.5h0M81.2 481h0M50 509.1h0M71.7 477.3h0M67.1 483.5h0M40.3 520.1h0M35.5 523.7h0M68.9 485.6h0M81.8 480.3h0M83.1 474.2h0M45.1 512.4h0M27.4 528.1h0M42.8 520.2h0M27.6 532.4h0M83.4 479.1h0M42 511.6h0M74.9 481.9h0M38.4 522h0M81.7 471.8h0M53.1 500.8h0M74 483.2h0M59.8 497.6h0M69.9 484.3h0M27.8 526.5h0M28.7 527.4h0M45.1 509.7h0M76.7 479.6h0M78.6 479.3h0M66.5 493.4h0M59.7 495.5h0M26.4 530.5h0M79.7 477.5h0M63.5 489h0M60.8 493.5h0M74.5 477.5h0M37.8 522.2h0M61 493h0M64.9 493.7h0M69.3 490.3h0M29.2 528.7h0M67.6 483.4h0M78.2 473.8h0M61.5 497.4h0M33.7 525h0M79.2 476.8h0M29.6 527.6h0M37.4 515.1h0M75.3 487.7h0M59.1 503.8h0M43.8 513.2h0M72.2 483.9h0M62.7 492.9h0M30.6 524.4h0M37.5 514h0M72.6 485h0M72.6 485.9h0M27.9 531.4h0M55.1 500.3h0M66.7 485.9h0M43.2 513.8h0M27.2 527.2h0M48.7 507.4h0M80.2 468.3h0M67.7 487h0M36.4 522.3h0M74.7 484.4h0M63.9 498.3h0M41 519.7h0M39.7 515.9h0M34.1 520.4h0" stroke="#4cb8e6" stroke-width="0.8" stroke-linecap="round" stroke-opacity="0.6"/>
<rect x="79" y="462.5" width="0.8" height="25.9" fill="url(#sg)"/>
<rect x="81.4" y="462.5" width="0.8" height="25.9" fill="url(#sg)"/>
<rect x="86" y="462.5" width="0.8" height="25.9" fill="url(#sg)"/>
<rect x="92.9" y="462.5" width="1.1" height="21.1" fill="url(#sg)"/>
<path d="M78.3 462.5h0M78.9 462.5h0M86.2 462.5h0M87.4 462.5h0M78.1 462.5h0M77.5 462.5h0M81.7 462.5h0M81.9 462.5h0" stroke="#4cb8e6" stroke-width="0.8" stroke-linecap="round" stroke-opacity="0.7"/>
<line x1="20.1" y1="535.8" x2="96.4" y2="459.2" stroke="#e8521c" stroke-width="1.5"/>
<line x1="19.5" y1="459.7" x2="19.5" y2="537.2" stroke="#3a3a3a" stroke-width="1.2"/>
<line x1="18.9" y1="536.6" x2="96.7" y2="536.6" stroke="#3a3a3a" stroke-width="1.2"/>
<line x1="17.5" y1="533" x2="19.9" y2="533" stroke="#333" stroke-width="0.8"/>
<text x="16.7" y="535.7" font-size="7.6" fill="#4d4d4d" stroke="#4d4d4d" stroke-width="0.18" text-anchor="end">0</text>
<line x1="23.4" y1="536.6" x2="23.4" y2="538.6" stroke="#333" stroke-width="0.8"/>
<text x="23.4" y="544.9" font-size="7.6" fill="#4d4d4d" stroke="#4d4d4d" stroke-width="0.18" text-anchor="middle">0</text>
<line x1="17.5" y1="509.5" x2="19.9" y2="509.5" stroke="#333" stroke-width="0.8"/>
<text x="16.7" y="512.2" font-size="7.6" fill="#4d4d4d" stroke="#4d4d4d" stroke-width="0.18" text-anchor="end">1</text>
<line x1="46.8" y1="536.6" x2="46.8" y2="538.6" stroke="#333" stroke-width="0.8"/>
<text x="46.8" y="544.9" font-size="7.6" fill="#4d4d4d" stroke="#4d4d4d" stroke-width="0.18" text-anchor="middle">1</text>
<line x1="17.5" y1="486" x2="19.9" y2="486" stroke="#333" stroke-width="0.8"/>
<text x="16.7" y="488.7" font-size="7.6" fill="#4d4d4d" stroke="#4d4d4d" stroke-width="0.18" text-anchor="end">2</text>
<line x1="70.1" y1="536.6" x2="70.1" y2="538.6" stroke="#333" stroke-width="0.8"/>
<text x="70.1" y="544.9" font-size="7.6" fill="#4d4d4d" stroke="#4d4d4d" stroke-width="0.18" text-anchor="middle">2</text>
<line x1="17.5" y1="462.5" x2="19.9" y2="462.5" stroke="#333" stroke-width="0.8"/>
<text x="16.7" y="465.2" font-size="7.6" fill="#4d4d4d" stroke="#4d4d4d" stroke-width="0.18" text-anchor="end">3</text>
<line x1="93.5" y1="536.6" x2="93.5" y2="538.6" stroke="#333" stroke-width="0.8"/>
<text x="93.5" y="544.9" font-size="7.6" fill="#4d4d4d" stroke="#4d4d4d" stroke-width="0.18" text-anchor="middle">3</text>
<text x="64.5" y="518.4" font-size="7.2" fill="#111" stroke="#111" stroke-width="0.18" style="font-style:italic;">R &gt; 0.999</text>
<text x="64" y="527.2" font-size="7.5" fill="#111" stroke="#111" stroke-width="0.18" style="font-style:italic;">p &lt; 2.2e-16</text>
<path d="M114.3 529h0M117 526.4h0M123.5 519.1h0M112 532.1h0M120.1 523.1h0M112.7 531.9h0M133.6 508.3h0M156.6 482.2h0M151.3 490.7h0M147.8 491.9h0M139.5 507.4h0M122.5 522.2h0M114 528.3h0M122.4 518.4h0M168.6 471.2h0M160.5 481.2h0M145.7 500h0M148.3 492.6h0M156.3 482.6h0M161 485.6h0M125.8 516.5h0M159.8 479.8h0M150.5 490.1h0M128 517.2h0M128.6 513.5h0M121.5 524.3h0M144.3 493.8h0M169.9 470.3h0M159 486.4h0M121.2 520.3h0M118.4 523.8h0M128.2 516.1h0M121.1 519.2h0M119.7 525.3h0M155.5 485h0M130.2 510.5h0M145.4 503h0M130.2 510.8h0M170.9 470.1h0M147 495.1h0M119.6 525.5h0M158.3 482h0M128.7 516.5h0M138.7 506.2h0M128.5 515.4h0M140.8 504.7h0M129.8 510.2h0M130.6 515.1h0M120.7 524h0M169.4 472.7h0M123.7 519.7h0M128.3 513.4h0M136 504.8h0M118.3 525.8h0M125 519h0M135.8 506.8h0M146.5 493.2h0M143.7 496.7h0M133.5 510.5h0M152.2 496.1h0M156.4 477.9h0M127.2 514.3h0M125.6 517.2h0M149.1 491.9h0M136.1 507.8h0M161.5 483.4h0M111.7 532.7h0M144 498.9h0M132.3 511.9h0M124 521.8h0M163.8 478.5h0M124.3 518.1h0M159 484.1h0M163 478.1h0M169.8 479.4h0M118.2 525.8h0M120.6 523.2h0M116.2 529.1h0M130.6 515.9h0M166.1 473.2h0M150.2 494.2h0M120.5 522.4h0M117.5 526.8h0M156.6 482.8h0M148.9 494h0M111.2 534.2h0M146.8 495.6h0M122.6 521.3h0M128.9 512.9h0M117.2 527.1h0M171.3 471h0M138.8 501.6h0M148.6 490h0M123.5 518.7h0M133.9 506.7h0M150.4 490.1h0M156.4 482.5h0M166.2 471.4h0M126.1 516.4h0M125.7 517.5h0M135.6 506.8h0M129.8 508.5h0M160.9 480.4h0M133.6 509.7h0M133.8 509.8h0M141.6 500.8h0M145.3 496.1h0M132.5 512.7h0M111.6 534.2h0M155.7 484.8h0M118.1 527.8h0M163 477.2h0M126.1 516.9h0M126.6 514.6h0M143.6 494.2h0M166.2 473.4h0M134.2 509.8h0M140.3 505.1h0M136.3 508.2h0M117.9 525.8h0M128.6 518.4h0M166.8 473.9h0M168.1 472.8h0M126.6 515.5h0M167 475.3h0M112.1 531.9h0M154.7 489.3h0M112.7 531.8h0M137 509.8h0M136.2 506.2h0M137.5 501.4h0M168.2 472h0M132.5 509.6h0M112.2 532.8h0M117.8 524.1h0M156.6 487.5h0M118.9 523.7h0M114.7 529.1h0M123 522h0M170.5 466h0" stroke="#4cb8e6" stroke-width="1.1" stroke-linecap="round"/>
<path d="M168.4 475h0M155.7 468.7h0M173.1 471.2h0M170.1 481.8h0M174.3 473.2h0M155.8 470.7h0M168.4 473.6h0M164 468.5h0M171.2 473.1h0M152.7 482.4h0M178.2 477.9h0M168.5 484.9h0M166.8 472.6h0M172.1 463.3h0M163.6 480.3h0M155.3 479.7h0M163.2 463.4h0M165.1 470.9h0M171.3 488h0M157.3 474.4h0M152.4 484.5h0M171.9 470.9h0M154.7 485.3h0M174.4 476.1h0M159.7 469.8h0" stroke="#4cb8e6" stroke-width="1.1" stroke-linecap="round"/>
<path d="M181.2 474.2h0M181.2 472.6h0M181.2 470.9h0M181.2 469.2h0M181.2 467.5h0M181.2 465.9h0M181.2 464.2h0M181.2 462.5h0M181.2 507.1h0M157.8 533h0M162.5 533h0M181.2 533h0" stroke="#4cb8e6" stroke-width="1.1" stroke-linecap="round"/>
<line x1="107.8" y1="535.8" x2="184.1" y2="459.2" stroke="#e8521c" stroke-width="1.5"/>
<line x1="107.2" y1="459.7" x2="107.2" y2="537.2" stroke="#3a3a3a" stroke-width="1.2"/>
<line x1="106.6" y1="536.6" x2="184.4" y2="536.6" stroke="#3a3a3a" stroke-width="1.2"/>
<line x1="105.2" y1="533" x2="107.6" y2="533" stroke="#333" stroke-width="0.8"/>
<text x="104.4" y="535.7" font-size="7.6" fill="#4d4d4d" stroke="#4d4d4d" stroke-width="0.18" text-anchor="end">0</text>
<line x1="111.1" y1="536.6" x2="111.1" y2="538.6" stroke="#333" stroke-width="0.8"/>
<text x="111.1" y="544.9" font-size="7.6" fill="#4d4d4d" stroke="#4d4d4d" stroke-width="0.18" text-anchor="middle">0</text>
<line x1="105.2" y1="509.5" x2="107.6" y2="509.5" stroke="#333" stroke-width="0.8"/>
<text x="104.4" y="512.2" font-size="7.6" fill="#4d4d4d" stroke="#4d4d4d" stroke-width="0.18" text-anchor="end">1</text>
<line x1="134.4" y1="536.6" x2="134.4" y2="538.6" stroke="#333" stroke-width="0.8"/>
<text x="134.4" y="544.9" font-size="7.6" fill="#4d4d4d" stroke="#4d4d4d" stroke-width="0.18" text-anchor="middle">1</text>
<line x1="105.2" y1="486" x2="107.6" y2="486" stroke="#333" stroke-width="0.8"/>
<text x="104.4" y="488.7" font-size="7.6" fill="#4d4d4d" stroke="#4d4d4d" stroke-width="0.18" text-anchor="end">2</text>
<line x1="157.8" y1="536.6" x2="157.8" y2="538.6" stroke="#333" stroke-width="0.8"/>
<text x="157.8" y="544.9" font-size="7.6" fill="#4d4d4d" stroke="#4d4d4d" stroke-width="0.18" text-anchor="middle">2</text>
<line x1="105.2" y1="462.5" x2="107.6" y2="462.5" stroke="#333" stroke-width="0.8"/>
<text x="104.4" y="465.2" font-size="7.6" fill="#4d4d4d" stroke="#4d4d4d" stroke-width="0.18" text-anchor="end">3</text>
<line x1="181.2" y1="536.6" x2="181.2" y2="538.6" stroke="#333" stroke-width="0.8"/>
<text x="181.2" y="544.9" font-size="7.6" fill="#4d4d4d" stroke="#4d4d4d" stroke-width="0.18" text-anchor="middle">3</text>
<text x="152.2" y="518.4" font-size="7.2" fill="#111" stroke="#111" stroke-width="0.18" style="font-style:italic;">R = 0.999</text>
<text x="151.7" y="527.2" font-size="7.5" fill="#111" stroke="#111" stroke-width="0.18" style="font-style:italic;">p &lt; 2.2e-16</text>
<path d="M198.8 533 L210.5 520.3 L222.2 507.5 L233.8 494.8 L245.5 482.1 L257.2 469.4 L268.9 461.3 L268.9 473.1 L257.2 483.8 L245.5 494.6 L233.8 505.4 L222.2 516.2 L210.5 526.9 L198.8 535.4Z" fill="#e2f3fa" fill-opacity="1.0" filter="url(#bl1)"/>
<path d="M242.5 486.5h0M263.8 473.4h0M205.6 530.2h0M249 488.6h0M228.9 502.6h0M215 524.3h0M231.4 503.2h0M200.1 530.8h0M206.9 526.3h0M205.9 528.4h0M244.1 479.9h0M245.1 480.7h0M214.7 518.2h0M218.9 509.2h0M249.3 476.7h0M224.1 512.4h0M221.6 501.7h0M260.6 478.9h0M234.4 499.5h0M234 503.5h0M238.7 493.8h0M201.5 532.7h0M224.9 507.6h0M250.4 476.8h0M241.4 490.5h0M257 478.1h0M219.1 508.2h0M229.9 506.4h0M214.1 515.3h0M210.9 521.9h0M204.8 526.7h0M211.8 520.2h0M209.5 522.2h0M227.5 505.3h0M225.7 509.8h0M248.8 487.6h0M249.7 481.1h0M234.2 499.1h0M241.7 497h0M229.4 506h0M219.1 515.5h0M231.7 501.2h0M240.1 492.1h0M261.2 471.8h0M252.2 484.9h0M203.2 528.7h0M240.6 499h0M204.7 533.2h0M239.5 493.8h0M254.3 488.9h0M244.5 493.5h0M206.6 528.1h0M226.5 503.7h0M211.6 523.8h0M242 489.7h0M245.3 490.5h0M247 492.9h0M222.1 515.8h0M237.9 492.9h0M212.4 518.7h0M259.6 469.2h0M260.1 462.5h0M200.8 530.5h0M235.7 496h0M245.7 488.2h0M213.9 518.1h0M201 531.5h0M198.9 534.2h0M245 477.9h0M199.6 534.2h0M224.1 507.6h0M251 480h0M202.2 529.4h0M245 493.3h0M227 506.4h0M224.3 510h0M230.4 506.8h0M221.8 510.9h0M255.1 480.9h0M242.6 493.4h0M224.1 506h0M206.7 527.8h0M231.8 499.3h0M264.1 473.9h0M257.1 474h0M203.2 528.6h0M222.1 509.7h0M229.5 507.3h0M225.3 510.2h0M206.1 527.8h0M211 520.8h0M233.8 496h0M245.9 481.8h0M245.6 490.4h0M242.7 490.1h0M242.8 498.6h0M199.4 534.2h0M213.1 521.6h0M220.8 514h0M215.6 521.4h0M224.2 514.9h0M224.9 505.9h0M221 514.3h0M199.5 534.2h0M255.4 464.5h0M261.4 471.5h0M239.1 495.7h0M216.6 513.8h0M228.2 507.6h0M258.4 465.6h0M238 502.4h0M244.4 495.8h0M244.6 489.6h0M262.9 476.2h0M241.6 484.8h0M205.9 529.7h0M231.8 504.2h0M259.1 473.4h0M207.3 523.6h0M202.1 527.9h0M202.1 529.2h0M203.4 524.2h0M209.5 523.9h0M249.2 483.5h0M238 491.3h0M246.6 488.6h0M235.2 499.3h0M221.9 512.3h0M250.2 487.1h0M209.9 525.2h0M222.3 512.3h0M226 512.7h0M243.3 488.3h0M248.6 493.8h0M235.9 488.1h0M238.6 486.8h0M217.2 512h0M237.6 496.7h0M253.9 483.4h0M227.5 500.7h0M247.9 484.8h0M232 498.7h0M232.3 503.8h0M238.6 489.8h0M208 526.1h0M212.9 519.2h0M210.3 526.4h0M233.8 502.2h0M242.5 488.5h0M245.1 490.9h0M212.4 521.2h0M220.6 509.5h0M208.3 524.1h0M241.6 485.8h0M226.3 515.7h0M216.6 514.2h0M213.5 517.5h0M260.9 483.3h0M230.3 508h0M263.6 464.9h0M219.8 516.3h0M212.9 521.3h0M245.6 484.9h0M258.4 477.8h0M209.5 521.6h0M255.2 484h0M237.2 494.8h0M257.9 469.5h0M260.7 471.5h0M226.7 514.5h0M260.3 469.7h0M210.6 521.6h0M227.8 508.7h0M227.8 499.8h0M214.8 522.7h0M230.4 495h0M248 489.2h0M205.9 522.8h0M230.2 503h0M233.2 505.7h0M211.6 520.5h0M240.8 491.1h0M215.3 515.6h0M236.1 492.4h0M236.2 501.2h0M247.8 483.3h0M259.9 469.6h0M259.3 476.6h0M231.6 505.4h0M216 519.4h0M214.6 515.7h0M250.2 479.2h0M248.5 489.8h0M250.7 490.7h0M253.3 473.5h0M235.7 504.5h0M257.5 475.7h0M241.8 495.7h0M240.1 501.8h0M253.5 479.7h0M241.4 493h0M249 476.9h0M259.6 462.5h0M224.7 508.9h0M247.9 480.3h0M218.3 511h0M230.6 504.6h0M255.9 483.4h0M262.5 462.5h0M260.8 475.8h0M248.3 485.6h0M254.3 481.5h0M256.6 478.3h0M238.7 497.6h0M214.7 515.6h0M200 529.8h0M248.6 487.3h0M248.5 492.8h0M246.6 486.9h0M236.7 503.4h0M241.8 494.9h0M245.8 481.5h0M233.6 489.7h0M241.9 489.8h0M213.5 521.9h0M233.7 496.1h0M239.9 504.3h0M236 500.5h0M215.6 512.5h0M207.1 523.4h0M241.6 498.7h0M206.2 529.7h0M250.7 478.3h0M210.7 521.8h0M249.3 487.8h0M222.1 509.3h0M257.7 480h0M213.6 524.2h0M209.1 521.2h0M242.9 493.9h0M249.4 490h0M221.6 515.6h0M229.7 502.4h0M242.1 495.5h0M218.1 512.6h0M224.2 509.6h0M235.8 492.7h0M218.6 515.3h0M208.3 525.5h0M258.2 488.2h0M206.8 527.9h0M263.3 466.3h0M254 462.5h0M228 509.8h0M255.1 485.1h0M203 528.4h0M235.6 495.6h0M221.9 513.2h0M218.5 513.9h0M257.3 486.7h0M201.3 531.2h0M255.2 473.5h0M203.9 524.8h0M243.1 491.3h0M217.5 515.9h0M233.2 498h0M259.3 467.9h0M250.9 480.2h0M205.3 528.5h0M218.8 512.8h0M230.7 498.4h0M245.7 491.7h0M199.2 534.2h0M255.3 475.7h0M253.8 478h0M261.3 466.7h0M212 520.1h0M212.7 521.4h0M253.3 483.2h0M232.5 505.1h0M214.8 520.4h0M199.9 533h0M213 520.8h0M242.9 485h0M246.7 493.5h0M222 511h0M258.8 479h0M232.1 494.8h0M232.6 499.4h0M224.6 509.6h0M225.2 504.7h0M222.3 510.3h0M252.7 483.9h0M227.6 499.5h0M213.9 516.5h0M227.3 499.1h0M259.3 467.6h0M240.6 489.1h0M205.7 526.2h0M226.2 510.8h0M229.3 500.9h0M199.7 532.1h0M261.7 468.2h0M258.7 475.5h0M205.4 528.2h0M234.9 502.7h0M219.2 511.2h0M212.6 516.3h0M216.7 516.7h0M202.3 528.8h0M243.8 482.7h0M222.8 512.9h0M244.6 490.8h0M252.1 488.2h0M236.2 491.7h0M221.3 510.6h0M208 525.3h0M241.4 500.2h0M242.9 491.5h0M249.9 478.3h0M207.8 525.1h0M201.8 531h0M256.3 473.8h0M238.4 500.6h0M205 527h0M245.2 485.3h0M202.5 531h0M240.1 497.2h0M235.1 497h0M245.6 488.5h0M204.9 527.6h0M258.2 474.6h0M260.3 472.4h0M263.2 477.1h0M248.9 488.5h0M219.2 512h0M262.8 464.1h0M239 488h0M245.8 492.2h0M242 486h0M212.3 518h0M254.6 479.5h0M241.1 489.9h0M213.2 516.9h0M223.5 503h0M208.2 526.5h0M227.1 503.5h0M263.5 471.6h0M223.9 509.6h0M224.7 504h0M251.3 477.8h0M204.2 529.9h0M206.6 526.1h0M247.6 484.9h0M207.3 528.1h0M238.8 490.5h0M252.2 482h0M235.6 496.9h0M204 527.3h0M212.3 515.2h0M234.1 498.8h0M261.2 475.2h0M241.5 483.3h0M244.4 491.7h0M237.7 497.9h0M220.1 517h0M238.5 489.7h0M199.4 532h0M225.9 505.2h0M251.9 480.9h0M212.2 520.5h0M241.2 496h0M245.9 491.7h0M209 522.1h0M254.9 478.3h0M214.7 513h0M261.7 477.3h0M221.3 513h0M238.8 499.3h0M260.8 464.5h0M252.4 488.4h0M230.6 499.3h0M211.5 517.1h0M239 495h0M237.2 492.7h0M203 533.2h0M223.8 510.3h0M259 485.3h0M233.2 499.2h0M210.6 521.6h0M240.9 496.2h0M228.5 500.8h0M258.5 473.2h0M230.8 504.3h0M200.5 532.3h0M209.4 526.4h0M210.3 522.5h0M261 462.5h0M222.3 512.8h0M221.6 509.6h0M262.6 475.1h0M212.3 517.9h0M239.5 491.8h0M260.8 474.8h0M258.3 486.7h0M209.3 524.2h0M229.6 498.6h0M215.3 517.9h0M244.6 485.7h0M214.9 518.9h0M210.4 526.6h0M216.6 514.6h0M207.3 524.1h0M245.6 490.9h0M217.1 516.5h0M225 506.8h0M216.8 517.5h0M223.7 507.9h0M218.8 514.4h0M221.9 518.7h0" stroke="#6cc4ec" stroke-width="0.8" stroke-linecap="round" stroke-opacity="0.6"/>
<path d="M261.6 462.5h0M256.8 462.5h0M205.2 462.5h0M245.1 462.5h0M262.2 462.5h0M244.3 462.5h0M266.8 462.5h0M217.1 462.5h0M240 462.5h0M236.2 462.5h0M219.5 462.5h0M253.5 462.5h0M229 462.5h0M244.3 462.5h0M253.6 462.5h0M249.7 462.5h0M205.8 462.5h0M202.7 462.5h0M256.3 462.5h0M244.4 462.5h0M209.2 462.5h0M207.9 462.5h0M233.7 462.5h0M211.3 462.5h0M264 462.5h0M214.5 462.5h0M264.9 462.5h0M248.9 462.5h0M237.7 462.5h0M245.8 462.5h0M247.3 462.5h0M218.8 462.5h0M233 462.5h0M203.4 462.5h0M202.2 462.5h0M264.9 462.5h0M258.4 462.5h0M251.6 462.5h0M206.1 462.5h0M242.5 462.5h0M254.8 467.9h0M254.8 473.2h0M254.8 474.2h0M254.8 467.6h0M254.8 481.1h0M254.8 472.5h0M254.8 476.5h0M254.8 473h0M254.8 470.9h0M254.8 473.4h0M257.2 464.8h0M257.2 464.7h0M257.2 467h0M257.2 466.4h0M257.2 471.9h0M257.2 476.2h0M257.2 466h0M257.2 479.1h0M257.2 470.1h0M257.2 469.4h0M259.5 479.2h0M259.5 477.5h0M259.5 468.7h0M259.5 465.2h0M259.5 474h0M259.5 471.3h0M259.5 468h0M259.5 470.4h0M259.5 472.6h0M259.5 469.3h0M261.8 468h0M261.8 466.2h0M261.8 470.8h0M261.8 468.9h0M261.8 477.6h0M261.8 478.3h0M261.8 466.1h0M261.8 477.1h0M261.8 473.1h0M261.8 464.7h0M264.2 478.5h0M264.2 468.5h0M264.2 476.6h0M264.2 469.5h0M264.2 465.9h0M264.2 465.9h0M264.2 466.7h0M264.2 471.6h0M264.2 471.1h0M264.2 478.1h0" stroke="#9ad6f2" stroke-width="0.8" stroke-linecap="round" stroke-opacity="0.7"/>
<line x1="195.5" y1="535.8" x2="271.8" y2="459.2" stroke="#e8521c" stroke-width="1.5"/>
<line x1="194.9" y1="459.7" x2="194.9" y2="537.2" stroke="#3a3a3a" stroke-width="1.2"/>
<line x1="194.3" y1="536.6" x2="272.1" y2="536.6" stroke="#3a3a3a" stroke-width="1.2"/>
<line x1="192.9" y1="533" x2="195.3" y2="533" stroke="#333" stroke-width="0.8"/>
<text x="192.1" y="535.7" font-size="7.6" fill="#4d4d4d" stroke="#4d4d4d" stroke-width="0.18" text-anchor="end">0</text>
<line x1="198.8" y1="536.6" x2="198.8" y2="538.6" stroke="#333" stroke-width="0.8"/>
<text x="198.8" y="544.9" font-size="7.6" fill="#4d4d4d" stroke="#4d4d4d" stroke-width="0.18" text-anchor="middle">0</text>
<line x1="192.9" y1="509.5" x2="195.3" y2="509.5" stroke="#333" stroke-width="0.8"/>
<text x="192.1" y="512.2" font-size="7.6" fill="#4d4d4d" stroke="#4d4d4d" stroke-width="0.18" text-anchor="end">1</text>
<line x1="222.2" y1="536.6" x2="222.2" y2="538.6" stroke="#333" stroke-width="0.8"/>
<text x="222.2" y="544.9" font-size="7.6" fill="#4d4d4d" stroke="#4d4d4d" stroke-width="0.18" text-anchor="middle">1</text>
<line x1="192.9" y1="486" x2="195.3" y2="486" stroke="#333" stroke-width="0.8"/>
<text x="192.1" y="488.7" font-size="7.6" fill="#4d4d4d" stroke="#4d4d4d" stroke-width="0.18" text-anchor="end">2</text>
<line x1="245.5" y1="536.6" x2="245.5" y2="538.6" stroke="#333" stroke-width="0.8"/>
<text x="245.5" y="544.9" font-size="7.6" fill="#4d4d4d" stroke="#4d4d4d" stroke-width="0.18" text-anchor="middle">2</text>
<line x1="192.9" y1="462.5" x2="195.3" y2="462.5" stroke="#333" stroke-width="0.8"/>
<text x="192.1" y="465.2" font-size="7.6" fill="#4d4d4d" stroke="#4d4d4d" stroke-width="0.18" text-anchor="end">3</text>
<line x1="268.9" y1="536.6" x2="268.9" y2="538.6" stroke="#333" stroke-width="0.8"/>
<text x="268.9" y="544.9" font-size="7.6" fill="#4d4d4d" stroke="#4d4d4d" stroke-width="0.18" text-anchor="middle">3</text>
<text x="239.9" y="518.4" font-size="7.2" fill="#111" stroke="#111" stroke-width="0.18" style="font-style:italic;">R = 0.996</text>
<text x="239.4" y="527.2" font-size="7.5" fill="#111" stroke="#111" stroke-width="0.18" style="font-style:italic;">p &lt; 2.2e-16</text>
<path d="M290.6 527.4h0M312.7 507.4h0M288.3 531.2h0M319.2 500.1h0M293 527h0M311.7 506.8h0M302.2 516.5h0M308 512.6h0M313 507.1h0M296.9 521.4h0M315.4 503.1h0M313 505.4h0M306.8 512.8h0M306.6 512.9h0M300 518.8h0M320.4 498.9h0M300.1 520.2h0M294.9 524.4h0M306.1 512.1h0M318.8 501.3h0M318.9 498.6h0M306.7 511.6h0M300.2 519.8h0M312.7 506.3h0M306.1 513h0M315.3 502.8h0M315.7 502.4h0M311.1 509.3h0M320.6 499.9h0M309.2 508.7h0M320.6 498h0M309.3 509.2h0M294.1 524.9h0M308.5 508.9h0M313.4 506.9h0M301.3 516.8h0M292.4 527.7h0M298.8 519.8h0M313.9 503.5h0M293.8 526.7h0M286.9 532.3h0M317.3 501.9h0M320.5 498.6h0M316.9 501.9h0M314.6 505.6h0M312.1 508h0M305.8 512.6h0M309.3 508.8h0M312.6 506.9h0M298 522.5h0M293.7 523.8h0M310.8 507h0M307.6 511h0M321.2 498.9h0M301 518.7h0M301 518h0M290.8 529.4h0M287 531.4h0M291.4 527.9h0M307.2 511.4h0M320.3 499.8h0M290.5 529.7h0M292.1 527.9h0M310.4 508.3h0M297.1 522.4h0M288.1 531.6h0M317.6 500.8h0M291.7 527.5h0M301.8 516h0M312.9 506.2h0M313.8 506.2h0M320 498.8h0M307.3 510.3h0M291.7 528.2h0M289.3 530.1h0M309 510.4h0M305.3 513.4h0M295.2 523.9h0M292.3 527.8h0M298.8 520.7h0M296.6 521.9h0M298.9 519.3h0M298.8 519.6h0M312.9 505.1h0M302.7 516.8h0M316.2 503.1h0M304.1 514.1h0M296.7 523.6h0M318.9 500h0M309.3 511.7h0M316 503.3h0M294.7 525.3h0M320.6 499.7h0M308.7 509.7h0M299.6 520.3h0M295.3 524.3h0M290 529.7h0M287.7 532.4h0M293.4 524.9h0M297.4 522.4h0M305.1 513.8h0M300.4 520h0M288.1 531.7h0M291.6 528.1h0M287.1 532.6h0M287.9 532h0M296.9 522.2h0M308.9 508.5h0M291.9 527.6h0M317.4 501.5h0M321.1 498.2h0M308 508.3h0M288.2 530.1h0M292.9 526.1h0M304.4 514h0M319.2 500.4h0M320.9 498h0M312.3 506.4h0M317.7 501h0M289.9 530.2h0M304.3 515.6h0M303.3 515.4h0M294.1 525h0M306.3 515h0M306.2 512.8h0M320.5 496.6h0M288.8 531.1h0M297 522.1h0M292.5 528h0M294.3 524.3h0M297.7 522.6h0M299.4 520.9h0M320 499.1h0M298 519.2h0M303.4 516.3h0M292.3 528.1h0M294.2 524.7h0M294.1 525.1h0M306.4 511h0M297 523.3h0M296.2 524.4h0M304.8 514.6h0M287.1 532.2h0M316.7 501.7h0M288.3 530.4h0M300.9 519.7h0M321.1 498.7h0M292.4 527.1h0M288.1 530.8h0M303.5 515.2h0M308.6 510.9h0M299.9 520.3h0M294.2 524.4h0M310.7 507.2h0M307.2 509.1h0M298.7 520.7h0M308.1 509.3h0M315.9 504.4h0M304.5 515.1h0M300.1 519.7h0M308.1 511.5h0M304.2 515.8h0M290 529.9h0M318.1 500.7h0M290.9 528.9h0M312.5 505.7h0M301.7 517.6h0M313.9 505h0M304.8 512.8h0M315.2 503.3h0" stroke="#1ea4de" stroke-width="2" stroke-linecap="round"/>
<path d="M324.9 486.4h0M329.8 480.6h0M332.4 480.8h0M325.8 490.1h0M331.4 483.1h0M339.8 472.4h0M340.2 470.7h0M334.3 479.8h0M325.5 488.4h0M329.2 482.1h0M336.2 475.5h0M337.8 468h0M339.2 466.8h0M327.3 489.4h0M326.3 489.1h0M326.3 491h0M335.7 480.2h0M339.3 471.3h0M331 484.9h0M328.5 487.8h0M333.2 480.5h0M328.1 483.7h0M331.2 483.1h0M323.1 492.1h0M321.3 491.3h0M327.7 484.9h0M324.8 488.3h0M322.4 489.9h0M339.5 475.6h0M333.8 478.5h0M327.3 488.1h0M340 469h0M321.4 491.3h0M326.5 490h0M337.8 470.8h0M339.5 476h0M335.9 473.5h0M323.1 490.8h0M331.1 484.5h0M320.7 496.6h0M320.5 495h0M337.3 475.2h0M319.2 497.3h0M321.2 492.2h0M321.4 496.5h0M334.1 478.8h0M332.4 480.7h0M323.7 495.1h0M327.8 485.2h0M339.2 476.6h0" stroke="#1ea4de" stroke-width="2" stroke-linecap="round"/>
<path d="M339.3 470.8h0M337.6 470h0M340.3 468.9h0M343.6 463.3h0M345.3 467.5h0M340.5 472.2h0M342.9 473.5h0M337.3 466.7h0M338.4 464.3h0M343.7 468.1h0M346.5 472.7h0M340 468.3h0M346.8 473.3h0M343 463.4h0M338.2 466h0M344 470h0M342.3 463.3h0M341.6 468.9h0M342.6 473.9h0M345.2 473.6h0M347 462.8h0M345.3 463.7h0M343.2 470.7h0M343 466.3h0M338.2 465.1h0M339.9 468.2h0M339.5 470.9h0M345.9 465.2h0M337.4 465.2h0M346.4 466h0M354.2 464.9h0M356.6 462.5h0M355.4 468.4h0M344.9 481.3h0M347.2 478.9h0M349.5 476.6h0M351.9 471.9h0M327.4 481.3h0M319.2 495.4h0" stroke="#1ea4de" stroke-width="2" stroke-linecap="round"/>
<line x1="283.2" y1="535.8" x2="359.5" y2="459.2" stroke="#e8521c" stroke-width="1.5"/>
<line x1="282.6" y1="459.7" x2="282.6" y2="537.2" stroke="#3a3a3a" stroke-width="1.2"/>
<line x1="282" y1="536.6" x2="359.8" y2="536.6" stroke="#3a3a3a" stroke-width="1.2"/>
<line x1="280.6" y1="533" x2="283" y2="533" stroke="#333" stroke-width="0.8"/>
<text x="279.8" y="535.7" font-size="7.6" fill="#4d4d4d" stroke="#4d4d4d" stroke-width="0.18" text-anchor="end">0</text>
<line x1="286.5" y1="536.6" x2="286.5" y2="538.6" stroke="#333" stroke-width="0.8"/>
<text x="286.5" y="544.9" font-size="7.6" fill="#4d4d4d" stroke="#4d4d4d" stroke-width="0.18" text-anchor="middle">0</text>
<line x1="280.6" y1="509.5" x2="283" y2="509.5" stroke="#333" stroke-width="0.8"/>
<text x="279.8" y="512.2" font-size="7.6" fill="#4d4d4d" stroke="#4d4d4d" stroke-width="0.18" text-anchor="end">1</text>
<line x1="309.9" y1="536.6" x2="309.9" y2="538.6" stroke="#333" stroke-width="0.8"/>
<text x="309.9" y="544.9" font-size="7.6" fill="#4d4d4d" stroke="#4d4d4d" stroke-width="0.18" text-anchor="middle">1</text>
<line x1="280.6" y1="486" x2="283" y2="486" stroke="#333" stroke-width="0.8"/>
<text x="279.8" y="488.7" font-size="7.6" fill="#4d4d4d" stroke="#4d4d4d" stroke-width="0.18" text-anchor="end">2</text>
<line x1="333.2" y1="536.6" x2="333.2" y2="538.6" stroke="#333" stroke-width="0.8"/>
<text x="333.2" y="544.9" font-size="7.6" fill="#4d4d4d" stroke="#4d4d4d" stroke-width="0.18" text-anchor="middle">2</text>
<line x1="280.6" y1="462.5" x2="283" y2="462.5" stroke="#333" stroke-width="0.8"/>
<text x="279.8" y="465.2" font-size="7.6" fill="#4d4d4d" stroke="#4d4d4d" stroke-width="0.18" text-anchor="end">3</text>
<line x1="356.6" y1="536.6" x2="356.6" y2="538.6" stroke="#333" stroke-width="0.8"/>
<text x="356.6" y="544.9" font-size="7.6" fill="#4d4d4d" stroke="#4d4d4d" stroke-width="0.18" text-anchor="middle">3</text>
<text x="327.6" y="518.4" font-size="7.2" fill="#111" stroke="#111" stroke-width="0.18" style="font-style:italic;">R = 0.999</text>
<text x="327.1" y="527.2" font-size="7.5" fill="#111" stroke="#111" stroke-width="0.18" style="font-style:italic;">p &lt; 2.2e-16</text>
<path d="M414.6 489.2h0M389.6 516.2h0M415 489h0M396.3 508.9h0M428.1 479h0M415.3 495.9h0M393 511.6h0M425.8 472.5h0M419.4 488.2h0M385.9 521.2h0M386.7 519.1h0M375 531.5h0M419.1 482.4h0M379.2 526.4h0M390.3 515.7h0M417.2 485.2h0M392 513h0M390.9 515.6h0M378.1 527.8h0M377.1 529.4h0M407.6 494.5h0M382.3 524.7h0M430.5 468.4h0M375.7 532.2h0M392.6 512.4h0M384.9 524.6h0M426.7 479.4h0M418 483.4h0M380.7 526.5h0M377.4 529.4h0M379.1 529.3h0M417.4 481.9h0M417.8 484h0M411.1 493h0M402.8 501.2h0M401.2 503.1h0M409 491.9h0M380.5 526h0M420.6 487.1h0M419.6 484.6h0M413.9 486.5h0M388 517.4h0M386.7 520h0M431.4 468.8h0M429.6 472.6h0M417.9 483.9h0M420 488h0M400.9 505.8h0M425.4 475.4h0M414.5 489.9h0M399.8 504.7h0M414 484.7h0M378.8 528.3h0M397.2 507.6h0M423.5 481.3h0M402.2 504h0M406.7 498h0M406.9 500.9h0M429.2 480.5h0M385.9 518.6h0M414 490.2h0M400.4 502.4h0M387.9 518h0M377 529.9h0M409.8 492.8h0M384.9 520.6h0M408.2 499h0M399.3 503.5h0M397.9 509.2h0M426 476.2h0M379.5 525h0M407 497.3h0M398.4 503.7h0M383 523.9h0M397.3 506.9h0M424.8 478h0M385.8 520h0M413.9 492.3h0M389.9 517.4h0M404.5 499.4h0M406.4 501.7h0M378.4 529.3h0M421.4 479.9h0M396.3 510.2h0M386.4 520.9h0M386.3 521.3h0M431.7 470.1h0M429.3 474.6h0M401.6 503h0M390 516.2h0M415.5 483.2h0M377.3 530.1h0M424.3 484.8h0M374.5 532.6h0M377.1 529.9h0M393.7 511.6h0M400.8 507.4h0M374.5 531.9h0M390.9 515h0M431.6 470.9h0M419.4 488.6h0M377.6 529h0M425.4 477.7h0M401.4 500.8h0M432 471.9h0M392.9 514.7h0M392.3 513.3h0M413.8 492.4h0M402.7 501.3h0M390.3 517.2h0M404.8 500.1h0M411.4 493.3h0M392.4 513.3h0M422.3 482.4h0M417.9 487.9h0M418.2 485.5h0M412.7 492.7h0M387.6 518.3h0M415.4 489.1h0M384.4 524.7h0" stroke="#4cb8e6" stroke-width="1.1" stroke-linecap="round"/>
<path d="M427.6 468.1h0M440.3 469.8h0M437.5 471.3h0M418.3 473.4h0M430 471.3h0M435.3 471.2h0M423.2 471.6h0M427.3 481.1h0M421.5 470.5h0M433.2 473.3h0M434.2 471.8h0M422.8 476.7h0M435.8 464h0M433.7 477.2h0M433 471.8h0M435 472.5h0M437.5 469.9h0M411.8 468.3h0M427.7 476.8h0M415.3 473.8h0M428.6 472.3h0M412.1 478.5h0M432.2 471h0M434.1 473.5h0M419.4 466.3h0M418.2 480.2h0M422.7 472.8h0M417.9 463.3h0M418.6 479h0M431.6 478.6h0M420.1 473.5h0M419.9 469h0M415.8 469.2h0M415.1 470.4h0M441.3 466.5h0M440.3 471h0M416.4 474.3h0M431.7 475.2h0M421.3 476.2h0M427.9 463.4h0M428 467.4h0M427.4 479.7h0M429.4 470.1h0M429.7 475.7h0M419.7 475.1h0M412.5 478.3h0M420.3 471.7h0M439.2 468.1h0M427.2 467.8h0M425.1 480.4h0M432.4 468h0M431.5 465.3h0M435.3 465.7h0M413 462.5h0M429.4 470.2h0M430.2 476.2h0M420.8 464.8h0M432.6 471.9h0M432.6 467.2h0" stroke="#4cb8e6" stroke-width="1.1" stroke-linecap="round"/>
<rect x="433.4" y="462.5" width="0.6" height="18.8" fill="url(#sg)"/>
<rect x="436.9" y="462.5" width="0.6" height="18.8" fill="url(#sg)"/>
<rect x="440.4" y="462.5" width="0.6" height="18.8" fill="url(#sg)"/>
<line x1="370.9" y1="535.8" x2="447.2" y2="459.2" stroke="#e8521c" stroke-width="1.5"/>
<line x1="370.3" y1="459.7" x2="370.3" y2="537.2" stroke="#3a3a3a" stroke-width="1.2"/>
<line x1="369.7" y1="536.6" x2="447.5" y2="536.6" stroke="#3a3a3a" stroke-width="1.2"/>
<line x1="368.3" y1="533" x2="370.7" y2="533" stroke="#333" stroke-width="0.8"/>
<text x="367.5" y="535.7" font-size="7.6" fill="#4d4d4d" stroke="#4d4d4d" stroke-width="0.18" text-anchor="end">0</text>
<line x1="374.2" y1="536.6" x2="374.2" y2="538.6" stroke="#333" stroke-width="0.8"/>
<text x="374.2" y="544.9" font-size="7.6" fill="#4d4d4d" stroke="#4d4d4d" stroke-width="0.18" text-anchor="middle">0</text>
<line x1="368.3" y1="509.5" x2="370.7" y2="509.5" stroke="#333" stroke-width="0.8"/>
<text x="367.5" y="512.2" font-size="7.6" fill="#4d4d4d" stroke="#4d4d4d" stroke-width="0.18" text-anchor="end">1</text>
<line x1="397.6" y1="536.6" x2="397.6" y2="538.6" stroke="#333" stroke-width="0.8"/>
<text x="397.6" y="544.9" font-size="7.6" fill="#4d4d4d" stroke="#4d4d4d" stroke-width="0.18" text-anchor="middle">1</text>
<line x1="368.3" y1="486" x2="370.7" y2="486" stroke="#333" stroke-width="0.8"/>
<text x="367.5" y="488.7" font-size="7.6" fill="#4d4d4d" stroke="#4d4d4d" stroke-width="0.18" text-anchor="end">2</text>
<line x1="420.9" y1="536.6" x2="420.9" y2="538.6" stroke="#333" stroke-width="0.8"/>
<text x="420.9" y="544.9" font-size="7.6" fill="#4d4d4d" stroke="#4d4d4d" stroke-width="0.18" text-anchor="middle">2</text>
<line x1="368.3" y1="462.5" x2="370.7" y2="462.5" stroke="#333" stroke-width="0.8"/>
<text x="367.5" y="465.2" font-size="7.6" fill="#4d4d4d" stroke="#4d4d4d" stroke-width="0.18" text-anchor="end">3</text>
<line x1="444.2" y1="536.6" x2="444.2" y2="538.6" stroke="#333" stroke-width="0.8"/>
<text x="444.2" y="544.9" font-size="7.6" fill="#4d4d4d" stroke="#4d4d4d" stroke-width="0.18" text-anchor="middle">3</text>
<text x="415.3" y="518.4" font-size="7.2" fill="#111" stroke="#111" stroke-width="0.18" style="font-style:italic;">R = 0.999</text>
<text x="414.8" y="527.2" font-size="7.5" fill="#111" stroke="#111" stroke-width="0.18" style="font-style:italic;">p &lt; 2.2e-16</text>
<line x1="496.6" y1="161" x2="496.6" y2="305.9" stroke="#333" stroke-width="1"/>
<line x1="496.1" y1="305.4" x2="648" y2="305.4" stroke="#333" stroke-width="1"/>
<line x1="494.6" y1="183.8" x2="496.6" y2="183.8" stroke="#333" stroke-width="0.8"/>
<text x="493.6" y="186.4" font-size="7.3" fill="#4d4d4d" stroke="#4d4d4d" stroke-width="0.18" text-anchor="end">1e+06</text>
<line x1="494.6" y1="230" x2="496.6" y2="230" stroke="#333" stroke-width="0.8"/>
<text x="493.6" y="232.6" font-size="7.3" fill="#4d4d4d" stroke="#4d4d4d" stroke-width="0.18" text-anchor="end">1e+05</text>
<line x1="494.6" y1="276.1" x2="496.6" y2="276.1" stroke="#333" stroke-width="0.8"/>
<text x="493.6" y="278.7" font-size="7.3" fill="#4d4d4d" stroke="#4d4d4d" stroke-width="0.18" text-anchor="end">1e+04</text>
<line x1="501" y1="305.4" x2="501" y2="307.4" stroke="#333" stroke-width="0.8"/>
<text x="501" y="314.4" font-size="7.3" fill="#4d4d4d" stroke="#4d4d4d" stroke-width="0.18" text-anchor="middle">0</text>
<line x1="547.7" y1="305.4" x2="547.7" y2="307.4" stroke="#333" stroke-width="0.8"/>
<text x="547.7" y="314.4" font-size="7.3" fill="#4d4d4d" stroke="#4d4d4d" stroke-width="0.18" text-anchor="middle">1000</text>
<line x1="594.3" y1="305.4" x2="594.3" y2="307.4" stroke="#333" stroke-width="0.8"/>
<text x="594.3" y="314.4" font-size="7.3" fill="#4d4d4d" stroke="#4d4d4d" stroke-width="0.18" text-anchor="middle">2000</text>
<line x1="641" y1="305.4" x2="641" y2="307.4" stroke="#333" stroke-width="0.8"/>
<text x="641" y="314.4" font-size="7.3" fill="#4d4d4d" stroke="#4d4d4d" stroke-width="0.18" text-anchor="middle">3000</text>
<text x="568.4" y="321.8" font-size="7.2" fill="#111" stroke="#111" stroke-width="0.18" text-anchor="middle">number of interactions</text>
<text x="471" y="232.4" font-size="7.2" fill="#111" stroke="#111" stroke-width="0.18" text-anchor="middle" transform="rotate(-90 471 232.4)">number of cells</text>
<line x1="512.2" y1="167" x2="515.5" y2="173.5" stroke="#111" stroke-width="0.8"/>
<line x1="502.9" y1="182.7" x2="506" y2="188.5" stroke="#111" stroke-width="0.8"/>
<line x1="632.8" y1="166.9" x2="629" y2="172.5" stroke="#111" stroke-width="0.8"/>
<line x1="632.5" y1="183" x2="631.5" y2="189" stroke="#111" stroke-width="0.8"/>
<line x1="625.3" y1="205.6" x2="607" y2="204.6" stroke="#111" stroke-width="0.8"/>
<line x1="634.2" y1="214.9" x2="630.5" y2="218" stroke="#111" stroke-width="0.8"/>
<line x1="632.2" y1="228" x2="628" y2="232.5" stroke="#111" stroke-width="0.8"/>
<line x1="602.4" y1="244.3" x2="599" y2="250" stroke="#111" stroke-width="0.8"/>
<line x1="592.4" y1="271.8" x2="587" y2="270" stroke="#111" stroke-width="0.8"/>
<line x1="608.6" y1="281.6" x2="611.5" y2="277.5" stroke="#111" stroke-width="0.8"/>
<line x1="530.2" y1="286.5" x2="533" y2="283" stroke="#111" stroke-width="0.8"/>
<line x1="593.4" y1="287.6" x2="591.5" y2="291.5" stroke="#111" stroke-width="0.8"/>
<line x1="614.5" y1="298.3" x2="612" y2="294.5" stroke="#111" stroke-width="0.8"/>
<circle cx="512.2" cy="167" r="4.4" fill="#8a86ec"/>
<text x="509.4" y="179.3" font-size="7.3" fill="#111" stroke="#111" stroke-width="0.18">HLCA_hvg</text>
<circle cx="502.9" cy="182.7" r="3.9" fill="#e8800e"/>
<text x="501.7" y="194.5" font-size="7.3" fill="#111" stroke="#111" stroke-width="0.18">AIDA_hvg</text>
<circle cx="632.8" cy="166.9" r="5" fill="#22b2f2"/>
<text x="626.7" y="178" font-size="7.3" fill="#111" stroke="#111" stroke-width="0.18" text-anchor="end">HLCA</text>
<circle cx="632.5" cy="183" r="4.4" fill="#f46a6a"/>
<text x="631.8" y="195.2" font-size="7.3" fill="#111" stroke="#111" stroke-width="0.18" text-anchor="end">AIDA</text>
<circle cx="625.3" cy="205.6" r="3.3" fill="#22b4e4"/>
<text x="605" y="207.2" font-size="7.3" fill="#111" stroke="#111" stroke-width="0.18" text-anchor="end">GBmap</text>
<circle cx="634.2" cy="214.9" r="2.9" fill="#f066c6"/>
<text x="627.7" y="221.9" font-size="7.3" fill="#111" stroke="#111" stroke-width="0.18" text-anchor="end">Retina</text>
<circle cx="632.2" cy="228" r="3.7" fill="#c89a22"/>
<text x="625.6" y="238.1" font-size="7.3" fill="#111" stroke="#111" stroke-width="0.18" text-anchor="end">Angular</text>
<circle cx="602.4" cy="244.3" r="3.9" fill="#f256f2"/>
<text x="603.7" y="256.3" font-size="7.3" fill="#111" stroke="#111" stroke-width="0.18" text-anchor="end">Kidney</text>
<circle cx="592.4" cy="271.8" r="2.5" fill="#98b222"/>
<text x="584.5" y="271.7" font-size="7.3" fill="#111" stroke="#111" stroke-width="0.18" text-anchor="end">BreastB</text>
<circle cx="608.6" cy="281.6" r="2.9" fill="#22b672"/>
<text x="607.8" y="275.1" font-size="7.3" fill="#111" stroke="#111" stroke-width="0.18">ECGE</text>
<circle cx="530.2" cy="286.5" r="2.7" fill="#e676f2"/>
<text x="530.6" y="281" font-size="7.3" fill="#111" stroke="#111" stroke-width="0.18">Ileum</text>
<circle cx="593.4" cy="287.6" r="2" fill="#22c6c6"/>
<text x="596.5" y="299.1" font-size="7.3" fill="#111" stroke="#111" stroke-width="0.18" text-anchor="end">Fibroblast</text>
<circle cx="614.5" cy="298.3" r="4.5" fill="#22b246"/>
<text x="606.8" y="293" font-size="7.3" fill="#111" stroke="#111" stroke-width="0.18">CPDBTD</text>
<line x1="605.4" y1="204.6" x2="622" y2="205.6" stroke="#111" stroke-width="0.8"/>
<circle cx="660" cy="203.6" r="2.4" fill="#000"/>
<text x="673.7" y="206.2" font-size="7.3" fill="#111" stroke="#111" stroke-width="0.18">10</text>
<circle cx="660" cy="224.2" r="3" fill="#000"/>
<text x="673.7" y="226.8" font-size="7.3" fill="#111" stroke="#111" stroke-width="0.18">20</text>
<circle cx="660" cy="244" r="3.5" fill="#000"/>
<text x="673.7" y="246.6" font-size="7.3" fill="#111" stroke="#111" stroke-width="0.18">30</text>
<circle cx="660" cy="265" r="4" fill="#000"/>
<text x="673.7" y="267.6" font-size="7.3" fill="#111" stroke="#111" stroke-width="0.18">40</text>
<circle cx="660" cy="285.6" r="4.5" fill="#000"/>
<text x="673.7" y="288.2" font-size="7.3" fill="#111" stroke="#111" stroke-width="0.18">50</text>
<circle cx="524.2" cy="359.6" r="4.7" fill="#ee7d14"/>
<circle cx="536.5" cy="359.6" r="4.7" fill="#ee6010"/>
<circle cx="548.8" cy="359.6" r="4.7" fill="#ee1020"/>
<circle cx="561.1" cy="359.6" r="4.4" fill="#a8a848"/>
<circle cx="573.4" cy="359.6" r="4.7" fill="#ee9020"/>
<circle cx="585.7" cy="359.6" r="4.2" fill="#ee1020"/>
<circle cx="598" cy="359.6" r="4.7" fill="#e0b818"/>
<circle cx="610.3" cy="359.6" r="4.7" fill="#ee4818"/>
<circle cx="622.6" cy="359.6" r="4.7" fill="#5058a0"/>
<circle cx="634.9" cy="359.6" r="4.7" fill="#e0c010"/>
<circle cx="647.2" cy="359.6" r="4.7" fill="#ee2818"/>
<circle cx="524.2" cy="369.4" r="4.7" fill="#ee7010"/>
<circle cx="536.5" cy="369.4" r="4.7" fill="#ee6010"/>
<circle cx="548.8" cy="369.4" r="4.7" fill="#ee1020"/>
<circle cx="561.1" cy="369.4" r="4.4" fill="#888870"/>
<circle cx="573.4" cy="369.4" r="4.7" fill="#ee9818"/>
<circle cx="585.7" cy="369.4" r="3.7" fill="#ee1020"/>
<circle cx="598" cy="369.4" r="4.7" fill="#e0b818"/>
<circle cx="610.3" cy="369.4" r="4.7" fill="#ee4818"/>
<circle cx="622.6" cy="369.4" r="4.7" fill="#6868a0"/>
<circle cx="634.9" cy="369.4" r="4.7" fill="#e0d010"/>
<circle cx="647.2" cy="369.4" r="4.7" fill="#ee2818"/>
<circle cx="524.2" cy="379" r="4.7" fill="#ee5010"/>
<circle cx="536.5" cy="379" r="4.7" fill="#ee7810"/>
<circle cx="548.8" cy="379" r="4.7" fill="#ee1020"/>
<circle cx="561.1" cy="379" r="3.6" fill="#5860a8"/>
<circle cx="573.4" cy="379" r="4.7" fill="#d8d010"/>
<circle cx="585.7" cy="379" r="3.7" fill="#ee1020"/>
<circle cx="598" cy="379" r="4.7" fill="#e0b818"/>
<circle cx="610.3" cy="379" r="4.7" fill="#ee5810"/>
<circle cx="622.6" cy="379" r="4.7" fill="#3858b0"/>
<circle cx="634.9" cy="379" r="4.7" fill="#a0a050"/>
<circle cx="647.2" cy="379" r="4.7" fill="#ee4018"/>
<circle cx="524.2" cy="388.4" r="4.7" fill="#ee7010"/>
<circle cx="536.5" cy="388.4" r="4.7" fill="#ee9010"/>
<circle cx="548.8" cy="388.4" r="4.7" fill="#ee1020"/>
<circle cx="561.1" cy="388.4" r="3.6" fill="#3858b0"/>
<circle cx="573.4" cy="388.4" r="4.7" fill="#d0d010"/>
<circle cx="585.7" cy="388.4" r="3.7" fill="#ee1020"/>
<circle cx="598" cy="388.4" r="4.7" fill="#e0b018"/>
<circle cx="610.3" cy="388.4" r="4.7" fill="#ee3018"/>
<circle cx="622.6" cy="388.4" r="4.7" fill="#3858b0"/>
<circle cx="634.9" cy="388.4" r="4.7" fill="#888870"/>
<circle cx="647.2" cy="388.4" r="4.7" fill="#ee5010"/>
<circle cx="524.2" cy="398.4" r="4.7" fill="#ee7010"/>
<circle cx="536.5" cy="398.4" r="4.7" fill="#989868"/>
<circle cx="548.8" cy="398.4" r="4.7" fill="#283090"/>
<circle cx="561.1" cy="398.4" r="1.5" fill="#000000"/>
<circle cx="573.4" cy="398.4" r="4.7" fill="#4858b0"/>
<circle cx="585.7" cy="398.4" r="4.7" fill="#ee1020"/>
<circle cx="598" cy="398.4" r="4.7" fill="#989868"/>
<circle cx="610.3" cy="398.4" r="4.7" fill="#ee6810"/>
<circle cx="622.6" cy="398.4" r="4.7" fill="#2848a0"/>
<circle cx="634.9" cy="398.4" r="4.7" fill="#3858b0"/>
<circle cx="647.2" cy="398.4" r="4.7" fill="#ee5010"/>
<line x1="516.6" y1="354" x2="516.6" y2="404.7" stroke="#333" stroke-width="1"/>
<line x1="516.1" y1="404.2" x2="653.5" y2="404.2" stroke="#333" stroke-width="1"/>
<line x1="514.6" y1="359.6" x2="516.6" y2="359.6" stroke="#333" stroke-width="0.8"/>
<text x="514.1" y="362.2" font-size="7.3" fill="#4d4d4d" stroke="#4d4d4d" stroke-width="0.18" text-anchor="end">10k</text>
<line x1="514.6" y1="369.4" x2="516.6" y2="369.4" stroke="#333" stroke-width="0.8"/>
<text x="514.1" y="372" font-size="7.3" fill="#4d4d4d" stroke="#4d4d4d" stroke-width="0.18" text-anchor="end">5k</text>
<line x1="514.6" y1="379" x2="516.6" y2="379" stroke="#333" stroke-width="0.8"/>
<text x="514.1" y="381.6" font-size="7.3" fill="#4d4d4d" stroke="#4d4d4d" stroke-width="0.18" text-anchor="end">1k</text>
<line x1="514.6" y1="388.4" x2="516.6" y2="388.4" stroke="#333" stroke-width="0.8"/>
<text x="514.1" y="391" font-size="7.3" fill="#4d4d4d" stroke="#4d4d4d" stroke-width="0.18" text-anchor="end">0.5k</text>
<line x1="514.6" y1="398.4" x2="516.6" y2="398.4" stroke="#333" stroke-width="0.8"/>
<text x="514.1" y="401" font-size="7.3" fill="#4d4d4d" stroke="#4d4d4d" stroke-width="0.18" text-anchor="end">0.1k</text>
<line x1="524.2" y1="404.2" x2="524.2" y2="406.2" stroke="#333" stroke-width="0.8"/>
<text x="528.7" y="411.5" font-size="7.5" fill="#4d4d4d" stroke="#4d4d4d" stroke-width="0.18" text-anchor="end" transform="rotate(-45 528.7 411.5)">AIDA_hvg</text>
<line x1="536.5" y1="404.2" x2="536.5" y2="406.2" stroke="#333" stroke-width="0.8"/>
<text x="541" y="411.5" font-size="7.5" fill="#4d4d4d" stroke="#4d4d4d" stroke-width="0.18" text-anchor="end" transform="rotate(-45 541 411.5)">Angular</text>
<line x1="548.8" y1="404.2" x2="548.8" y2="406.2" stroke="#333" stroke-width="0.8"/>
<text x="553.3" y="411.5" font-size="7.5" fill="#4d4d4d" stroke="#4d4d4d" stroke-width="0.18" text-anchor="end" transform="rotate(-45 553.3 411.5)">BreastB</text>
<line x1="561.1" y1="404.2" x2="561.1" y2="406.2" stroke="#333" stroke-width="0.8"/>
<text x="565.6" y="411.5" font-size="7.5" fill="#4d4d4d" stroke="#4d4d4d" stroke-width="0.18" text-anchor="end" transform="rotate(-45 565.6 411.5)">CPDBTD</text>
<line x1="573.4" y1="404.2" x2="573.4" y2="406.2" stroke="#333" stroke-width="0.8"/>
<text x="577.9" y="411.5" font-size="7.5" fill="#4d4d4d" stroke="#4d4d4d" stroke-width="0.18" text-anchor="end" transform="rotate(-45 577.9 411.5)">ECGE</text>
<line x1="585.7" y1="404.2" x2="585.7" y2="406.2" stroke="#333" stroke-width="0.8"/>
<text x="590.2" y="411.5" font-size="7.5" fill="#4d4d4d" stroke="#4d4d4d" stroke-width="0.18" text-anchor="end" transform="rotate(-45 590.2 411.5)">Fibroblast</text>
<line x1="598" y1="404.2" x2="598" y2="406.2" stroke="#333" stroke-width="0.8"/>
<text x="602.5" y="411.5" font-size="7.5" fill="#4d4d4d" stroke="#4d4d4d" stroke-width="0.18" text-anchor="end" transform="rotate(-45 602.5 411.5)">GBmap</text>
<line x1="610.3" y1="404.2" x2="610.3" y2="406.2" stroke="#333" stroke-width="0.8"/>
<text x="614.8" y="411.5" font-size="7.5" fill="#4d4d4d" stroke="#4d4d4d" stroke-width="0.18" text-anchor="end" transform="rotate(-45 614.8 411.5)">HLCA_hvg</text>
<line x1="622.6" y1="404.2" x2="622.6" y2="406.2" stroke="#333" stroke-width="0.8"/>
<text x="627.1" y="411.5" font-size="7.5" fill="#4d4d4d" stroke="#4d4d4d" stroke-width="0.18" text-anchor="end" transform="rotate(-45 627.1 411.5)">Ileum</text>
<line x1="634.9" y1="404.2" x2="634.9" y2="406.2" stroke="#333" stroke-width="0.8"/>
<text x="639.4" y="411.5" font-size="7.5" fill="#4d4d4d" stroke="#4d4d4d" stroke-width="0.18" text-anchor="end" transform="rotate(-45 639.4 411.5)">Kidney</text>
<line x1="647.2" y1="404.2" x2="647.2" y2="406.2" stroke="#333" stroke-width="0.8"/>
<text x="651.7" y="411.5" font-size="7.5" fill="#4d4d4d" stroke="#4d4d4d" stroke-width="0.18" text-anchor="end" transform="rotate(-45 651.7 411.5)">Retina</text>
<text x="497.5" y="378.7" font-size="7.1" fill="#111" stroke="#111" stroke-width="0.18" text-anchor="middle" transform="rotate(-90 497.5 378.7)">number of permutations</text>
<text x="613.8" y="449" font-size="7.5" fill="#111" stroke="#111" stroke-width="0.18" text-anchor="middle">IoU</text>
<text x="517" y="461.8" font-size="7.5" fill="#111" stroke="#111" stroke-width="0.18" text-anchor="middle">Precision</text>
<defs><linearGradient id="pg" x1="0" x2="1" y1="0" y2="0"><stop offset="0" stop-color="#0a0a2a"/><stop offset="0.25" stop-color="#1c2466"/><stop offset="0.5" stop-color="#2c44a0"/><stop offset="0.72" stop-color="#3a5cb8"/><stop offset="0.8" stop-color="#6a88c0"/><stop offset="0.86" stop-color="#b8c060"/><stop offset="0.9" stop-color="#f0e020"/><stop offset="0.95" stop-color="#f09020"/><stop offset="1" stop-color="#f02820"/></linearGradient></defs>
<rect x="491.4" y="467" width="47.6" height="9.2" fill="url(#pg)"/>
<line x1="506.2" y1="467" x2="506.2" y2="468.8" stroke="#fff" stroke-width="0.8"/>
<line x1="506.2" y1="474.4" x2="506.2" y2="476.2" stroke="#fff" stroke-width="0.8"/>
<line x1="521.3" y1="467" x2="521.3" y2="468.8" stroke="#fff" stroke-width="0.8"/>
<line x1="521.3" y1="474.4" x2="521.3" y2="476.2" stroke="#fff" stroke-width="0.8"/>
<text x="502.5" y="485.8" font-size="7.3" fill="#111" stroke="#111" stroke-width="0.18" text-anchor="middle">0.98</text>
<text x="519.8" y="485.8" font-size="7.3" fill="#111" stroke="#111" stroke-width="0.18" text-anchor="middle">0.99</text>
<text x="536.5" y="485.8" font-size="7.3" fill="#111" stroke="#111" stroke-width="0.18" text-anchor="middle">1.00</text>
<circle cx="560.6" cy="459.4" r="2.3" fill="#000"/>
<text x="574.1" y="462" font-size="7.3" fill="#111" stroke="#111" stroke-width="0.18">0.95</text>
<circle cx="601.3" cy="459.4" r="3.5" fill="#000"/>
<text x="614.8" y="462" font-size="7.3" fill="#111" stroke="#111" stroke-width="0.18">0.97</text>
<circle cx="642.3" cy="459.4" r="4.5" fill="#000"/>
<text x="655.8" y="462" font-size="7.3" fill="#111" stroke="#111" stroke-width="0.18">0.99</text>
<circle cx="560.6" cy="479.3" r="2.8" fill="#000"/>
<text x="574.1" y="481.9" font-size="7.3" fill="#111" stroke="#111" stroke-width="0.18">0.96</text>
<circle cx="601.3" cy="479.3" r="4" fill="#000"/>
<text x="614.8" y="481.9" font-size="7.3" fill="#111" stroke="#111" stroke-width="0.18">0.98</text>
<circle cx="642.3" cy="479.3" r="4.7" fill="#000"/>
<text x="655.8" y="481.9" font-size="7.3" fill="#111" stroke="#111" stroke-width="0.18">1.00</text>
<defs><clipPath id="cpn0"><circle cx="552.5" cy="506.8" r="8.1"/></clipPath><clipPath id="cpd0"><circle cx="551.6" cy="532.6" r="7.699999999999999"/></clipPath></defs>
<circle cx="552.5" cy="506.8" r="7.5" fill="none" stroke="#3566a8" stroke-width="1.1" stroke-dasharray="2.2 2"/>
<circle cx="558.2" cy="510.3" r="7.5" fill="none" stroke="#ec6a56" stroke-width="1.1" stroke-dasharray="2.2 2"/>
<circle cx="558.2" cy="510.3" r="8.1" fill="#f6e68a" clip-path="url(#cpn0)"/>
<circle cx="551.6" cy="532.6" r="7.1" fill="none" stroke="#3566a8" stroke-width="1.1" stroke-dasharray="2.2 2"/>
<circle cx="560.2" cy="537" r="7.5" fill="#ec6a4c"/>
<circle cx="560.2" cy="537" r="7.5" fill="#f6e68a" clip-path="url(#cpd0)"/>
<line x1="544.3" y1="521.7" x2="567.8" y2="521.7" stroke="#8a8a8a" stroke-width="1.4"/>
<defs><clipPath id="cpn80"><circle cx="632.5" cy="506.8" r="8.1"/></clipPath><clipPath id="cpd80"><circle cx="631.6" cy="532.6" r="7.1"/></clipPath></defs>
<circle cx="632.5" cy="506.8" r="7.5" fill="none" stroke="#3566a8" stroke-width="1.1" stroke-dasharray="2.2 2"/>
<circle cx="638.2" cy="510.3" r="7.5" fill="none" stroke="#ec6a56" stroke-width="1.1" stroke-dasharray="2.2 2"/>
<circle cx="638.2" cy="510.3" r="8.1" fill="#f6e68a" clip-path="url(#cpn80)"/>
<circle cx="631.6" cy="532.6" r="7.1" fill="#1a4d8a"/>
<circle cx="640.2" cy="537" r="7.5" fill="#ec6a4c"/>
<circle cx="640.2" cy="537" r="7.5" fill="#f6e68a" clip-path="url(#cpd80)"/>
<line x1="624.3" y1="521.7" x2="647.8" y2="521.7" stroke="#8a8a8a" stroke-width="1.4"/>
<text x="538.4" y="524.3" font-size="7.2" fill="#111" stroke="#111" stroke-width="0.18" text-anchor="end" style="font-style:italic;">Precision =</text>
<text x="618" y="524.3" font-size="7.2" fill="#111" stroke="#111" stroke-width="0.18" text-anchor="end" style="font-style:italic;">IoU =</text>
<path d="M33.5 643.1 L56.2 643.6 L78.9 646.3 L101.7 642.6 L124.4 642.4 L147.1 636.2 L169.8 627.5 L192.5 627 L215.3 621.3 L238 632 L260.7 629 L283.4 620.3 L306.1 616.6" fill="none" stroke="#dbe6a8" stroke-width="1.4"/>
<path d="M33.5 624.7 L56.2 630 L78.9 632.7 L101.7 630 L124.4 630.7 L147.1 627.2 L169.8 620.8 L192.5 622.8 L215.3 619 L238 626.7 L260.7 620 L283.4 616 L306.1 611.1" fill="none" stroke="#5aaed0" stroke-width="1.4"/>
<path d="M33.5 619.8 L56.2 618.5 L78.9 618.5 L101.7 617 L124.4 614.8 L147.1 607.9 L169.8 601.9 L192.5 601.2 L215.3 597.7 L238 593.7 L260.7 589.7" fill="none" stroke="#d83a6e" stroke-width="1.4"/>
<circle cx="33.5" cy="643.1" r="2.4" fill="#5c3a76"/>
<circle cx="56.2" cy="643.6" r="2.4" fill="#5c3a76"/>
<circle cx="78.9" cy="646.3" r="2.4" fill="#5c3a76"/>
<circle cx="101.7" cy="642.6" r="2.4" fill="#5c3a76"/>
<circle cx="124.4" cy="642.4" r="2.4" fill="#5c3a76"/>
<circle cx="147.1" cy="636.2" r="2.4" fill="#5c3a76"/>
<circle cx="169.8" cy="627.5" r="2.4" fill="#5c3a76"/>
<circle cx="192.5" cy="627" r="2.4" fill="#5c3a76"/>
<circle cx="215.3" cy="621.3" r="2.4" fill="#5c3a76"/>
<circle cx="238" cy="632" r="2.4" fill="#5c3a76"/>
<circle cx="260.7" cy="629" r="2.4" fill="#5c3a76"/>
<circle cx="283.4" cy="620.3" r="2.4" fill="#5c3a76"/>
<circle cx="306.1" cy="616.6" r="2.4" fill="#5c3a76"/>
<circle cx="33.5" cy="624.7" r="2.4" fill="#5c3a76"/>
<circle cx="56.2" cy="630" r="2.4" fill="#5c3a76"/>
<circle cx="78.9" cy="632.7" r="2.4" fill="#5c3a76"/>
<circle cx="101.7" cy="630" r="2.4" fill="#5c3a76"/>
<circle cx="124.4" cy="630.7" r="2.4" fill="#5c3a76"/>
<circle cx="147.1" cy="627.2" r="2.4" fill="#5c3a76"/>
<circle cx="169.8" cy="620.8" r="2.4" fill="#5c3a76"/>
<circle cx="192.5" cy="622.8" r="2.4" fill="#5c3a76"/>
<circle cx="215.3" cy="619" r="2.4" fill="#5c3a76"/>
<circle cx="238" cy="626.7" r="2.4" fill="#5c3a76"/>
<circle cx="260.7" cy="620" r="2.4" fill="#5c3a76"/>
<circle cx="283.4" cy="616" r="2.4" fill="#5c3a76"/>
<circle cx="306.1" cy="611.1" r="2.4" fill="#5c3a76"/>
<circle cx="33.5" cy="619.8" r="2.4" fill="#5c3a76"/>
<circle cx="56.2" cy="618.5" r="2.4" fill="#5c3a76"/>
<circle cx="78.9" cy="618.5" r="2.4" fill="#5c3a76"/>
<circle cx="101.7" cy="617" r="2.4" fill="#5c3a76"/>
<circle cx="124.4" cy="614.8" r="2.4" fill="#5c3a76"/>
<circle cx="147.1" cy="607.9" r="2.4" fill="#5c3a76"/>
<circle cx="169.8" cy="601.9" r="2.4" fill="#5c3a76"/>
<circle cx="192.5" cy="601.2" r="2.4" fill="#5c3a76"/>
<circle cx="215.3" cy="597.7" r="2.4" fill="#5c3a76"/>
<circle cx="238" cy="593.7" r="2.4" fill="#5c3a76"/>
<circle cx="260.7" cy="589.7" r="2.4" fill="#5c3a76"/>
<line x1="19.9" y1="574.9" x2="19.9" y2="650.3" stroke="#333" stroke-width="1"/>
<line x1="19.4" y1="649.8" x2="319.3" y2="649.8" stroke="#333" stroke-width="1"/>
<line x1="17.9" y1="590.5" x2="19.9" y2="590.5" stroke="#333" stroke-width="0.8"/>
<text x="17.4" y="593.1" font-size="7.3" fill="#4d4d4d" stroke="#4d4d4d" stroke-width="0.18" text-anchor="end">100k</text>
<line x1="17.9" y1="612.8" x2="19.9" y2="612.8" stroke="#333" stroke-width="0.8"/>
<text x="17.4" y="615.4" font-size="7.3" fill="#4d4d4d" stroke="#4d4d4d" stroke-width="0.18" text-anchor="end">1k</text>
<line x1="17.9" y1="635.2" x2="19.9" y2="635.2" stroke="#333" stroke-width="0.8"/>
<text x="17.4" y="637.8" font-size="7.3" fill="#4d4d4d" stroke="#4d4d4d" stroke-width="0.18" text-anchor="end">10</text>
<line x1="33.5" y1="649.8" x2="33.5" y2="651.8" stroke="#333" stroke-width="0.8"/>
<text x="36.7" y="656.9" font-size="7.5" fill="#4d4d4d" stroke="#4d4d4d" stroke-width="0.18" text-anchor="end" transform="rotate(-45 36.7 656.9)">CPDBTD</text>
<line x1="56.2" y1="649.8" x2="56.2" y2="651.8" stroke="#333" stroke-width="0.8"/>
<text x="59.4" y="656.9" font-size="7.5" fill="#4d4d4d" stroke="#4d4d4d" stroke-width="0.18" text-anchor="end" transform="rotate(-45 59.4 656.9)">Ileum</text>
<line x1="78.9" y1="649.8" x2="78.9" y2="651.8" stroke="#333" stroke-width="0.8"/>
<text x="82.1" y="656.9" font-size="7.5" fill="#4d4d4d" stroke="#4d4d4d" stroke-width="0.18" text-anchor="end" transform="rotate(-45 82.1 656.9)">Fibroblast</text>
<line x1="101.7" y1="649.8" x2="101.7" y2="651.8" stroke="#333" stroke-width="0.8"/>
<text x="104.9" y="656.9" font-size="7.5" fill="#4d4d4d" stroke="#4d4d4d" stroke-width="0.18" text-anchor="end" transform="rotate(-45 104.9 656.9)">ECGE</text>
<line x1="124.4" y1="649.8" x2="124.4" y2="651.8" stroke="#333" stroke-width="0.8"/>
<text x="127.6" y="656.9" font-size="7.5" fill="#4d4d4d" stroke="#4d4d4d" stroke-width="0.18" text-anchor="end" transform="rotate(-45 127.6 656.9)">BreastB</text>
<line x1="147.1" y1="649.8" x2="147.1" y2="651.8" stroke="#333" stroke-width="0.8"/>
<text x="150.3" y="656.9" font-size="7.5" fill="#4d4d4d" stroke="#4d4d4d" stroke-width="0.18" text-anchor="end" transform="rotate(-45 150.3 656.9)">Kidney</text>
<line x1="169.8" y1="649.8" x2="169.8" y2="651.8" stroke="#333" stroke-width="0.8"/>
<text x="173" y="656.9" font-size="7.5" fill="#4d4d4d" stroke="#4d4d4d" stroke-width="0.18" text-anchor="end" transform="rotate(-45 173 656.9)">Angular</text>
<line x1="192.5" y1="649.8" x2="192.5" y2="651.8" stroke="#333" stroke-width="0.8"/>
<text x="195.7" y="656.9" font-size="7.5" fill="#4d4d4d" stroke="#4d4d4d" stroke-width="0.18" text-anchor="end" transform="rotate(-45 195.7 656.9)">Retina</text>
<line x1="215.3" y1="649.8" x2="215.3" y2="651.8" stroke="#333" stroke-width="0.8"/>
<text x="218.5" y="656.9" font-size="7.5" fill="#4d4d4d" stroke="#4d4d4d" stroke-width="0.18" text-anchor="end" transform="rotate(-45 218.5 656.9)">GBmap</text>
<line x1="238" y1="649.8" x2="238" y2="651.8" stroke="#333" stroke-width="0.8"/>
<text x="241.2" y="656.9" font-size="7.5" fill="#4d4d4d" stroke="#4d4d4d" stroke-width="0.18" text-anchor="end" transform="rotate(-45 241.2 656.9)">AIDA_hvg</text>
<line x1="260.7" y1="649.8" x2="260.7" y2="651.8" stroke="#333" stroke-width="0.8"/>
<text x="263.9" y="656.9" font-size="7.5" fill="#4d4d4d" stroke="#4d4d4d" stroke-width="0.18" text-anchor="end" transform="rotate(-45 263.9 656.9)">HLCA_hvg</text>
<line x1="283.4" y1="649.8" x2="283.4" y2="651.8" stroke="#333" stroke-width="0.8"/>
<text x="286.6" y="656.9" font-size="7.5" fill="#4d4d4d" stroke="#4d4d4d" stroke-width="0.18" text-anchor="end" transform="rotate(-45 286.6 656.9)">AIDA</text>
<line x1="306.1" y1="649.8" x2="306.1" y2="651.8" stroke="#333" stroke-width="0.8"/>
<text x="309.3" y="656.9" font-size="7.5" fill="#4d4d4d" stroke="#4d4d4d" stroke-width="0.18" text-anchor="end" transform="rotate(-45 309.3 656.9)">HLCA</text>
<text x="34.5" y="611.8" font-size="7.6" fill="#111" stroke="#111" stroke-width="0.18" transform="rotate(-45 34.5 611.8)">x 2.75</text>
<text x="57.2" y="610.5" font-size="7.6" fill="#111" stroke="#111" stroke-width="0.18" transform="rotate(-45 57.2 610.5)">x 10.2</text>
<text x="79.9" y="610.5" font-size="7.6" fill="#111" stroke="#111" stroke-width="0.18" transform="rotate(-45 79.9 610.5)">x 18.96</text>
<text x="102.7" y="609" font-size="7.6" fill="#111" stroke="#111" stroke-width="0.18" transform="rotate(-45 102.7 609)">x 14.3</text>
<text x="125.4" y="606.8" font-size="7.6" fill="#111" stroke="#111" stroke-width="0.18" transform="rotate(-45 125.4 606.8)">x 24.84</text>
<text x="148.1" y="599.9" font-size="7.6" fill="#111" stroke="#111" stroke-width="0.18" transform="rotate(-45 148.1 599.9)">x 47.95</text>
<text x="170.8" y="593.9" font-size="7.6" fill="#111" stroke="#111" stroke-width="0.18" transform="rotate(-45 170.8 593.9)">x 46.14</text>
<text x="193.5" y="593.2" font-size="7.6" fill="#111" stroke="#111" stroke-width="0.18" transform="rotate(-45 193.5 593.2)">x 86.66</text>
<text x="216.3" y="589.7" font-size="7.6" fill="#111" stroke="#111" stroke-width="0.18" transform="rotate(-45 216.3 589.7)">x 76.38</text>
<text x="239" y="585.7" font-size="7.6" fill="#111" stroke="#111" stroke-width="0.18" transform="rotate(-45 239 585.7)">x 277.14</text>
<text x="261.7" y="581.7" font-size="7.6" fill="#111" stroke="#111" stroke-width="0.18" transform="rotate(-45 261.7 581.7)">x 491.57</text>
<text x="6" y="610.8" font-size="7.5" fill="#111" stroke="#111" stroke-width="0.18" text-anchor="middle" transform="rotate(-90 6 610.8)">Time (s)</text>
<line x1="106.2" y1="696" x2="121.6" y2="696" stroke="#d83a6e" stroke-width="1.5"/>
<text x="127.6" y="698.6" font-size="7.2" fill="#111" stroke="#111" stroke-width="0.18">CPDB</text>
<line x1="152" y1="696" x2="170" y2="696" stroke="#5aaed0" stroke-width="1.5"/>
<text x="174" y="698.6" font-size="7.5" fill="#111" stroke="#111" stroke-width="0.18">ours</text>
<line x1="193.7" y1="696" x2="209.5" y2="696" stroke="#dbe6a8" stroke-width="1.5"/>
<text x="214.6" y="698.6" font-size="7.5" fill="#111" stroke="#111" stroke-width="0.18">load_data</text>
<rect x="378.1" y="637" width="5.8" height="12.6" fill="#c8e4f0"/>
<rect x="383.9" y="632" width="5.8" height="17.6" fill="#dca4cc"/>
<rect x="383.9" y="638.6" width="5.8" height="4.4" fill="#e8286a"/>
<rect x="383.9" y="643" width="5.8" height="6.6" fill="#ecd4de"/>
<rect x="400.9" y="637.8" width="5.8" height="11.8" fill="#c8e4f0"/>
<rect x="406.7" y="638" width="5.8" height="11.6" fill="#dca4cc"/>
<rect x="406.7" y="639.6" width="5.8" height="3.4" fill="#e8286a"/>
<rect x="406.7" y="643" width="5.8" height="6.6" fill="#ecd4de"/>
<rect x="423.7" y="634.6" width="5.8" height="15" fill="#c8e4f0"/>
<rect x="429.5" y="637" width="5.8" height="12.6" fill="#dca4cc"/>
<rect x="429.5" y="640.7" width="5.8" height="2.3" fill="#e8286a"/>
<rect x="429.5" y="643" width="5.8" height="6.6" fill="#ecd4de"/>
<rect x="446.5" y="635.1" width="5.8" height="14.5" fill="#c8e4f0"/>
<rect x="452.3" y="633" width="5.8" height="16.6" fill="#dca4cc"/>
<rect x="452.3" y="638.6" width="5.8" height="4.4" fill="#e8286a"/>
<rect x="452.3" y="643" width="5.8" height="6.6" fill="#ecd4de"/>
<rect x="469.3" y="628.6" width="5.8" height="21" fill="#c8e4f0"/>
<rect x="475.1" y="633.8" width="5.8" height="15.8" fill="#dca4cc"/>
<rect x="475.1" y="638.6" width="5.8" height="4.4" fill="#e8286a"/>
<rect x="475.1" y="643" width="5.8" height="6.6" fill="#ecd4de"/>
<rect x="492.1" y="618" width="5.8" height="31.6" fill="#c8e4f0"/>
<rect x="497.9" y="629" width="5.8" height="20.6" fill="#dca4cc"/>
<rect x="497.9" y="632" width="5.8" height="11" fill="#e8286a"/>
<rect x="497.9" y="643" width="5.8" height="6.6" fill="#ecd4de"/>
<rect x="514.9" y="611.7" width="5.8" height="37.9" fill="#c8e4f0"/>
<rect x="520.7" y="613.6" width="5.8" height="36" fill="#dca4cc"/>
<rect x="520.7" y="617.1" width="5.8" height="25.9" fill="#e8286a"/>
<rect x="520.7" y="643" width="5.8" height="6.6" fill="#ecd4de"/>
<rect x="537.7" y="605.2" width="5.8" height="44.4" fill="#c8e4f0"/>
<rect x="543.5" y="612.8" width="5.8" height="36.8" fill="#dca4cc"/>
<rect x="543.5" y="616.8" width="5.8" height="26.2" fill="#e8286a"/>
<rect x="543.5" y="643" width="5.8" height="6.6" fill="#ecd4de"/>
<rect x="560.5" y="597.7" width="5.8" height="51.9" fill="#c8e4f0"/>
<rect x="566.3" y="602.3" width="5.8" height="47.3" fill="#dca4cc"/>
<rect x="566.3" y="603.3" width="5.8" height="39.7" fill="#e8286a"/>
<rect x="566.3" y="643" width="5.8" height="6.6" fill="#ecd4de"/>
<rect x="583.3" y="606.3" width="5.8" height="43.3" fill="#c8e4f0"/>
<rect x="589.1" y="602.8" width="5.8" height="46.8" fill="#dca4cc"/>
<rect x="589.1" y="607.9" width="5.8" height="35.1" fill="#e8286a"/>
<rect x="589.1" y="643" width="5.8" height="6.6" fill="#ecd4de"/>
<rect x="606.1" y="598.2" width="5.8" height="51.4" fill="#c8e4f0"/>
<rect x="611.9" y="596.9" width="5.8" height="52.7" fill="#dca4cc"/>
<rect x="611.9" y="602.3" width="5.8" height="40.7" fill="#e8286a"/>
<rect x="611.9" y="643" width="5.8" height="6.6" fill="#ecd4de"/>
<rect x="634.7" y="600.1" width="5.8" height="49.5" fill="#dca4cc"/>
<rect x="634.7" y="604.4" width="5.8" height="38.6" fill="#e8286a"/>
<rect x="634.7" y="643" width="5.8" height="6.6" fill="#ecd4de"/>
<rect x="657.5" y="593.6" width="5.8" height="56" fill="#dca4cc"/>
<rect x="657.5" y="597.4" width="5.8" height="45.6" fill="#e8286a"/>
<rect x="657.5" y="643" width="5.8" height="6.6" fill="#ecd4de"/>
<line x1="370.7" y1="574.7" x2="370.7" y2="650.1" stroke="#333" stroke-width="1.1"/>
<line x1="370.2" y1="650" x2="670.1" y2="650" stroke="#8a8a8a" stroke-width="1.5"/>
<line x1="368.7" y1="597" x2="370.7" y2="597" stroke="#333" stroke-width="0.8"/>
<text x="368.2" y="599.6" font-size="7.3" fill="#4d4d4d" stroke="#4d4d4d" stroke-width="0.18" text-anchor="end">100</text>
<line x1="368.7" y1="616.7" x2="370.7" y2="616.7" stroke="#333" stroke-width="0.8"/>
<text x="368.2" y="619.3" font-size="7.3" fill="#4d4d4d" stroke="#4d4d4d" stroke-width="0.18" text-anchor="end">10</text>
<line x1="368.7" y1="636.4" x2="370.7" y2="636.4" stroke="#333" stroke-width="0.8"/>
<text x="368.2" y="639" font-size="7.3" fill="#4d4d4d" stroke="#4d4d4d" stroke-width="0.18" text-anchor="end">1</text>
<line x1="383.9" y1="649.6" x2="383.9" y2="651.6" stroke="#333" stroke-width="0.8"/>
<text x="387.5" y="656.9" font-size="7.5" fill="#4d4d4d" stroke="#4d4d4d" stroke-width="0.18" text-anchor="end" transform="rotate(-45 387.5 656.9)">CPDBTD</text>
<line x1="406.7" y1="649.6" x2="406.7" y2="651.6" stroke="#333" stroke-width="0.8"/>
<text x="410.3" y="656.9" font-size="7.5" fill="#4d4d4d" stroke="#4d4d4d" stroke-width="0.18" text-anchor="end" transform="rotate(-45 410.3 656.9)">Ileum</text>
<line x1="429.5" y1="649.6" x2="429.5" y2="651.6" stroke="#333" stroke-width="0.8"/>
<text x="433.1" y="656.9" font-size="7.5" fill="#4d4d4d" stroke="#4d4d4d" stroke-width="0.18" text-anchor="end" transform="rotate(-45 433.1 656.9)">Fibroblast</text>
<line x1="452.3" y1="649.6" x2="452.3" y2="651.6" stroke="#333" stroke-width="0.8"/>
<text x="455.9" y="656.9" font-size="7.5" fill="#4d4d4d" stroke="#4d4d4d" stroke-width="0.18" text-anchor="end" transform="rotate(-45 455.9 656.9)">ECGE</text>
<line x1="475.1" y1="649.6" x2="475.1" y2="651.6" stroke="#333" stroke-width="0.8"/>
<text x="478.7" y="656.9" font-size="7.5" fill="#4d4d4d" stroke="#4d4d4d" stroke-width="0.18" text-anchor="end" transform="rotate(-45 478.7 656.9)">BreastB</text>
<line x1="497.9" y1="649.6" x2="497.9" y2="651.6" stroke="#333" stroke-width="0.8"/>
<text x="501.5" y="656.9" font-size="7.5" fill="#4d4d4d" stroke="#4d4d4d" stroke-width="0.18" text-anchor="end" transform="rotate(-45 501.5 656.9)">Kidney</text>
<line x1="520.7" y1="649.6" x2="520.7" y2="651.6" stroke="#333" stroke-width="0.8"/>
<text x="524.3" y="656.9" font-size="7.5" fill="#4d4d4d" stroke="#4d4d4d" stroke-width="0.18" text-anchor="end" transform="rotate(-45 524.3 656.9)">Angular</text>
<line x1="543.5" y1="649.6" x2="543.5" y2="651.6" stroke="#333" stroke-width="0.8"/>
<text x="547.1" y="656.9" font-size="7.5" fill="#4d4d4d" stroke="#4d4d4d" stroke-width="0.18" text-anchor="end" transform="rotate(-45 547.1 656.9)">Retina</text>
<line x1="566.3" y1="649.6" x2="566.3" y2="651.6" stroke="#333" stroke-width="0.8"/>
<text x="569.9" y="656.9" font-size="7.5" fill="#4d4d4d" stroke="#4d4d4d" stroke-width="0.18" text-anchor="end" transform="rotate(-45 569.9 656.9)">GBmap</text>
<line x1="589.1" y1="649.6" x2="589.1" y2="651.6" stroke="#333" stroke-width="0.8"/>
<text x="592.7" y="656.9" font-size="7.5" fill="#4d4d4d" stroke="#4d4d4d" stroke-width="0.18" text-anchor="end" transform="rotate(-45 592.7 656.9)">AIDA_hvg</text>
<line x1="611.9" y1="649.6" x2="611.9" y2="651.6" stroke="#333" stroke-width="0.8"/>
<text x="615.5" y="656.9" font-size="7.5" fill="#4d4d4d" stroke="#4d4d4d" stroke-width="0.18" text-anchor="end" transform="rotate(-45 615.5 656.9)">HLCA_hvg</text>
<line x1="634.7" y1="649.6" x2="634.7" y2="651.6" stroke="#333" stroke-width="0.8"/>
<text x="638.3" y="656.9" font-size="7.5" fill="#4d4d4d" stroke="#4d4d4d" stroke-width="0.18" text-anchor="end" transform="rotate(-45 638.3 656.9)">AIDA</text>
<line x1="657.5" y1="649.6" x2="657.5" y2="651.6" stroke="#333" stroke-width="0.8"/>
<text x="661.1" y="656.9" font-size="7.5" fill="#4d4d4d" stroke="#4d4d4d" stroke-width="0.18" text-anchor="end" transform="rotate(-45 661.1 656.9)">HLCA</text>
<text x="380.4" y="630.3" font-size="7.6" fill="#111" stroke="#111" stroke-width="0.18" transform="rotate(-45 380.4 630.3)">x 0.6</text>
<text x="401.8" y="631.4" font-size="7.6" fill="#111" stroke="#111" stroke-width="0.18" transform="rotate(-45 401.8 631.4)">x 1.05</text>
<text x="424.7" y="628.1" font-size="7.6" fill="#111" stroke="#111" stroke-width="0.18" transform="rotate(-45 424.7 628.1)">x 1.23</text>
<text x="447.5" y="627.9" font-size="7.6" fill="#111" stroke="#111" stroke-width="0.18" transform="rotate(-45 447.5 627.9)">x 0.82</text>
<text x="470.6" y="622.1" font-size="7.6" fill="#111" stroke="#111" stroke-width="0.18" transform="rotate(-45 470.6 622.1)">x 1.84</text>
<text x="494.4" y="612.6" font-size="7.6" fill="#111" stroke="#111" stroke-width="0.18" transform="rotate(-45 494.4 612.6)">x 3.5</text>
<text x="515.8" y="605.3" font-size="7.6" fill="#111" stroke="#111" stroke-width="0.18" transform="rotate(-45 515.8 605.3)">x 1.25</text>
<text x="539.2" y="598.8" font-size="7.6" fill="#111" stroke="#111" stroke-width="0.18" transform="rotate(-45 539.2 598.8)">x 2.5</text>
<text x="561.8" y="590.3" font-size="7.6" fill="#111" stroke="#111" stroke-width="0.18" transform="rotate(-45 561.8 590.3)">x 1.65</text>
<text x="584.2" y="599.2" font-size="7.6" fill="#111" stroke="#111" stroke-width="0.18" transform="rotate(-45 584.2 599.2)">x 0.64</text>
<text x="607.1" y="591.4" font-size="7.6" fill="#111" stroke="#111" stroke-width="0.18" transform="rotate(-45 607.1 591.4)">x 0.65</text>
<text x="353.5" y="613.5" font-size="7.1" fill="#111" stroke="#111" stroke-width="0.18" text-anchor="middle" transform="rotate(-90 353.5 613.5)">Memory (GB)</text>
<circle cx="440.4" cy="696.8" r="5" fill="#ecd4de"/>
<text x="453.4" y="699.4" font-size="7.5" fill="#111" stroke="#111" stroke-width="0.18">init</text>
<circle cx="475.8" cy="696.8" r="5" fill="#e8286a"/>
<text x="488.8" y="699.4" font-size="7.5" fill="#111" stroke="#111" stroke-width="0.18">data_load</text>
<circle cx="533.8" cy="696.8" r="5" fill="#dca4cc"/>
<text x="546.8" y="699.4" font-size="7.5" fill="#111" stroke="#111" stroke-width="0.18">peak</text>
<circle cx="576.4" cy="696.8" r="5" fill="#c8e4f0"/>
<text x="589.4" y="699.4" font-size="7.5" fill="#111" stroke="#111" stroke-width="0.18">CPDB</text>
</svg></body></html>
